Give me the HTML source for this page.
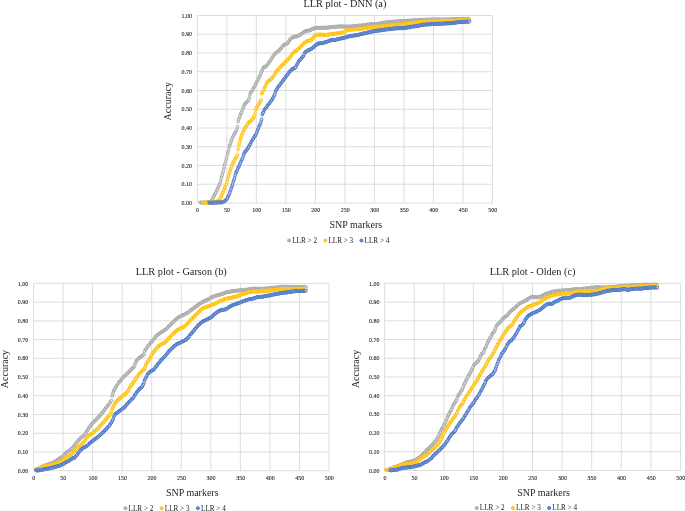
<!DOCTYPE html>
<html><head><meta charset="utf-8"><title>LLR plots</title>
<style>html,body{margin:0;padding:0;background:#fff;} body{width:685px;height:511px;overflow:hidden;font-family:"Liberation Serif", serif;} svg{display:block;will-change:transform;}</style>
</head><body>
<svg width="685" height="511" viewBox="0 0 685 511"><g stroke="#d9d9d9" stroke-width="0.9" fill="none"><line x1="197.30" y1="15.50" x2="492.50" y2="15.50"/><line x1="197.30" y1="15.50" x2="197.30" y2="203.00"/><line x1="197.30" y1="34.25" x2="492.50" y2="34.25"/><line x1="226.82" y1="15.50" x2="226.82" y2="203.00"/><line x1="197.30" y1="53.00" x2="492.50" y2="53.00"/><line x1="256.34" y1="15.50" x2="256.34" y2="203.00"/><line x1="197.30" y1="71.75" x2="492.50" y2="71.75"/><line x1="285.86" y1="15.50" x2="285.86" y2="203.00"/><line x1="197.30" y1="90.50" x2="492.50" y2="90.50"/><line x1="315.38" y1="15.50" x2="315.38" y2="203.00"/><line x1="197.30" y1="109.25" x2="492.50" y2="109.25"/><line x1="344.90" y1="15.50" x2="344.90" y2="203.00"/><line x1="197.30" y1="128.00" x2="492.50" y2="128.00"/><line x1="374.42" y1="15.50" x2="374.42" y2="203.00"/><line x1="197.30" y1="146.75" x2="492.50" y2="146.75"/><line x1="403.94" y1="15.50" x2="403.94" y2="203.00"/><line x1="197.30" y1="165.50" x2="492.50" y2="165.50"/><line x1="433.46" y1="15.50" x2="433.46" y2="203.00"/><line x1="197.30" y1="184.25" x2="492.50" y2="184.25"/><line x1="462.98" y1="15.50" x2="462.98" y2="203.00"/><line x1="197.30" y1="203.00" x2="492.50" y2="203.00"/><line x1="492.50" y1="15.50" x2="492.50" y2="203.00"/></g>
<g font-family='"Liberation Serif", serif' font-size="6" fill="#222222" stroke="#222222" stroke-width="0.1"><text x="192.10" y="205.10" text-anchor="end">0.00</text><text x="197.60" y="212.10" text-anchor="middle">0</text><text x="192.10" y="186.35" text-anchor="end">0.10</text><text x="227.12" y="212.10" text-anchor="middle">50</text><text x="192.10" y="167.60" text-anchor="end">0.20</text><text x="256.64" y="212.10" text-anchor="middle">100</text><text x="192.10" y="148.85" text-anchor="end">0.30</text><text x="286.16" y="212.10" text-anchor="middle">150</text><text x="192.10" y="130.10" text-anchor="end">0.40</text><text x="315.68" y="212.10" text-anchor="middle">200</text><text x="192.10" y="111.35" text-anchor="end">0.50</text><text x="345.20" y="212.10" text-anchor="middle">250</text><text x="192.10" y="92.60" text-anchor="end">0.60</text><text x="374.72" y="212.10" text-anchor="middle">300</text><text x="192.10" y="73.85" text-anchor="end">0.70</text><text x="404.24" y="212.10" text-anchor="middle">350</text><text x="192.10" y="55.10" text-anchor="end">0.80</text><text x="433.76" y="212.10" text-anchor="middle">400</text><text x="192.10" y="36.35" text-anchor="end">0.90</text><text x="463.28" y="212.10" text-anchor="middle">450</text><text x="192.10" y="17.60" text-anchor="end">1.00</text><text x="492.80" y="212.10" text-anchor="middle">500</text></g>
<text x="344.90" y="7.10" text-anchor="middle" font-family='"Liberation Serif", serif' font-size="10.3" fill="#262626">LLR plot - DNN (a)</text>
<text x="355.90" y="228.00" text-anchor="middle" font-family='"Liberation Serif", serif' font-size="10" fill="#262626">SNP markers</text>
<text transform="translate(171.40,101.25) rotate(-90)" text-anchor="middle" font-family='"Liberation Serif", serif' font-size="10" fill="#262626">Accuracy</text>
<circle cx="289.10" cy="240.50" r="1.55" fill="#a5a5a5" fill-opacity="0.8" stroke="#a5a5a5" stroke-width="0.9"/><text x="292.20" y="242.80" font-family='"Liberation Serif", serif' font-size="7.2" fill="#222222">LLR &gt; 2</text><circle cx="325.30" cy="240.50" r="1.55" fill="#ffc000" fill-opacity="0.8" stroke="#ffc000" stroke-width="0.9"/><text x="328.40" y="242.80" font-family='"Liberation Serif", serif' font-size="7.2" fill="#222222">LLR &gt; 3</text><circle cx="361.50" cy="240.50" r="1.55" fill="#4472c4" fill-opacity="0.8" stroke="#4472c4" stroke-width="0.9"/><text x="364.60" y="242.80" font-family='"Liberation Serif", serif' font-size="7.2" fill="#222222">LLR &gt; 4</text>
<g fill="#f0f0f0" stroke="#a5a5a5" stroke-width="0.95"><circle cx="200.30" cy="202.26" r="1.35"/><circle cx="200.89" cy="202.64" r="1.35"/><circle cx="201.48" cy="202.57" r="1.35"/><circle cx="202.07" cy="202.72" r="1.35"/><circle cx="202.66" cy="202.72" r="1.35"/><circle cx="203.25" cy="202.12" r="1.35"/><circle cx="203.84" cy="202.56" r="1.35"/><circle cx="204.43" cy="202.86" r="1.35"/><circle cx="205.02" cy="202.40" r="1.35"/><circle cx="205.61" cy="202.50" r="1.35"/><circle cx="206.20" cy="202.31" r="1.35"/><circle cx="206.79" cy="202.36" r="1.35"/><circle cx="207.38" cy="202.79" r="1.35"/><circle cx="207.98" cy="202.13" r="1.35"/><circle cx="208.57" cy="201.94" r="1.35"/><circle cx="209.16" cy="202.36" r="1.35"/><circle cx="209.75" cy="202.13" r="1.35"/><circle cx="210.34" cy="202.22" r="1.35"/><circle cx="210.93" cy="201.90" r="1.35"/><circle cx="211.52" cy="200.42" r="1.35"/><circle cx="212.11" cy="199.97" r="1.35"/><circle cx="212.70" cy="198.76" r="1.35"/><circle cx="213.29" cy="197.18" r="1.35"/><circle cx="213.88" cy="196.24" r="1.35"/><circle cx="214.47" cy="194.92" r="1.35"/><circle cx="215.06" cy="194.02" r="1.35"/><circle cx="215.65" cy="193.00" r="1.35"/><circle cx="216.24" cy="191.13" r="1.35"/><circle cx="216.83" cy="190.21" r="1.35"/><circle cx="217.42" cy="189.36" r="1.35"/><circle cx="218.01" cy="187.86" r="1.35"/><circle cx="218.60" cy="186.76" r="1.35"/><circle cx="219.19" cy="185.23" r="1.35"/><circle cx="219.78" cy="183.89" r="1.35"/><circle cx="220.37" cy="182.31" r="1.35"/><circle cx="220.96" cy="179.63" r="1.35"/><circle cx="221.55" cy="177.16" r="1.35"/><circle cx="222.14" cy="175.26" r="1.35"/><circle cx="222.74" cy="172.73" r="1.35"/><circle cx="223.33" cy="170.60" r="1.35"/><circle cx="223.92" cy="167.98" r="1.35"/><circle cx="224.51" cy="165.03" r="1.35"/><circle cx="225.10" cy="163.41" r="1.35"/><circle cx="225.69" cy="161.28" r="1.35"/><circle cx="226.28" cy="158.74" r="1.35"/><circle cx="226.87" cy="156.65" r="1.35"/><circle cx="227.46" cy="154.10" r="1.35"/><circle cx="228.05" cy="152.00" r="1.35"/><circle cx="228.64" cy="149.92" r="1.35"/><circle cx="229.23" cy="146.83" r="1.35"/><circle cx="229.82" cy="145.00" r="1.35"/><circle cx="230.41" cy="143.59" r="1.35"/><circle cx="231.00" cy="141.73" r="1.35"/><circle cx="231.59" cy="140.25" r="1.35"/><circle cx="232.18" cy="138.43" r="1.35"/><circle cx="232.77" cy="136.93" r="1.35"/><circle cx="233.36" cy="136.28" r="1.35"/><circle cx="233.95" cy="134.92" r="1.35"/><circle cx="234.54" cy="133.65" r="1.35"/><circle cx="235.13" cy="132.80" r="1.35"/><circle cx="235.72" cy="131.61" r="1.35"/><circle cx="236.31" cy="130.74" r="1.35"/><circle cx="236.90" cy="129.23" r="1.35"/><circle cx="237.50" cy="126.65" r="1.35"/><circle cx="238.09" cy="121.79" r="1.35"/><circle cx="238.68" cy="119.38" r="1.35"/><circle cx="239.27" cy="117.72" r="1.35"/><circle cx="239.86" cy="116.35" r="1.35"/><circle cx="240.45" cy="114.42" r="1.35"/><circle cx="241.04" cy="113.22" r="1.35"/><circle cx="241.63" cy="112.32" r="1.35"/><circle cx="242.22" cy="110.34" r="1.35"/><circle cx="242.81" cy="108.89" r="1.35"/><circle cx="243.40" cy="107.44" r="1.35"/><circle cx="243.99" cy="105.64" r="1.35"/><circle cx="244.58" cy="104.65" r="1.35"/><circle cx="245.17" cy="103.66" r="1.35"/><circle cx="245.76" cy="102.74" r="1.35"/><circle cx="246.35" cy="102.79" r="1.35"/><circle cx="246.94" cy="102.09" r="1.35"/><circle cx="247.53" cy="101.33" r="1.35"/><circle cx="248.12" cy="100.79" r="1.35"/><circle cx="248.71" cy="99.87" r="1.35"/><circle cx="249.30" cy="97.69" r="1.35"/><circle cx="249.89" cy="94.57" r="1.35"/><circle cx="250.48" cy="92.93" r="1.35"/><circle cx="251.07" cy="92.21" r="1.35"/><circle cx="251.66" cy="91.35" r="1.35"/><circle cx="252.26" cy="90.34" r="1.35"/><circle cx="252.85" cy="89.56" r="1.35"/><circle cx="253.44" cy="87.99" r="1.35"/><circle cx="254.03" cy="87.08" r="1.35"/><circle cx="254.62" cy="86.67" r="1.35"/><circle cx="255.21" cy="85.17" r="1.35"/><circle cx="255.80" cy="83.92" r="1.35"/><circle cx="256.39" cy="82.76" r="1.35"/><circle cx="256.98" cy="81.46" r="1.35"/><circle cx="257.57" cy="80.83" r="1.35"/><circle cx="258.16" cy="79.38" r="1.35"/><circle cx="258.75" cy="77.75" r="1.35"/><circle cx="259.34" cy="77.10" r="1.35"/><circle cx="259.93" cy="75.92" r="1.35"/><circle cx="260.52" cy="74.52" r="1.35"/><circle cx="261.11" cy="73.12" r="1.35"/><circle cx="261.70" cy="71.20" r="1.35"/><circle cx="262.29" cy="70.06" r="1.35"/><circle cx="262.88" cy="68.77" r="1.35"/><circle cx="263.47" cy="67.41" r="1.35"/><circle cx="264.06" cy="67.23" r="1.35"/><circle cx="264.65" cy="66.93" r="1.35"/><circle cx="265.24" cy="66.68" r="1.35"/><circle cx="265.83" cy="66.77" r="1.35"/><circle cx="266.42" cy="65.69" r="1.35"/><circle cx="267.02" cy="64.81" r="1.35"/><circle cx="267.61" cy="64.61" r="1.35"/><circle cx="268.20" cy="63.60" r="1.35"/><circle cx="268.79" cy="62.82" r="1.35"/><circle cx="269.38" cy="61.92" r="1.35"/><circle cx="269.97" cy="60.75" r="1.35"/><circle cx="270.56" cy="60.48" r="1.35"/><circle cx="271.15" cy="59.45" r="1.35"/><circle cx="271.74" cy="58.02" r="1.35"/><circle cx="272.33" cy="57.45" r="1.35"/><circle cx="272.92" cy="56.53" r="1.35"/><circle cx="273.51" cy="55.77" r="1.35"/><circle cx="274.10" cy="54.99" r="1.35"/><circle cx="274.69" cy="53.66" r="1.35"/><circle cx="275.28" cy="53.51" r="1.35"/><circle cx="275.87" cy="53.44" r="1.35"/><circle cx="276.46" cy="52.54" r="1.35"/><circle cx="277.05" cy="52.12" r="1.35"/><circle cx="277.64" cy="51.49" r="1.35"/><circle cx="278.23" cy="51.03" r="1.35"/><circle cx="278.82" cy="51.03" r="1.35"/><circle cx="279.41" cy="49.96" r="1.35"/><circle cx="280.00" cy="49.14" r="1.35"/><circle cx="280.59" cy="49.04" r="1.35"/><circle cx="281.18" cy="48.20" r="1.35"/><circle cx="281.78" cy="47.61" r="1.35"/><circle cx="282.37" cy="46.72" r="1.35"/><circle cx="282.96" cy="45.54" r="1.35"/><circle cx="283.55" cy="45.43" r="1.35"/><circle cx="284.14" cy="45.04" r="1.35"/><circle cx="284.73" cy="44.32" r="1.35"/><circle cx="285.32" cy="44.27" r="1.35"/><circle cx="285.91" cy="43.88" r="1.35"/><circle cx="286.50" cy="43.88" r="1.35"/><circle cx="287.09" cy="43.91" r="1.35"/><circle cx="287.68" cy="42.98" r="1.35"/><circle cx="288.27" cy="42.15" r="1.35"/><circle cx="288.86" cy="41.58" r="1.35"/><circle cx="289.45" cy="40.33" r="1.35"/><circle cx="290.04" cy="39.49" r="1.35"/><circle cx="290.63" cy="38.76" r="1.35"/><circle cx="291.22" cy="38.21" r="1.35"/><circle cx="291.81" cy="38.45" r="1.35"/><circle cx="292.40" cy="37.66" r="1.35"/><circle cx="292.99" cy="36.89" r="1.35"/><circle cx="293.58" cy="36.96" r="1.35"/><circle cx="294.17" cy="36.74" r="1.35"/><circle cx="294.76" cy="36.94" r="1.35"/><circle cx="295.35" cy="36.77" r="1.35"/><circle cx="295.94" cy="36.06" r="1.35"/><circle cx="296.54" cy="36.47" r="1.35"/><circle cx="297.13" cy="36.55" r="1.35"/><circle cx="297.72" cy="35.96" r="1.35"/><circle cx="298.31" cy="35.82" r="1.35"/><circle cx="298.90" cy="35.27" r="1.35"/><circle cx="299.49" cy="35.22" r="1.35"/><circle cx="300.08" cy="35.27" r="1.35"/><circle cx="300.67" cy="34.23" r="1.35"/><circle cx="301.26" cy="33.80" r="1.35"/><circle cx="301.85" cy="33.73" r="1.35"/><circle cx="302.44" cy="33.18" r="1.35"/><circle cx="303.03" cy="33.02" r="1.35"/><circle cx="303.62" cy="32.25" r="1.35"/><circle cx="304.21" cy="31.54" r="1.35"/><circle cx="304.80" cy="31.81" r="1.35"/><circle cx="305.39" cy="31.23" r="1.35"/><circle cx="305.98" cy="30.80" r="1.35"/><circle cx="306.57" cy="30.89" r="1.35"/><circle cx="307.16" cy="30.61" r="1.35"/><circle cx="307.75" cy="30.98" r="1.35"/><circle cx="308.34" cy="31.00" r="1.35"/><circle cx="308.93" cy="30.26" r="1.35"/><circle cx="309.52" cy="30.48" r="1.35"/><circle cx="310.11" cy="30.41" r="1.35"/><circle cx="310.70" cy="29.93" r="1.35"/><circle cx="311.30" cy="29.79" r="1.35"/><circle cx="311.89" cy="29.03" r="1.35"/><circle cx="312.48" cy="28.85" r="1.35"/><circle cx="313.07" cy="29.22" r="1.35"/><circle cx="313.66" cy="28.51" r="1.35"/><circle cx="314.25" cy="28.17" r="1.35"/><circle cx="314.84" cy="28.13" r="1.35"/><circle cx="315.43" cy="27.80" r="1.35"/><circle cx="316.02" cy="28.13" r="1.35"/><circle cx="316.61" cy="27.83" r="1.35"/><circle cx="317.20" cy="27.37" r="1.35"/><circle cx="317.79" cy="27.97" r="1.35"/><circle cx="318.38" cy="27.96" r="1.35"/><circle cx="318.97" cy="27.78" r="1.35"/><circle cx="319.56" cy="27.85" r="1.35"/><circle cx="320.15" cy="27.47" r="1.35"/><circle cx="320.74" cy="27.91" r="1.35"/><circle cx="321.33" cy="28.18" r="1.35"/><circle cx="321.92" cy="27.53" r="1.35"/><circle cx="322.51" cy="27.67" r="1.35"/><circle cx="323.10" cy="27.82" r="1.35"/><circle cx="323.69" cy="27.76" r="1.35"/><circle cx="324.28" cy="28.04" r="1.35"/><circle cx="324.87" cy="27.49" r="1.35"/><circle cx="325.46" cy="27.42" r="1.35"/><circle cx="326.06" cy="28.05" r="1.35"/><circle cx="326.65" cy="27.72" r="1.35"/><circle cx="327.24" cy="27.59" r="1.35"/><circle cx="327.83" cy="27.55" r="1.35"/><circle cx="328.42" cy="27.27" r="1.35"/><circle cx="329.01" cy="27.75" r="1.35"/><circle cx="329.60" cy="27.51" r="1.35"/><circle cx="330.19" cy="26.85" r="1.35"/><circle cx="330.78" cy="27.21" r="1.35"/><circle cx="331.37" cy="27.17" r="1.35"/><circle cx="331.96" cy="27.11" r="1.35"/><circle cx="332.55" cy="27.16" r="1.35"/><circle cx="333.14" cy="26.57" r="1.35"/><circle cx="333.73" cy="26.88" r="1.35"/><circle cx="334.32" cy="27.27" r="1.35"/><circle cx="334.91" cy="26.69" r="1.35"/><circle cx="335.50" cy="26.69" r="1.35"/><circle cx="336.09" cy="26.65" r="1.35"/><circle cx="336.68" cy="26.60" r="1.35"/><circle cx="337.27" cy="27.01" r="1.35"/><circle cx="337.86" cy="26.45" r="1.35"/><circle cx="338.45" cy="26.15" r="1.35"/><circle cx="339.04" cy="26.68" r="1.35"/><circle cx="339.63" cy="26.47" r="1.35"/><circle cx="340.22" cy="26.47" r="1.35"/><circle cx="340.82" cy="26.43" r="1.35"/><circle cx="341.41" cy="26.10" r="1.35"/><circle cx="342.00" cy="26.73" r="1.35"/><circle cx="342.59" cy="26.78" r="1.35"/><circle cx="343.18" cy="26.23" r="1.35"/><circle cx="343.77" cy="26.52" r="1.35"/><circle cx="344.36" cy="26.54" r="1.35"/><circle cx="344.95" cy="26.67" r="1.35"/><circle cx="345.54" cy="26.89" r="1.35"/><circle cx="346.13" cy="26.25" r="1.35"/><circle cx="346.72" cy="26.44" r="1.35"/><circle cx="347.31" cy="26.94" r="1.35"/><circle cx="347.90" cy="26.57" r="1.35"/><circle cx="348.49" cy="26.61" r="1.35"/><circle cx="349.08" cy="26.47" r="1.35"/><circle cx="349.67" cy="26.40" r="1.35"/><circle cx="350.26" cy="27.02" r="1.35"/><circle cx="350.85" cy="26.61" r="1.35"/><circle cx="351.44" cy="26.16" r="1.35"/><circle cx="352.03" cy="26.52" r="1.35"/><circle cx="352.62" cy="26.36" r="1.35"/><circle cx="353.21" cy="26.43" r="1.35"/><circle cx="353.80" cy="26.29" r="1.35"/><circle cx="354.39" cy="25.69" r="1.35"/><circle cx="354.98" cy="26.16" r="1.35"/><circle cx="355.58" cy="26.29" r="1.35"/><circle cx="356.17" cy="25.73" r="1.35"/><circle cx="356.76" cy="25.80" r="1.35"/><circle cx="357.35" cy="25.61" r="1.35"/><circle cx="357.94" cy="25.75" r="1.35"/><circle cx="358.53" cy="26.10" r="1.35"/><circle cx="359.12" cy="25.41" r="1.35"/><circle cx="359.71" cy="25.37" r="1.35"/><circle cx="360.30" cy="25.80" r="1.35"/><circle cx="360.89" cy="25.56" r="1.35"/><circle cx="361.48" cy="25.65" r="1.35"/><circle cx="362.07" cy="25.36" r="1.35"/><circle cx="362.66" cy="25.10" r="1.35"/><circle cx="363.25" cy="25.75" r="1.35"/><circle cx="363.84" cy="25.44" r="1.35"/><circle cx="364.43" cy="24.93" r="1.35"/><circle cx="365.02" cy="25.10" r="1.35"/><circle cx="365.61" cy="24.88" r="1.35"/><circle cx="366.20" cy="25.08" r="1.35"/><circle cx="366.79" cy="25.02" r="1.35"/><circle cx="367.38" cy="24.26" r="1.35"/><circle cx="367.97" cy="24.57" r="1.35"/><circle cx="368.56" cy="24.79" r="1.35"/><circle cx="369.15" cy="24.39" r="1.35"/><circle cx="369.74" cy="24.43" r="1.35"/><circle cx="370.34" cy="24.05" r="1.35"/><circle cx="370.93" cy="24.10" r="1.35"/><circle cx="371.52" cy="24.66" r="1.35"/><circle cx="372.11" cy="24.12" r="1.35"/><circle cx="372.70" cy="23.99" r="1.35"/><circle cx="373.29" cy="24.35" r="1.35"/><circle cx="373.88" cy="24.24" r="1.35"/><circle cx="374.47" cy="24.54" r="1.35"/><circle cx="375.06" cy="24.27" r="1.35"/><circle cx="375.65" cy="23.76" r="1.35"/><circle cx="376.24" cy="24.31" r="1.35"/><circle cx="376.83" cy="24.18" r="1.35"/><circle cx="377.42" cy="23.74" r="1.35"/><circle cx="378.01" cy="23.78" r="1.35"/><circle cx="378.60" cy="23.43" r="1.35"/><circle cx="379.19" cy="23.70" r="1.35"/><circle cx="379.78" cy="23.81" r="1.35"/><circle cx="380.37" cy="23.01" r="1.35"/><circle cx="380.96" cy="23.12" r="1.35"/><circle cx="381.55" cy="23.31" r="1.35"/><circle cx="382.14" cy="23.04" r="1.35"/><circle cx="382.73" cy="23.13" r="1.35"/><circle cx="383.32" cy="22.60" r="1.35"/><circle cx="383.91" cy="22.48" r="1.35"/><circle cx="384.50" cy="23.03" r="1.35"/><circle cx="385.10" cy="22.54" r="1.35"/><circle cx="385.69" cy="22.27" r="1.35"/><circle cx="386.28" cy="22.39" r="1.35"/><circle cx="386.87" cy="22.19" r="1.35"/><circle cx="387.46" cy="22.58" r="1.35"/><circle cx="388.05" cy="22.34" r="1.35"/><circle cx="388.64" cy="21.72" r="1.35"/><circle cx="389.23" cy="22.20" r="1.35"/><circle cx="389.82" cy="22.23" r="1.35"/><circle cx="390.41" cy="21.98" r="1.35"/><circle cx="391.00" cy="22.02" r="1.35"/><circle cx="391.59" cy="21.55" r="1.35"/><circle cx="392.18" cy="21.83" r="1.35"/><circle cx="392.77" cy="22.18" r="1.35"/><circle cx="393.36" cy="21.49" r="1.35"/><circle cx="393.95" cy="21.49" r="1.35"/><circle cx="394.54" cy="21.62" r="1.35"/><circle cx="395.13" cy="21.50" r="1.35"/><circle cx="395.72" cy="21.80" r="1.35"/><circle cx="396.31" cy="21.30" r="1.35"/><circle cx="396.90" cy="21.06" r="1.35"/><circle cx="397.49" cy="21.69" r="1.35"/><circle cx="398.08" cy="21.45" r="1.35"/><circle cx="398.67" cy="21.26" r="1.35"/><circle cx="399.26" cy="21.27" r="1.35"/><circle cx="399.86" cy="20.98" r="1.35"/><circle cx="400.45" cy="21.50" r="1.35"/><circle cx="401.04" cy="21.45" r="1.35"/><circle cx="401.63" cy="20.79" r="1.35"/><circle cx="402.22" cy="21.12" r="1.35"/><circle cx="402.81" cy="21.18" r="1.35"/><circle cx="403.40" cy="21.12" r="1.35"/><circle cx="403.99" cy="21.25" r="1.35"/><circle cx="404.58" cy="20.66" r="1.35"/><circle cx="405.17" cy="20.84" r="1.35"/><circle cx="405.76" cy="21.33" r="1.35"/><circle cx="406.35" cy="20.82" r="1.35"/><circle cx="406.94" cy="20.76" r="1.35"/><circle cx="407.53" cy="20.74" r="1.35"/><circle cx="408.12" cy="20.64" r="1.35"/><circle cx="408.71" cy="21.12" r="1.35"/><circle cx="409.30" cy="20.67" r="1.35"/><circle cx="409.89" cy="20.25" r="1.35"/><circle cx="410.48" cy="20.77" r="1.35"/><circle cx="411.07" cy="20.65" r="1.35"/><circle cx="411.66" cy="20.59" r="1.35"/><circle cx="412.25" cy="20.53" r="1.35"/><circle cx="412.84" cy="20.06" r="1.35"/><circle cx="413.43" cy="20.57" r="1.35"/><circle cx="414.02" cy="20.71" r="1.35"/><circle cx="414.62" cy="20.08" r="1.35"/><circle cx="415.21" cy="20.23" r="1.35"/><circle cx="415.80" cy="20.20" r="1.35"/><circle cx="416.39" cy="20.25" r="1.35"/><circle cx="416.98" cy="20.52" r="1.35"/><circle cx="417.57" cy="19.86" r="1.35"/><circle cx="418.16" cy="19.86" r="1.35"/><circle cx="418.75" cy="20.38" r="1.35"/><circle cx="419.34" cy="20.04" r="1.35"/><circle cx="419.93" cy="20.01" r="1.35"/><circle cx="420.52" cy="19.86" r="1.35"/><circle cx="421.11" cy="19.65" r="1.35"/><circle cx="421.70" cy="20.26" r="1.35"/><circle cx="422.29" cy="19.97" r="1.35"/><circle cx="422.88" cy="19.46" r="1.35"/><circle cx="423.47" cy="19.84" r="1.35"/><circle cx="424.06" cy="19.77" r="1.35"/><circle cx="424.65" cy="19.89" r="1.35"/><circle cx="425.24" cy="19.90" r="1.35"/><circle cx="425.83" cy="19.29" r="1.35"/><circle cx="426.42" cy="19.72" r="1.35"/><circle cx="427.01" cy="20.03" r="1.35"/><circle cx="427.60" cy="19.55" r="1.35"/><circle cx="428.19" cy="19.64" r="1.35"/><circle cx="428.78" cy="19.48" r="1.35"/><circle cx="429.38" cy="19.56" r="1.35"/><circle cx="429.97" cy="20.03" r="1.35"/><circle cx="430.56" cy="19.42" r="1.35"/><circle cx="431.15" cy="19.27" r="1.35"/><circle cx="431.74" cy="19.73" r="1.35"/><circle cx="432.33" cy="19.55" r="1.35"/><circle cx="432.92" cy="19.67" r="1.35"/><circle cx="433.51" cy="19.45" r="1.35"/><circle cx="434.10" cy="19.12" r="1.35"/><circle cx="434.69" cy="19.80" r="1.35"/><circle cx="435.28" cy="19.74" r="1.35"/><circle cx="435.87" cy="19.28" r="1.35"/><circle cx="436.46" cy="19.52" r="1.35"/><circle cx="437.05" cy="19.40" r="1.35"/><circle cx="437.64" cy="19.67" r="1.35"/><circle cx="438.23" cy="19.85" r="1.35"/><circle cx="438.82" cy="19.16" r="1.35"/><circle cx="439.41" cy="19.44" r="1.35"/><circle cx="440.00" cy="19.83" r="1.35"/><circle cx="440.59" cy="19.54" r="1.35"/><circle cx="441.18" cy="19.66" r="1.35"/><circle cx="441.77" cy="19.37" r="1.35"/><circle cx="442.36" cy="19.38" r="1.35"/><circle cx="442.95" cy="20.02" r="1.35"/><circle cx="443.54" cy="19.57" r="1.35"/><circle cx="444.14" cy="19.32" r="1.35"/><circle cx="444.73" cy="19.66" r="1.35"/><circle cx="445.32" cy="19.53" r="1.35"/><circle cx="445.91" cy="19.81" r="1.35"/><circle cx="446.50" cy="19.62" r="1.35"/><circle cx="447.09" cy="19.08" r="1.35"/><circle cx="447.68" cy="19.66" r="1.35"/><circle cx="448.27" cy="19.74" r="1.35"/><circle cx="448.86" cy="19.37" r="1.35"/><circle cx="449.45" cy="19.48" r="1.35"/><circle cx="450.04" cy="19.19" r="1.35"/><circle cx="450.63" cy="19.47" r="1.35"/><circle cx="451.22" cy="19.80" r="1.35"/><circle cx="451.81" cy="19.10" r="1.35"/><circle cx="452.40" cy="19.17" r="1.35"/><circle cx="452.99" cy="19.48" r="1.35"/><circle cx="453.58" cy="19.31" r="1.35"/><circle cx="454.17" cy="19.52" r="1.35"/><circle cx="454.76" cy="19.10" r="1.35"/><circle cx="455.35" cy="18.93" r="1.35"/><circle cx="455.94" cy="19.60" r="1.35"/><circle cx="456.53" cy="19.31" r="1.35"/><circle cx="457.12" cy="19.02" r="1.35"/><circle cx="457.71" cy="19.17" r="1.35"/><circle cx="458.30" cy="18.98" r="1.35"/><circle cx="458.90" cy="19.39" r="1.35"/><circle cx="459.49" cy="19.33" r="1.35"/><circle cx="460.08" cy="18.67" r="1.35"/><circle cx="460.67" cy="19.10" r="1.35"/><circle cx="461.26" cy="19.26" r="1.35"/><circle cx="461.85" cy="19.06" r="1.35"/><circle cx="462.44" cy="19.17" r="1.35"/><circle cx="463.03" cy="18.73" r="1.35"/><circle cx="463.62" cy="18.95" r="1.35"/><circle cx="464.21" cy="19.45" r="1.35"/><circle cx="464.80" cy="18.87" r="1.35"/><circle cx="465.39" cy="18.81" r="1.35"/><circle cx="465.98" cy="19.00" r="1.35"/><circle cx="466.57" cy="18.90" r="1.35"/><circle cx="467.16" cy="19.28" r="1.35"/><circle cx="467.75" cy="18.87" r="1.35"/><circle cx="468.34" cy="18.52" r="1.35"/><circle cx="468.93" cy="19.15" r="1.35"/></g>
<g fill="#fff4d0" stroke="#ffc000" stroke-width="0.95"><circle cx="203.20" cy="202.46" r="1.35"/><circle cx="203.79" cy="202.83" r="1.35"/><circle cx="204.38" cy="202.76" r="1.35"/><circle cx="204.97" cy="202.89" r="1.35"/><circle cx="205.56" cy="202.90" r="1.35"/><circle cx="206.15" cy="202.28" r="1.35"/><circle cx="206.74" cy="202.72" r="1.35"/><circle cx="207.33" cy="203.01" r="1.35"/><circle cx="207.92" cy="202.55" r="1.35"/><circle cx="208.51" cy="202.64" r="1.35"/><circle cx="209.10" cy="202.46" r="1.35"/><circle cx="209.69" cy="202.55" r="1.35"/><circle cx="210.28" cy="203.01" r="1.35"/><circle cx="210.88" cy="202.37" r="1.35"/><circle cx="211.47" cy="202.19" r="1.35"/><circle cx="212.06" cy="202.61" r="1.35"/><circle cx="212.65" cy="202.40" r="1.35"/><circle cx="213.24" cy="202.50" r="1.35"/><circle cx="213.83" cy="202.24" r="1.35"/><circle cx="214.42" cy="201.86" r="1.35"/><circle cx="215.01" cy="202.49" r="1.35"/><circle cx="215.60" cy="202.21" r="1.35"/><circle cx="216.19" cy="201.56" r="1.35"/><circle cx="216.78" cy="201.59" r="1.35"/><circle cx="217.37" cy="201.25" r="1.35"/><circle cx="217.96" cy="201.33" r="1.35"/><circle cx="218.55" cy="201.22" r="1.35"/><circle cx="219.14" cy="199.59" r="1.35"/><circle cx="219.73" cy="198.92" r="1.35"/><circle cx="220.32" cy="198.35" r="1.35"/><circle cx="220.91" cy="197.12" r="1.35"/><circle cx="221.50" cy="195.90" r="1.35"/><circle cx="222.09" cy="194.17" r="1.35"/><circle cx="222.68" cy="192.77" r="1.35"/><circle cx="223.27" cy="191.98" r="1.35"/><circle cx="223.86" cy="190.05" r="1.35"/><circle cx="224.45" cy="188.31" r="1.35"/><circle cx="225.04" cy="187.14" r="1.35"/><circle cx="225.64" cy="185.52" r="1.35"/><circle cx="226.23" cy="184.21" r="1.35"/><circle cx="226.82" cy="181.97" r="1.35"/><circle cx="227.41" cy="179.40" r="1.35"/><circle cx="228.00" cy="177.95" r="1.35"/><circle cx="228.59" cy="175.98" r="1.35"/><circle cx="229.18" cy="173.71" r="1.35"/><circle cx="229.77" cy="171.97" r="1.35"/><circle cx="230.36" cy="169.82" r="1.35"/><circle cx="230.95" cy="168.27" r="1.35"/><circle cx="231.54" cy="166.75" r="1.35"/><circle cx="232.13" cy="164.47" r="1.35"/><circle cx="232.72" cy="163.38" r="1.35"/><circle cx="233.31" cy="162.52" r="1.35"/><circle cx="233.90" cy="161.20" r="1.35"/><circle cx="234.49" cy="160.25" r="1.35"/><circle cx="235.08" cy="158.96" r="1.35"/><circle cx="235.67" cy="157.94" r="1.35"/><circle cx="236.26" cy="157.75" r="1.35"/><circle cx="236.85" cy="156.60" r="1.35"/><circle cx="237.44" cy="155.14" r="1.35"/><circle cx="238.03" cy="149.58" r="1.35"/><circle cx="238.62" cy="145.71" r="1.35"/><circle cx="239.21" cy="143.76" r="1.35"/><circle cx="239.80" cy="141.30" r="1.35"/><circle cx="240.40" cy="138.64" r="1.35"/><circle cx="240.99" cy="137.25" r="1.35"/><circle cx="241.58" cy="135.56" r="1.35"/><circle cx="242.17" cy="133.94" r="1.35"/><circle cx="242.76" cy="132.72" r="1.35"/><circle cx="243.35" cy="130.93" r="1.35"/><circle cx="243.94" cy="129.98" r="1.35"/><circle cx="244.53" cy="129.35" r="1.35"/><circle cx="245.12" cy="127.69" r="1.35"/><circle cx="245.71" cy="126.76" r="1.35"/><circle cx="246.30" cy="126.05" r="1.35"/><circle cx="246.89" cy="125.07" r="1.35"/><circle cx="247.48" cy="124.58" r="1.35"/><circle cx="248.07" cy="123.28" r="1.35"/><circle cx="248.66" cy="122.18" r="1.35"/><circle cx="249.25" cy="122.38" r="1.35"/><circle cx="249.84" cy="121.83" r="1.35"/><circle cx="250.43" cy="121.23" r="1.35"/><circle cx="251.02" cy="120.84" r="1.35"/><circle cx="251.61" cy="120.07" r="1.35"/><circle cx="252.20" cy="119.79" r="1.35"/><circle cx="252.79" cy="119.13" r="1.35"/><circle cx="253.38" cy="117.69" r="1.35"/><circle cx="253.97" cy="117.17" r="1.35"/><circle cx="254.56" cy="115.67" r="1.35"/><circle cx="255.16" cy="113.28" r="1.35"/><circle cx="255.75" cy="110.07" r="1.35"/><circle cx="256.34" cy="108.25" r="1.35"/><circle cx="256.93" cy="107.19" r="1.35"/><circle cx="257.52" cy="106.63" r="1.35"/><circle cx="258.11" cy="105.15" r="1.35"/><circle cx="258.70" cy="104.13" r="1.35"/><circle cx="259.29" cy="103.20" r="1.35"/><circle cx="259.88" cy="102.12" r="1.35"/><circle cx="260.47" cy="101.73" r="1.35"/><circle cx="261.06" cy="99.88" r="1.35"/><circle cx="261.65" cy="93.61" r="1.35"/><circle cx="262.24" cy="92.59" r="1.35"/><circle cx="262.83" cy="91.24" r="1.35"/><circle cx="263.42" cy="90.56" r="1.35"/><circle cx="264.01" cy="89.30" r="1.35"/><circle cx="264.60" cy="87.42" r="1.35"/><circle cx="265.19" cy="86.50" r="1.35"/><circle cx="265.78" cy="85.42" r="1.35"/><circle cx="266.37" cy="83.70" r="1.35"/><circle cx="266.96" cy="82.67" r="1.35"/><circle cx="267.55" cy="81.72" r="1.35"/><circle cx="268.14" cy="81.33" r="1.35"/><circle cx="268.73" cy="81.29" r="1.35"/><circle cx="269.32" cy="80.26" r="1.35"/><circle cx="269.92" cy="79.73" r="1.35"/><circle cx="270.51" cy="79.87" r="1.35"/><circle cx="271.10" cy="79.04" r="1.35"/><circle cx="271.69" cy="78.46" r="1.35"/><circle cx="272.28" cy="77.76" r="1.35"/><circle cx="272.87" cy="76.91" r="1.35"/><circle cx="273.46" cy="76.67" r="1.35"/><circle cx="274.05" cy="75.64" r="1.35"/><circle cx="274.64" cy="74.10" r="1.35"/><circle cx="275.23" cy="73.25" r="1.35"/><circle cx="275.82" cy="72.04" r="1.35"/><circle cx="276.41" cy="71.38" r="1.35"/><circle cx="277.00" cy="70.87" r="1.35"/><circle cx="277.59" cy="69.61" r="1.35"/><circle cx="278.18" cy="69.31" r="1.35"/><circle cx="278.77" cy="69.10" r="1.35"/><circle cx="279.36" cy="68.06" r="1.35"/><circle cx="279.95" cy="67.50" r="1.35"/><circle cx="280.54" cy="66.72" r="1.35"/><circle cx="281.13" cy="66.14" r="1.35"/><circle cx="281.72" cy="66.11" r="1.35"/><circle cx="282.31" cy="65.02" r="1.35"/><circle cx="282.90" cy="64.17" r="1.35"/><circle cx="283.49" cy="64.04" r="1.35"/><circle cx="284.08" cy="63.33" r="1.35"/><circle cx="284.68" cy="62.89" r="1.35"/><circle cx="285.27" cy="62.15" r="1.35"/><circle cx="285.86" cy="61.12" r="1.35"/><circle cx="286.45" cy="61.16" r="1.35"/><circle cx="287.04" cy="60.64" r="1.35"/><circle cx="287.63" cy="59.57" r="1.35"/><circle cx="288.22" cy="59.17" r="1.35"/><circle cx="288.81" cy="58.44" r="1.35"/><circle cx="289.40" cy="58.09" r="1.35"/><circle cx="289.99" cy="57.77" r="1.35"/><circle cx="290.58" cy="56.23" r="1.35"/><circle cx="291.17" cy="55.37" r="1.35"/><circle cx="291.76" cy="54.80" r="1.35"/><circle cx="292.35" cy="53.55" r="1.35"/><circle cx="292.94" cy="53.11" r="1.35"/><circle cx="293.53" cy="52.39" r="1.35"/><circle cx="294.12" cy="51.86" r="1.35"/><circle cx="294.71" cy="52.12" r="1.35"/><circle cx="295.30" cy="51.35" r="1.35"/><circle cx="295.89" cy="50.58" r="1.35"/><circle cx="296.48" cy="50.43" r="1.35"/><circle cx="297.07" cy="49.85" r="1.35"/><circle cx="297.66" cy="49.70" r="1.35"/><circle cx="298.25" cy="49.17" r="1.35"/><circle cx="298.84" cy="48.11" r="1.35"/><circle cx="299.44" cy="48.03" r="1.35"/><circle cx="300.03" cy="47.64" r="1.35"/><circle cx="300.62" cy="46.71" r="1.35"/><circle cx="301.21" cy="46.24" r="1.35"/><circle cx="301.80" cy="45.35" r="1.35"/><circle cx="302.39" cy="44.97" r="1.35"/><circle cx="302.98" cy="44.83" r="1.35"/><circle cx="303.57" cy="43.58" r="1.35"/><circle cx="304.16" cy="42.95" r="1.35"/><circle cx="304.75" cy="42.67" r="1.35"/><circle cx="305.34" cy="42.12" r="1.35"/><circle cx="305.93" cy="42.11" r="1.35"/><circle cx="306.52" cy="41.49" r="1.35"/><circle cx="307.11" cy="40.93" r="1.35"/><circle cx="307.70" cy="41.34" r="1.35"/><circle cx="308.29" cy="40.93" r="1.35"/><circle cx="308.88" cy="40.52" r="1.35"/><circle cx="309.47" cy="40.55" r="1.35"/><circle cx="310.06" cy="40.22" r="1.35"/><circle cx="310.65" cy="40.53" r="1.35"/><circle cx="311.24" cy="40.50" r="1.35"/><circle cx="311.83" cy="39.01" r="1.35"/><circle cx="312.42" cy="38.46" r="1.35"/><circle cx="313.01" cy="37.80" r="1.35"/><circle cx="313.60" cy="36.91" r="1.35"/><circle cx="314.20" cy="36.51" r="1.35"/><circle cx="314.79" cy="35.49" r="1.35"/><circle cx="315.38" cy="35.05" r="1.35"/><circle cx="315.97" cy="35.31" r="1.35"/><circle cx="316.56" cy="34.77" r="1.35"/><circle cx="317.15" cy="34.60" r="1.35"/><circle cx="317.74" cy="34.73" r="1.35"/><circle cx="318.33" cy="34.57" r="1.35"/><circle cx="318.92" cy="34.95" r="1.35"/><circle cx="319.51" cy="34.60" r="1.35"/><circle cx="320.10" cy="34.09" r="1.35"/><circle cx="320.69" cy="34.70" r="1.35"/><circle cx="321.28" cy="34.74" r="1.35"/><circle cx="321.87" cy="34.62" r="1.35"/><circle cx="322.46" cy="34.74" r="1.35"/><circle cx="323.05" cy="34.43" r="1.35"/><circle cx="323.64" cy="34.92" r="1.35"/><circle cx="324.23" cy="35.25" r="1.35"/><circle cx="324.82" cy="34.65" r="1.35"/><circle cx="325.41" cy="34.87" r="1.35"/><circle cx="326.00" cy="35.04" r="1.35"/><circle cx="326.59" cy="34.89" r="1.35"/><circle cx="327.18" cy="35.08" r="1.35"/><circle cx="327.77" cy="34.45" r="1.35"/><circle cx="328.36" cy="34.29" r="1.35"/><circle cx="328.96" cy="34.84" r="1.35"/><circle cx="329.55" cy="34.43" r="1.35"/><circle cx="330.14" cy="34.21" r="1.35"/><circle cx="330.73" cy="34.14" r="1.35"/><circle cx="331.32" cy="33.85" r="1.35"/><circle cx="331.91" cy="34.36" r="1.35"/><circle cx="332.50" cy="34.14" r="1.35"/><circle cx="333.09" cy="33.51" r="1.35"/><circle cx="333.68" cy="33.89" r="1.35"/><circle cx="334.27" cy="33.88" r="1.35"/><circle cx="334.86" cy="33.80" r="1.35"/><circle cx="335.45" cy="33.82" r="1.35"/><circle cx="336.04" cy="33.19" r="1.35"/><circle cx="336.63" cy="33.45" r="1.35"/><circle cx="337.22" cy="33.79" r="1.35"/><circle cx="337.81" cy="33.16" r="1.35"/><circle cx="338.40" cy="33.12" r="1.35"/><circle cx="338.99" cy="33.04" r="1.35"/><circle cx="339.58" cy="32.95" r="1.35"/><circle cx="340.17" cy="33.31" r="1.35"/><circle cx="340.76" cy="32.70" r="1.35"/><circle cx="341.35" cy="32.36" r="1.35"/><circle cx="341.94" cy="32.84" r="1.35"/><circle cx="342.53" cy="32.58" r="1.35"/><circle cx="343.12" cy="32.47" r="1.35"/><circle cx="343.72" cy="32.31" r="1.35"/><circle cx="344.31" cy="31.85" r="1.35"/><circle cx="344.90" cy="31.95" r="1.35"/><circle cx="345.49" cy="31.39" r="1.35"/><circle cx="346.08" cy="30.23" r="1.35"/><circle cx="346.67" cy="29.91" r="1.35"/><circle cx="347.26" cy="29.83" r="1.35"/><circle cx="347.85" cy="29.90" r="1.35"/><circle cx="348.44" cy="30.07" r="1.35"/><circle cx="349.03" cy="29.38" r="1.35"/><circle cx="349.62" cy="29.52" r="1.35"/><circle cx="350.21" cy="29.98" r="1.35"/><circle cx="350.80" cy="29.57" r="1.35"/><circle cx="351.39" cy="29.57" r="1.35"/><circle cx="351.98" cy="29.39" r="1.35"/><circle cx="352.57" cy="29.27" r="1.35"/><circle cx="353.16" cy="29.85" r="1.35"/><circle cx="353.75" cy="29.43" r="1.35"/><circle cx="354.34" cy="29.02" r="1.35"/><circle cx="354.93" cy="29.42" r="1.35"/><circle cx="355.52" cy="29.30" r="1.35"/><circle cx="356.11" cy="29.41" r="1.35"/><circle cx="356.70" cy="29.31" r="1.35"/><circle cx="357.29" cy="28.74" r="1.35"/><circle cx="357.88" cy="29.25" r="1.35"/><circle cx="358.48" cy="29.42" r="1.35"/><circle cx="359.07" cy="28.87" r="1.35"/><circle cx="359.66" cy="28.93" r="1.35"/><circle cx="360.25" cy="28.72" r="1.35"/><circle cx="360.84" cy="28.81" r="1.35"/><circle cx="361.43" cy="29.13" r="1.35"/><circle cx="362.02" cy="28.40" r="1.35"/><circle cx="362.61" cy="28.32" r="1.35"/><circle cx="363.20" cy="28.71" r="1.35"/><circle cx="363.79" cy="28.43" r="1.35"/><circle cx="364.38" cy="28.48" r="1.35"/><circle cx="364.97" cy="28.15" r="1.35"/><circle cx="365.56" cy="27.84" r="1.35"/><circle cx="366.15" cy="28.44" r="1.35"/><circle cx="366.74" cy="28.15" r="1.35"/><circle cx="367.33" cy="27.66" r="1.35"/><circle cx="367.92" cy="27.84" r="1.35"/><circle cx="368.51" cy="27.64" r="1.35"/><circle cx="369.10" cy="27.85" r="1.35"/><circle cx="369.69" cy="27.81" r="1.35"/><circle cx="370.28" cy="27.07" r="1.35"/><circle cx="370.87" cy="27.43" r="1.35"/><circle cx="371.46" cy="27.69" r="1.35"/><circle cx="372.05" cy="27.34" r="1.35"/><circle cx="372.64" cy="27.42" r="1.35"/><circle cx="373.24" cy="27.08" r="1.35"/><circle cx="373.83" cy="27.16" r="1.35"/><circle cx="374.42" cy="27.69" r="1.35"/><circle cx="375.01" cy="27.09" r="1.35"/><circle cx="375.60" cy="26.88" r="1.35"/><circle cx="376.19" cy="27.16" r="1.35"/><circle cx="376.78" cy="26.97" r="1.35"/><circle cx="377.37" cy="27.19" r="1.35"/><circle cx="377.96" cy="26.86" r="1.35"/><circle cx="378.55" cy="26.39" r="1.35"/><circle cx="379.14" cy="26.99" r="1.35"/><circle cx="379.73" cy="26.89" r="1.35"/><circle cx="380.32" cy="26.50" r="1.35"/><circle cx="380.91" cy="26.57" r="1.35"/><circle cx="381.50" cy="26.26" r="1.35"/><circle cx="382.09" cy="26.57" r="1.35"/><circle cx="382.68" cy="26.73" r="1.35"/><circle cx="383.27" cy="25.97" r="1.35"/><circle cx="383.86" cy="26.12" r="1.35"/><circle cx="384.45" cy="26.35" r="1.35"/><circle cx="385.04" cy="26.12" r="1.35"/><circle cx="385.63" cy="26.25" r="1.35"/><circle cx="386.22" cy="25.75" r="1.35"/><circle cx="386.81" cy="25.66" r="1.35"/><circle cx="387.40" cy="26.25" r="1.35"/><circle cx="388.00" cy="25.79" r="1.35"/><circle cx="388.59" cy="25.52" r="1.35"/><circle cx="389.18" cy="25.63" r="1.35"/><circle cx="389.77" cy="25.42" r="1.35"/><circle cx="390.36" cy="25.79" r="1.35"/><circle cx="390.95" cy="25.55" r="1.35"/><circle cx="391.54" cy="24.91" r="1.35"/><circle cx="392.13" cy="25.38" r="1.35"/><circle cx="392.72" cy="25.39" r="1.35"/><circle cx="393.31" cy="25.13" r="1.35"/><circle cx="393.90" cy="25.16" r="1.35"/><circle cx="394.49" cy="24.68" r="1.35"/><circle cx="395.08" cy="24.96" r="1.35"/><circle cx="395.67" cy="25.30" r="1.35"/><circle cx="396.26" cy="24.62" r="1.35"/><circle cx="396.85" cy="24.63" r="1.35"/><circle cx="397.44" cy="24.76" r="1.35"/><circle cx="398.03" cy="24.65" r="1.35"/><circle cx="398.62" cy="24.94" r="1.35"/><circle cx="399.21" cy="24.42" r="1.35"/><circle cx="399.80" cy="24.16" r="1.35"/><circle cx="400.39" cy="24.77" r="1.35"/><circle cx="400.98" cy="24.51" r="1.35"/><circle cx="401.57" cy="24.31" r="1.35"/><circle cx="402.16" cy="24.30" r="1.35"/><circle cx="402.76" cy="23.99" r="1.35"/><circle cx="403.35" cy="24.48" r="1.35"/><circle cx="403.94" cy="24.42" r="1.35"/><circle cx="404.53" cy="23.74" r="1.35"/><circle cx="405.12" cy="24.03" r="1.35"/><circle cx="405.71" cy="24.04" r="1.35"/><circle cx="406.30" cy="23.93" r="1.35"/><circle cx="406.89" cy="24.01" r="1.35"/><circle cx="407.48" cy="23.37" r="1.35"/><circle cx="408.07" cy="23.51" r="1.35"/><circle cx="408.66" cy="23.96" r="1.35"/><circle cx="409.25" cy="23.40" r="1.35"/><circle cx="409.84" cy="23.30" r="1.35"/><circle cx="410.43" cy="23.25" r="1.35"/><circle cx="411.02" cy="23.10" r="1.35"/><circle cx="411.61" cy="23.54" r="1.35"/><circle cx="412.20" cy="23.05" r="1.35"/><circle cx="412.79" cy="22.59" r="1.35"/><circle cx="413.38" cy="23.07" r="1.35"/><circle cx="413.97" cy="22.91" r="1.35"/><circle cx="414.56" cy="22.80" r="1.35"/><circle cx="415.15" cy="22.70" r="1.35"/><circle cx="415.74" cy="22.19" r="1.35"/><circle cx="416.33" cy="22.65" r="1.35"/><circle cx="416.92" cy="22.75" r="1.35"/><circle cx="417.52" cy="22.07" r="1.35"/><circle cx="418.11" cy="22.18" r="1.35"/><circle cx="418.70" cy="22.11" r="1.35"/><circle cx="419.29" cy="22.11" r="1.35"/><circle cx="419.88" cy="22.34" r="1.35"/><circle cx="420.47" cy="21.69" r="1.35"/><circle cx="421.06" cy="21.71" r="1.35"/><circle cx="421.65" cy="22.25" r="1.35"/><circle cx="422.24" cy="21.92" r="1.35"/><circle cx="422.83" cy="21.91" r="1.35"/><circle cx="423.42" cy="21.77" r="1.35"/><circle cx="424.01" cy="21.58" r="1.35"/><circle cx="424.60" cy="22.20" r="1.35"/><circle cx="425.19" cy="21.92" r="1.35"/><circle cx="425.78" cy="21.43" r="1.35"/><circle cx="426.37" cy="21.81" r="1.35"/><circle cx="426.96" cy="21.74" r="1.35"/><circle cx="427.55" cy="21.86" r="1.35"/><circle cx="428.14" cy="21.86" r="1.35"/><circle cx="428.73" cy="21.25" r="1.35"/><circle cx="429.32" cy="21.67" r="1.35"/><circle cx="429.91" cy="21.97" r="1.35"/><circle cx="430.50" cy="21.49" r="1.35"/><circle cx="431.09" cy="21.57" r="1.35"/><circle cx="431.68" cy="21.41" r="1.35"/><circle cx="432.28" cy="21.49" r="1.35"/><circle cx="432.87" cy="21.95" r="1.35"/><circle cx="433.46" cy="21.34" r="1.35"/><circle cx="434.05" cy="21.17" r="1.35"/><circle cx="434.64" cy="21.62" r="1.35"/><circle cx="435.23" cy="21.43" r="1.35"/><circle cx="435.82" cy="21.53" r="1.35"/><circle cx="436.41" cy="21.30" r="1.35"/><circle cx="437.00" cy="20.93" r="1.35"/><circle cx="437.59" cy="21.57" r="1.35"/><circle cx="438.18" cy="21.48" r="1.35"/><circle cx="438.77" cy="20.99" r="1.35"/><circle cx="439.36" cy="21.19" r="1.35"/><circle cx="439.95" cy="21.04" r="1.35"/><circle cx="440.54" cy="21.27" r="1.35"/><circle cx="441.13" cy="21.41" r="1.35"/><circle cx="441.72" cy="20.69" r="1.35"/><circle cx="442.31" cy="20.93" r="1.35"/><circle cx="442.90" cy="21.28" r="1.35"/><circle cx="443.49" cy="20.96" r="1.35"/><circle cx="444.08" cy="21.04" r="1.35"/><circle cx="444.67" cy="20.71" r="1.35"/><circle cx="445.26" cy="20.70" r="1.35"/><circle cx="445.85" cy="21.32" r="1.35"/><circle cx="446.44" cy="20.85" r="1.35"/><circle cx="447.04" cy="20.59" r="1.35"/><circle cx="447.63" cy="20.91" r="1.35"/><circle cx="448.22" cy="20.78" r="1.35"/><circle cx="448.81" cy="21.06" r="1.35"/><circle cx="449.40" cy="20.88" r="1.35"/><circle cx="449.99" cy="20.35" r="1.35"/><circle cx="450.58" cy="20.94" r="1.35"/><circle cx="451.17" cy="21.02" r="1.35"/><circle cx="451.76" cy="20.66" r="1.35"/><circle cx="452.35" cy="20.78" r="1.35"/><circle cx="452.94" cy="20.50" r="1.35"/><circle cx="453.53" cy="20.79" r="1.35"/><circle cx="454.12" cy="21.13" r="1.35"/><circle cx="454.71" cy="20.43" r="1.35"/><circle cx="455.30" cy="20.50" r="1.35"/><circle cx="455.89" cy="20.80" r="1.35"/><circle cx="456.48" cy="20.63" r="1.35"/><circle cx="457.07" cy="20.82" r="1.35"/><circle cx="457.66" cy="20.40" r="1.35"/><circle cx="458.25" cy="20.22" r="1.35"/><circle cx="458.84" cy="20.88" r="1.35"/><circle cx="459.43" cy="20.58" r="1.35"/><circle cx="460.02" cy="20.28" r="1.35"/><circle cx="460.61" cy="20.42" r="1.35"/><circle cx="461.20" cy="20.22" r="1.35"/><circle cx="461.80" cy="20.63" r="1.35"/><circle cx="462.39" cy="20.55" r="1.35"/><circle cx="462.98" cy="19.89" r="1.35"/><circle cx="463.57" cy="20.30" r="1.35"/><circle cx="464.16" cy="20.45" r="1.35"/><circle cx="464.75" cy="20.23" r="1.35"/><circle cx="465.34" cy="20.32" r="1.35"/><circle cx="465.93" cy="19.86" r="1.35"/><circle cx="466.52" cy="20.07" r="1.35"/><circle cx="467.11" cy="20.56" r="1.35"/><circle cx="467.70" cy="19.96" r="1.35"/><circle cx="468.29" cy="19.88" r="1.35"/><circle cx="468.88" cy="20.05" r="1.35"/><circle cx="469.47" cy="19.94" r="1.35"/></g>
<g fill="#e0e8f6" stroke="#4472c4" stroke-width="0.95"><circle cx="209.10" cy="202.46" r="1.35"/><circle cx="209.69" cy="202.83" r="1.35"/><circle cx="210.28" cy="202.75" r="1.35"/><circle cx="210.87" cy="202.89" r="1.35"/><circle cx="211.46" cy="202.89" r="1.35"/><circle cx="212.05" cy="202.27" r="1.35"/><circle cx="212.64" cy="202.70" r="1.35"/><circle cx="213.23" cy="203.00" r="1.35"/><circle cx="213.82" cy="202.53" r="1.35"/><circle cx="214.41" cy="202.61" r="1.35"/><circle cx="215.00" cy="202.43" r="1.35"/><circle cx="215.59" cy="202.52" r="1.35"/><circle cx="216.18" cy="202.98" r="1.35"/><circle cx="216.78" cy="202.36" r="1.35"/><circle cx="217.37" cy="202.21" r="1.35"/><circle cx="217.96" cy="202.65" r="1.35"/><circle cx="218.55" cy="202.46" r="1.35"/><circle cx="219.14" cy="202.58" r="1.35"/><circle cx="219.73" cy="202.35" r="1.35"/><circle cx="220.32" cy="201.98" r="1.35"/><circle cx="220.91" cy="202.64" r="1.35"/><circle cx="221.50" cy="202.54" r="1.35"/><circle cx="222.09" cy="202.03" r="1.35"/><circle cx="222.68" cy="202.00" r="1.35"/><circle cx="223.27" cy="201.61" r="1.35"/><circle cx="223.86" cy="201.64" r="1.35"/><circle cx="224.45" cy="201.54" r="1.35"/><circle cx="225.04" cy="200.57" r="1.35"/><circle cx="225.63" cy="200.14" r="1.35"/><circle cx="226.22" cy="199.80" r="1.35"/><circle cx="226.81" cy="198.80" r="1.35"/><circle cx="227.40" cy="198.22" r="1.35"/><circle cx="227.99" cy="196.68" r="1.35"/><circle cx="228.58" cy="195.37" r="1.35"/><circle cx="229.17" cy="194.67" r="1.35"/><circle cx="229.76" cy="192.70" r="1.35"/><circle cx="230.35" cy="190.73" r="1.35"/><circle cx="230.94" cy="189.32" r="1.35"/><circle cx="231.54" cy="187.46" r="1.35"/><circle cx="232.13" cy="186.04" r="1.35"/><circle cx="232.72" cy="184.05" r="1.35"/><circle cx="233.31" cy="181.42" r="1.35"/><circle cx="233.90" cy="179.90" r="1.35"/><circle cx="234.49" cy="177.87" r="1.35"/><circle cx="235.08" cy="175.42" r="1.35"/><circle cx="235.67" cy="173.65" r="1.35"/><circle cx="236.26" cy="172.03" r="1.35"/><circle cx="236.85" cy="171.02" r="1.35"/><circle cx="237.44" cy="170.03" r="1.35"/><circle cx="238.03" cy="168.02" r="1.35"/><circle cx="238.62" cy="166.78" r="1.35"/><circle cx="239.21" cy="165.77" r="1.35"/><circle cx="239.80" cy="164.28" r="1.35"/><circle cx="240.39" cy="163.17" r="1.35"/><circle cx="240.98" cy="161.41" r="1.35"/><circle cx="241.57" cy="159.91" r="1.35"/><circle cx="242.16" cy="159.25" r="1.35"/><circle cx="242.75" cy="157.63" r="1.35"/><circle cx="243.34" cy="155.64" r="1.35"/><circle cx="243.93" cy="153.95" r="1.35"/><circle cx="244.52" cy="152.18" r="1.35"/><circle cx="245.11" cy="152.02" r="1.35"/><circle cx="245.70" cy="151.34" r="1.35"/><circle cx="246.30" cy="150.09" r="1.35"/><circle cx="246.89" cy="149.75" r="1.35"/><circle cx="247.48" cy="148.95" r="1.35"/><circle cx="248.07" cy="147.82" r="1.35"/><circle cx="248.66" cy="146.99" r="1.35"/><circle cx="249.25" cy="145.51" r="1.35"/><circle cx="249.84" cy="144.62" r="1.35"/><circle cx="250.43" cy="144.00" r="1.35"/><circle cx="251.02" cy="142.29" r="1.35"/><circle cx="251.61" cy="141.16" r="1.35"/><circle cx="252.20" cy="140.39" r="1.35"/><circle cx="252.79" cy="139.37" r="1.35"/><circle cx="253.38" cy="138.83" r="1.35"/><circle cx="253.97" cy="137.48" r="1.35"/><circle cx="254.56" cy="136.17" r="1.35"/><circle cx="255.15" cy="135.84" r="1.35"/><circle cx="255.74" cy="134.75" r="1.35"/><circle cx="256.33" cy="133.58" r="1.35"/><circle cx="256.92" cy="132.06" r="1.35"/><circle cx="257.51" cy="130.17" r="1.35"/><circle cx="258.10" cy="129.12" r="1.35"/><circle cx="258.69" cy="127.72" r="1.35"/><circle cx="259.28" cy="125.80" r="1.35"/><circle cx="259.87" cy="124.78" r="1.35"/><circle cx="260.46" cy="123.64" r="1.35"/><circle cx="261.06" cy="121.57" r="1.35"/><circle cx="261.65" cy="119.42" r="1.35"/><circle cx="262.24" cy="114.72" r="1.35"/><circle cx="262.83" cy="113.13" r="1.35"/><circle cx="263.42" cy="112.05" r="1.35"/><circle cx="264.01" cy="110.42" r="1.35"/><circle cx="264.60" cy="109.23" r="1.35"/><circle cx="265.19" cy="108.72" r="1.35"/><circle cx="265.78" cy="107.92" r="1.35"/><circle cx="266.37" cy="107.65" r="1.35"/><circle cx="266.96" cy="106.53" r="1.35"/><circle cx="267.55" cy="105.23" r="1.35"/><circle cx="268.14" cy="104.92" r="1.35"/><circle cx="268.73" cy="104.11" r="1.35"/><circle cx="269.32" cy="103.31" r="1.35"/><circle cx="269.91" cy="102.55" r="1.35"/><circle cx="270.50" cy="101.27" r="1.35"/><circle cx="271.09" cy="100.94" r="1.35"/><circle cx="271.68" cy="100.37" r="1.35"/><circle cx="272.27" cy="98.92" r="1.35"/><circle cx="272.86" cy="98.17" r="1.35"/><circle cx="273.45" cy="97.16" r="1.35"/><circle cx="274.04" cy="95.75" r="1.35"/><circle cx="274.63" cy="94.68" r="1.35"/><circle cx="275.22" cy="92.62" r="1.35"/><circle cx="275.82" cy="90.75" r="1.35"/><circle cx="276.41" cy="90.10" r="1.35"/><circle cx="277.00" cy="88.90" r="1.35"/><circle cx="277.59" cy="87.93" r="1.35"/><circle cx="278.18" cy="86.91" r="1.35"/><circle cx="278.77" cy="85.88" r="1.35"/><circle cx="279.36" cy="85.76" r="1.35"/><circle cx="279.95" cy="84.87" r="1.35"/><circle cx="280.54" cy="83.58" r="1.35"/><circle cx="281.13" cy="83.14" r="1.35"/><circle cx="281.72" cy="82.34" r="1.35"/><circle cx="282.31" cy="81.70" r="1.35"/><circle cx="282.90" cy="81.05" r="1.35"/><circle cx="283.49" cy="79.64" r="1.35"/><circle cx="284.08" cy="79.18" r="1.35"/><circle cx="284.67" cy="78.78" r="1.35"/><circle cx="285.26" cy="77.54" r="1.35"/><circle cx="285.85" cy="76.79" r="1.35"/><circle cx="286.44" cy="75.82" r="1.35"/><circle cx="287.03" cy="75.03" r="1.35"/><circle cx="287.62" cy="74.80" r="1.35"/><circle cx="288.21" cy="73.50" r="1.35"/><circle cx="288.80" cy="72.45" r="1.35"/><circle cx="289.39" cy="72.12" r="1.35"/><circle cx="289.98" cy="71.20" r="1.35"/><circle cx="290.58" cy="70.75" r="1.35"/><circle cx="291.17" cy="70.12" r="1.35"/><circle cx="291.76" cy="69.19" r="1.35"/><circle cx="292.35" cy="69.33" r="1.35"/><circle cx="292.94" cy="69.05" r="1.35"/><circle cx="293.53" cy="68.29" r="1.35"/><circle cx="294.12" cy="68.18" r="1.35"/><circle cx="294.71" cy="67.75" r="1.35"/><circle cx="295.30" cy="67.68" r="1.35"/><circle cx="295.89" cy="67.37" r="1.35"/><circle cx="296.48" cy="65.47" r="1.35"/><circle cx="297.07" cy="64.39" r="1.35"/><circle cx="297.66" cy="63.63" r="1.35"/><circle cx="298.25" cy="62.20" r="1.35"/><circle cx="298.84" cy="61.18" r="1.35"/><circle cx="299.43" cy="60.30" r="1.35"/><circle cx="300.02" cy="59.61" r="1.35"/><circle cx="300.61" cy="59.70" r="1.35"/><circle cx="301.20" cy="58.73" r="1.35"/><circle cx="301.79" cy="57.64" r="1.35"/><circle cx="302.38" cy="57.18" r="1.35"/><circle cx="302.97" cy="56.29" r="1.35"/><circle cx="303.56" cy="55.79" r="1.35"/><circle cx="304.15" cy="54.46" r="1.35"/><circle cx="304.74" cy="52.60" r="1.35"/><circle cx="305.34" cy="52.30" r="1.35"/><circle cx="305.93" cy="52.03" r="1.35"/><circle cx="306.52" cy="51.23" r="1.35"/><circle cx="307.11" cy="50.88" r="1.35"/><circle cx="307.70" cy="50.23" r="1.35"/><circle cx="308.29" cy="50.23" r="1.35"/><circle cx="308.88" cy="50.47" r="1.35"/><circle cx="309.47" cy="49.61" r="1.35"/><circle cx="310.06" cy="49.35" r="1.35"/><circle cx="310.65" cy="49.42" r="1.35"/><circle cx="311.24" cy="48.89" r="1.35"/><circle cx="311.83" cy="48.76" r="1.35"/><circle cx="312.42" cy="48.02" r="1.35"/><circle cx="313.01" cy="47.30" r="1.35"/><circle cx="313.60" cy="47.41" r="1.35"/><circle cx="314.19" cy="46.66" r="1.35"/><circle cx="314.78" cy="45.77" r="1.35"/><circle cx="315.37" cy="45.38" r="1.35"/><circle cx="315.96" cy="44.78" r="1.35"/><circle cx="316.55" cy="44.80" r="1.35"/><circle cx="317.14" cy="44.49" r="1.35"/><circle cx="317.73" cy="43.46" r="1.35"/><circle cx="318.32" cy="43.60" r="1.35"/><circle cx="318.91" cy="43.64" r="1.35"/><circle cx="319.50" cy="43.27" r="1.35"/><circle cx="320.10" cy="43.27" r="1.35"/><circle cx="320.69" cy="42.82" r="1.35"/><circle cx="321.28" cy="42.93" r="1.35"/><circle cx="321.87" cy="43.53" r="1.35"/><circle cx="322.46" cy="42.90" r="1.35"/><circle cx="323.05" cy="42.63" r="1.35"/><circle cx="323.64" cy="42.66" r="1.35"/><circle cx="324.23" cy="42.39" r="1.35"/><circle cx="324.82" cy="42.67" r="1.35"/><circle cx="325.41" cy="42.22" r="1.35"/><circle cx="326.00" cy="41.61" r="1.35"/><circle cx="326.59" cy="42.06" r="1.35"/><circle cx="327.18" cy="41.81" r="1.35"/><circle cx="327.77" cy="41.39" r="1.35"/><circle cx="328.36" cy="41.22" r="1.35"/><circle cx="328.95" cy="40.61" r="1.35"/><circle cx="329.54" cy="40.81" r="1.35"/><circle cx="330.13" cy="40.85" r="1.35"/><circle cx="330.72" cy="39.95" r="1.35"/><circle cx="331.31" cy="39.88" r="1.35"/><circle cx="331.90" cy="40.03" r="1.35"/><circle cx="332.49" cy="39.97" r="1.35"/><circle cx="333.08" cy="40.25" r="1.35"/><circle cx="333.67" cy="39.70" r="1.35"/><circle cx="334.26" cy="39.63" r="1.35"/><circle cx="334.86" cy="40.26" r="1.35"/><circle cx="335.45" cy="39.88" r="1.35"/><circle cx="336.04" cy="39.60" r="1.35"/><circle cx="336.63" cy="39.47" r="1.35"/><circle cx="337.22" cy="39.12" r="1.35"/><circle cx="337.81" cy="39.52" r="1.35"/><circle cx="338.40" cy="39.21" r="1.35"/><circle cx="338.99" cy="38.48" r="1.35"/><circle cx="339.58" cy="38.79" r="1.35"/><circle cx="340.17" cy="38.71" r="1.35"/><circle cx="340.76" cy="38.56" r="1.35"/><circle cx="341.35" cy="38.52" r="1.35"/><circle cx="341.94" cy="37.86" r="1.35"/><circle cx="342.53" cy="38.08" r="1.35"/><circle cx="343.12" cy="38.38" r="1.35"/><circle cx="343.71" cy="37.72" r="1.35"/><circle cx="344.30" cy="37.64" r="1.35"/><circle cx="344.89" cy="37.48" r="1.35"/><circle cx="345.48" cy="37.30" r="1.35"/><circle cx="346.07" cy="37.58" r="1.35"/><circle cx="346.66" cy="36.89" r="1.35"/><circle cx="347.25" cy="36.46" r="1.35"/><circle cx="347.84" cy="36.86" r="1.35"/><circle cx="348.43" cy="36.54" r="1.35"/><circle cx="349.02" cy="36.43" r="1.35"/><circle cx="349.62" cy="36.25" r="1.35"/><circle cx="350.21" cy="35.80" r="1.35"/><circle cx="350.80" cy="36.30" r="1.35"/><circle cx="351.39" cy="36.22" r="1.35"/><circle cx="351.98" cy="35.55" r="1.35"/><circle cx="352.57" cy="35.72" r="1.35"/><circle cx="353.16" cy="35.63" r="1.35"/><circle cx="353.75" cy="35.66" r="1.35"/><circle cx="354.34" cy="35.78" r="1.35"/><circle cx="354.93" cy="35.05" r="1.35"/><circle cx="355.52" cy="35.15" r="1.35"/><circle cx="356.11" cy="35.57" r="1.35"/><circle cx="356.70" cy="35.12" r="1.35"/><circle cx="357.29" cy="35.07" r="1.35"/><circle cx="357.88" cy="34.82" r="1.35"/><circle cx="358.47" cy="34.60" r="1.35"/><circle cx="359.06" cy="35.07" r="1.35"/><circle cx="359.65" cy="34.53" r="1.35"/><circle cx="360.24" cy="34.00" r="1.35"/><circle cx="360.83" cy="34.29" r="1.35"/><circle cx="361.42" cy="34.06" r="1.35"/><circle cx="362.01" cy="34.05" r="1.35"/><circle cx="362.60" cy="33.85" r="1.35"/><circle cx="363.19" cy="33.19" r="1.35"/><circle cx="363.78" cy="33.61" r="1.35"/><circle cx="364.38" cy="33.69" r="1.35"/><circle cx="364.97" cy="33.08" r="1.35"/><circle cx="365.56" cy="33.10" r="1.35"/><circle cx="366.15" cy="32.83" r="1.35"/><circle cx="366.74" cy="32.87" r="1.35"/><circle cx="367.33" cy="33.13" r="1.35"/><circle cx="367.92" cy="32.35" r="1.35"/><circle cx="368.51" cy="32.20" r="1.35"/><circle cx="369.10" cy="32.51" r="1.35"/><circle cx="369.69" cy="32.15" r="1.35"/><circle cx="370.28" cy="32.13" r="1.35"/><circle cx="370.87" cy="31.73" r="1.35"/><circle cx="371.46" cy="31.35" r="1.35"/><circle cx="372.05" cy="31.92" r="1.35"/><circle cx="372.64" cy="31.62" r="1.35"/><circle cx="373.23" cy="31.12" r="1.35"/><circle cx="373.82" cy="31.30" r="1.35"/><circle cx="374.41" cy="31.08" r="1.35"/><circle cx="375.00" cy="31.29" r="1.35"/><circle cx="375.59" cy="31.25" r="1.35"/><circle cx="376.18" cy="30.50" r="1.35"/><circle cx="376.77" cy="30.81" r="1.35"/><circle cx="377.36" cy="31.03" r="1.35"/><circle cx="377.95" cy="30.62" r="1.35"/><circle cx="378.54" cy="30.65" r="1.35"/><circle cx="379.14" cy="30.26" r="1.35"/><circle cx="379.73" cy="30.29" r="1.35"/><circle cx="380.32" cy="30.77" r="1.35"/><circle cx="380.91" cy="30.12" r="1.35"/><circle cx="381.50" cy="29.89" r="1.35"/><circle cx="382.09" cy="30.15" r="1.35"/><circle cx="382.68" cy="29.94" r="1.35"/><circle cx="383.27" cy="30.13" r="1.35"/><circle cx="383.86" cy="29.78" r="1.35"/><circle cx="384.45" cy="29.28" r="1.35"/><circle cx="385.04" cy="29.86" r="1.35"/><circle cx="385.63" cy="29.75" r="1.35"/><circle cx="386.22" cy="29.35" r="1.35"/><circle cx="386.81" cy="29.42" r="1.35"/><circle cx="387.40" cy="29.10" r="1.35"/><circle cx="387.99" cy="29.41" r="1.35"/><circle cx="388.58" cy="29.56" r="1.35"/><circle cx="389.17" cy="28.79" r="1.35"/><circle cx="389.76" cy="28.94" r="1.35"/><circle cx="390.35" cy="29.16" r="1.35"/><circle cx="390.94" cy="28.93" r="1.35"/><circle cx="391.53" cy="29.05" r="1.35"/><circle cx="392.12" cy="28.55" r="1.35"/><circle cx="392.71" cy="28.46" r="1.35"/><circle cx="393.30" cy="29.06" r="1.35"/><circle cx="393.90" cy="28.60" r="1.35"/><circle cx="394.49" cy="28.32" r="1.35"/><circle cx="395.08" cy="28.44" r="1.35"/><circle cx="395.67" cy="28.24" r="1.35"/><circle cx="396.26" cy="28.66" r="1.35"/><circle cx="396.85" cy="28.46" r="1.35"/><circle cx="397.44" cy="27.87" r="1.35"/><circle cx="398.03" cy="28.38" r="1.35"/><circle cx="398.62" cy="28.44" r="1.35"/><circle cx="399.21" cy="28.22" r="1.35"/><circle cx="399.80" cy="28.30" r="1.35"/><circle cx="400.39" cy="27.86" r="1.35"/><circle cx="400.98" cy="28.18" r="1.35"/><circle cx="401.57" cy="28.56" r="1.35"/><circle cx="402.16" cy="27.90" r="1.35"/><circle cx="402.75" cy="27.93" r="1.35"/><circle cx="403.34" cy="28.09" r="1.35"/><circle cx="403.93" cy="28.01" r="1.35"/><circle cx="404.52" cy="28.33" r="1.35"/><circle cx="405.11" cy="27.77" r="1.35"/><circle cx="405.70" cy="27.46" r="1.35"/><circle cx="406.29" cy="28.02" r="1.35"/><circle cx="406.88" cy="27.70" r="1.35"/><circle cx="407.47" cy="27.44" r="1.35"/><circle cx="408.06" cy="27.38" r="1.35"/><circle cx="408.66" cy="27.02" r="1.35"/><circle cx="409.25" cy="27.46" r="1.35"/><circle cx="409.84" cy="27.34" r="1.35"/><circle cx="410.43" cy="26.61" r="1.35"/><circle cx="411.02" cy="26.86" r="1.35"/><circle cx="411.61" cy="26.85" r="1.35"/><circle cx="412.20" cy="26.72" r="1.35"/><circle cx="412.79" cy="26.79" r="1.35"/><circle cx="413.38" cy="26.14" r="1.35"/><circle cx="413.97" cy="26.27" r="1.35"/><circle cx="414.56" cy="26.71" r="1.35"/><circle cx="415.15" cy="26.14" r="1.35"/><circle cx="415.74" cy="26.03" r="1.35"/><circle cx="416.33" cy="25.97" r="1.35"/><circle cx="416.92" cy="25.81" r="1.35"/><circle cx="417.51" cy="26.24" r="1.35"/><circle cx="418.10" cy="25.74" r="1.35"/><circle cx="418.69" cy="25.28" r="1.35"/><circle cx="419.28" cy="25.75" r="1.35"/><circle cx="419.87" cy="25.57" r="1.35"/><circle cx="420.46" cy="25.43" r="1.35"/><circle cx="421.05" cy="25.29" r="1.35"/><circle cx="421.64" cy="24.74" r="1.35"/><circle cx="422.23" cy="25.16" r="1.35"/><circle cx="422.82" cy="25.22" r="1.35"/><circle cx="423.42" cy="24.51" r="1.35"/><circle cx="424.01" cy="24.62" r="1.35"/><circle cx="424.60" cy="24.59" r="1.35"/><circle cx="425.19" cy="24.63" r="1.35"/><circle cx="425.78" cy="24.89" r="1.35"/><circle cx="426.37" cy="24.23" r="1.35"/><circle cx="426.96" cy="24.22" r="1.35"/><circle cx="427.55" cy="24.74" r="1.35"/><circle cx="428.14" cy="24.39" r="1.35"/><circle cx="428.73" cy="24.36" r="1.35"/><circle cx="429.32" cy="24.20" r="1.35"/><circle cx="429.91" cy="23.99" r="1.35"/><circle cx="430.50" cy="24.59" r="1.35"/><circle cx="431.09" cy="24.29" r="1.35"/><circle cx="431.68" cy="23.78" r="1.35"/><circle cx="432.27" cy="24.14" r="1.35"/><circle cx="432.86" cy="24.05" r="1.35"/><circle cx="433.45" cy="24.14" r="1.35"/><circle cx="434.04" cy="24.14" r="1.35"/><circle cx="434.63" cy="23.53" r="1.35"/><circle cx="435.22" cy="23.94" r="1.35"/><circle cx="435.81" cy="24.24" r="1.35"/><circle cx="436.40" cy="23.76" r="1.35"/><circle cx="436.99" cy="23.83" r="1.35"/><circle cx="437.58" cy="23.67" r="1.35"/><circle cx="438.18" cy="23.74" r="1.35"/><circle cx="438.77" cy="24.20" r="1.35"/><circle cx="439.36" cy="23.59" r="1.35"/><circle cx="439.95" cy="23.42" r="1.35"/><circle cx="440.54" cy="23.88" r="1.35"/><circle cx="441.13" cy="23.69" r="1.35"/><circle cx="441.72" cy="23.79" r="1.35"/><circle cx="442.31" cy="23.57" r="1.35"/><circle cx="442.90" cy="23.21" r="1.35"/><circle cx="443.49" cy="23.85" r="1.35"/><circle cx="444.08" cy="23.76" r="1.35"/><circle cx="444.67" cy="23.28" r="1.35"/><circle cx="445.26" cy="23.48" r="1.35"/><circle cx="445.85" cy="23.33" r="1.35"/><circle cx="446.44" cy="23.56" r="1.35"/><circle cx="447.03" cy="23.70" r="1.35"/><circle cx="447.62" cy="22.98" r="1.35"/><circle cx="448.21" cy="23.22" r="1.35"/><circle cx="448.80" cy="23.57" r="1.35"/><circle cx="449.39" cy="23.24" r="1.35"/><circle cx="449.98" cy="23.33" r="1.35"/><circle cx="450.57" cy="23.00" r="1.35"/><circle cx="451.16" cy="22.98" r="1.35"/><circle cx="451.75" cy="23.58" r="1.35"/><circle cx="452.34" cy="23.06" r="1.35"/><circle cx="452.94" cy="22.72" r="1.35"/><circle cx="453.53" cy="22.97" r="1.35"/><circle cx="454.12" cy="22.76" r="1.35"/><circle cx="454.71" cy="22.97" r="1.35"/><circle cx="455.30" cy="22.72" r="1.35"/><circle cx="455.89" cy="22.11" r="1.35"/><circle cx="456.48" cy="22.62" r="1.35"/><circle cx="457.07" cy="22.63" r="1.35"/><circle cx="457.66" cy="22.19" r="1.35"/><circle cx="458.25" cy="22.24" r="1.35"/><circle cx="458.84" cy="21.88" r="1.35"/><circle cx="459.43" cy="22.10" r="1.35"/><circle cx="460.02" cy="22.40" r="1.35"/><circle cx="460.61" cy="21.69" r="1.35"/><circle cx="461.20" cy="21.76" r="1.35"/><circle cx="461.79" cy="22.06" r="1.35"/><circle cx="462.38" cy="21.89" r="1.35"/><circle cx="462.97" cy="22.09" r="1.35"/><circle cx="463.56" cy="21.67" r="1.35"/><circle cx="464.15" cy="21.49" r="1.35"/><circle cx="464.74" cy="22.16" r="1.35"/><circle cx="465.33" cy="21.86" r="1.35"/><circle cx="465.92" cy="21.57" r="1.35"/><circle cx="466.51" cy="21.72" r="1.35"/><circle cx="467.10" cy="21.52" r="1.35"/><circle cx="467.70" cy="21.93" r="1.35"/><circle cx="468.29" cy="21.86" r="1.35"/><circle cx="468.88" cy="21.20" r="1.35"/><circle cx="469.47" cy="21.62" r="1.35"/></g>
<g stroke="#d9d9d9" stroke-width="0.9" fill="none"><line x1="33.50" y1="283.40" x2="329.00" y2="283.40"/><line x1="33.50" y1="283.40" x2="33.50" y2="470.70"/><line x1="33.50" y1="302.13" x2="329.00" y2="302.13"/><line x1="63.05" y1="283.40" x2="63.05" y2="470.70"/><line x1="33.50" y1="320.86" x2="329.00" y2="320.86"/><line x1="92.60" y1="283.40" x2="92.60" y2="470.70"/><line x1="33.50" y1="339.59" x2="329.00" y2="339.59"/><line x1="122.15" y1="283.40" x2="122.15" y2="470.70"/><line x1="33.50" y1="358.32" x2="329.00" y2="358.32"/><line x1="151.70" y1="283.40" x2="151.70" y2="470.70"/><line x1="33.50" y1="377.05" x2="329.00" y2="377.05"/><line x1="181.25" y1="283.40" x2="181.25" y2="470.70"/><line x1="33.50" y1="395.78" x2="329.00" y2="395.78"/><line x1="210.80" y1="283.40" x2="210.80" y2="470.70"/><line x1="33.50" y1="414.51" x2="329.00" y2="414.51"/><line x1="240.35" y1="283.40" x2="240.35" y2="470.70"/><line x1="33.50" y1="433.24" x2="329.00" y2="433.24"/><line x1="269.90" y1="283.40" x2="269.90" y2="470.70"/><line x1="33.50" y1="451.97" x2="329.00" y2="451.97"/><line x1="299.45" y1="283.40" x2="299.45" y2="470.70"/><line x1="33.50" y1="470.70" x2="329.00" y2="470.70"/><line x1="329.00" y1="283.40" x2="329.00" y2="470.70"/></g>
<g font-family='"Liberation Serif", serif' font-size="6" fill="#222222" stroke="#222222" stroke-width="0.1"><text x="28.30" y="472.80" text-anchor="end">0.00</text><text x="33.80" y="479.80" text-anchor="middle">0</text><text x="28.30" y="454.07" text-anchor="end">0.10</text><text x="63.35" y="479.80" text-anchor="middle">50</text><text x="28.30" y="435.34" text-anchor="end">0.20</text><text x="92.90" y="479.80" text-anchor="middle">100</text><text x="28.30" y="416.61" text-anchor="end">0.30</text><text x="122.45" y="479.80" text-anchor="middle">150</text><text x="28.30" y="397.88" text-anchor="end">0.40</text><text x="152.00" y="479.80" text-anchor="middle">200</text><text x="28.30" y="379.15" text-anchor="end">0.50</text><text x="181.55" y="479.80" text-anchor="middle">250</text><text x="28.30" y="360.42" text-anchor="end">0.60</text><text x="211.10" y="479.80" text-anchor="middle">300</text><text x="28.30" y="341.69" text-anchor="end">0.70</text><text x="240.65" y="479.80" text-anchor="middle">350</text><text x="28.30" y="322.96" text-anchor="end">0.80</text><text x="270.20" y="479.80" text-anchor="middle">400</text><text x="28.30" y="304.23" text-anchor="end">0.90</text><text x="299.75" y="479.80" text-anchor="middle">450</text><text x="28.30" y="285.50" text-anchor="end">1.00</text><text x="329.30" y="479.80" text-anchor="middle">500</text></g>
<text x="181.25" y="275.00" text-anchor="middle" font-family='"Liberation Serif", serif' font-size="10.3" fill="#262626">LLR plot - Garson (b)</text>
<text x="192.25" y="495.70" text-anchor="middle" font-family='"Liberation Serif", serif' font-size="10" fill="#262626">SNP markers</text>
<text transform="translate(7.60,369.05) rotate(-90)" text-anchor="middle" font-family='"Liberation Serif", serif' font-size="10" fill="#262626">Accuracy</text>
<circle cx="125.45" cy="508.20" r="1.55" fill="#a5a5a5" fill-opacity="0.8" stroke="#a5a5a5" stroke-width="0.9"/><text x="128.55" y="510.50" font-family='"Liberation Serif", serif' font-size="7.2" fill="#222222">LLR &gt; 2</text><circle cx="161.65" cy="508.20" r="1.55" fill="#ffc000" fill-opacity="0.8" stroke="#ffc000" stroke-width="0.9"/><text x="164.75" y="510.50" font-family='"Liberation Serif", serif' font-size="7.2" fill="#222222">LLR &gt; 3</text><circle cx="197.85" cy="508.20" r="1.55" fill="#4472c4" fill-opacity="0.8" stroke="#4472c4" stroke-width="0.9"/><text x="200.95" y="510.50" font-family='"Liberation Serif", serif' font-size="7.2" fill="#222222">LLR &gt; 4</text>
<g fill="#f0f0f0" stroke="#a5a5a5" stroke-width="0.95"><circle cx="35.90" cy="469.06" r="1.35"/><circle cx="36.49" cy="469.22" r="1.35"/><circle cx="37.08" cy="468.94" r="1.35"/><circle cx="37.67" cy="468.86" r="1.35"/><circle cx="38.26" cy="468.66" r="1.35"/><circle cx="38.86" cy="467.83" r="1.35"/><circle cx="39.45" cy="468.06" r="1.35"/><circle cx="40.04" cy="468.11" r="1.35"/><circle cx="40.63" cy="467.36" r="1.35"/><circle cx="41.22" cy="467.16" r="1.35"/><circle cx="41.81" cy="466.70" r="1.35"/><circle cx="42.40" cy="466.51" r="1.35"/><circle cx="42.99" cy="466.69" r="1.35"/><circle cx="43.58" cy="465.80" r="1.35"/><circle cx="44.17" cy="465.46" r="1.35"/><circle cx="44.77" cy="465.74" r="1.35"/><circle cx="45.36" cy="465.40" r="1.35"/><circle cx="45.95" cy="465.36" r="1.35"/><circle cx="46.54" cy="464.96" r="1.35"/><circle cx="47.13" cy="464.44" r="1.35"/><circle cx="47.72" cy="464.93" r="1.35"/><circle cx="48.31" cy="464.64" r="1.35"/><circle cx="48.90" cy="463.99" r="1.35"/><circle cx="49.49" cy="464.00" r="1.35"/><circle cx="50.08" cy="463.65" r="1.35"/><circle cx="50.68" cy="463.72" r="1.35"/><circle cx="51.27" cy="463.67" r="1.35"/><circle cx="51.86" cy="462.73" r="1.35"/><circle cx="52.45" cy="462.71" r="1.35"/><circle cx="53.04" cy="462.79" r="1.35"/><circle cx="53.63" cy="462.21" r="1.35"/><circle cx="54.22" cy="462.04" r="1.35"/><circle cx="54.81" cy="461.43" r="1.35"/><circle cx="55.40" cy="461.16" r="1.35"/><circle cx="55.99" cy="461.40" r="1.35"/><circle cx="56.59" cy="460.53" r="1.35"/><circle cx="57.18" cy="459.88" r="1.35"/><circle cx="57.77" cy="459.79" r="1.35"/><circle cx="58.36" cy="459.26" r="1.35"/><circle cx="58.95" cy="459.16" r="1.35"/><circle cx="59.54" cy="458.57" r="1.35"/><circle cx="60.13" cy="457.65" r="1.35"/><circle cx="60.72" cy="457.84" r="1.35"/><circle cx="61.31" cy="457.51" r="1.35"/><circle cx="61.90" cy="456.77" r="1.35"/><circle cx="62.50" cy="456.48" r="1.35"/><circle cx="63.09" cy="455.79" r="1.35"/><circle cx="63.68" cy="455.52" r="1.35"/><circle cx="64.27" cy="455.18" r="1.35"/><circle cx="64.86" cy="453.82" r="1.35"/><circle cx="65.45" cy="453.23" r="1.35"/><circle cx="66.04" cy="452.85" r="1.35"/><circle cx="66.63" cy="452.16" r="1.35"/><circle cx="67.22" cy="452.06" r="1.35"/><circle cx="67.81" cy="451.31" r="1.35"/><circle cx="68.41" cy="450.82" r="1.35"/><circle cx="69.00" cy="451.17" r="1.35"/><circle cx="69.59" cy="450.56" r="1.35"/><circle cx="70.18" cy="449.81" r="1.35"/><circle cx="70.77" cy="449.47" r="1.35"/><circle cx="71.36" cy="448.80" r="1.35"/><circle cx="71.95" cy="448.76" r="1.35"/><circle cx="72.54" cy="448.20" r="1.35"/><circle cx="73.13" cy="446.89" r="1.35"/><circle cx="73.72" cy="446.50" r="1.35"/><circle cx="74.31" cy="445.82" r="1.35"/><circle cx="74.91" cy="444.82" r="1.35"/><circle cx="75.50" cy="444.15" r="1.35"/><circle cx="76.09" cy="442.96" r="1.35"/><circle cx="76.68" cy="442.47" r="1.35"/><circle cx="77.27" cy="442.23" r="1.35"/><circle cx="77.86" cy="440.92" r="1.35"/><circle cx="78.45" cy="440.18" r="1.35"/><circle cx="79.04" cy="439.77" r="1.35"/><circle cx="79.63" cy="439.10" r="1.35"/><circle cx="80.22" cy="438.91" r="1.35"/><circle cx="80.82" cy="437.92" r="1.35"/><circle cx="81.41" cy="436.99" r="1.35"/><circle cx="82.00" cy="437.19" r="1.35"/><circle cx="82.59" cy="436.64" r="1.35"/><circle cx="83.18" cy="436.03" r="1.35"/><circle cx="83.77" cy="435.63" r="1.35"/><circle cx="84.36" cy="434.86" r="1.35"/><circle cx="84.95" cy="434.60" r="1.35"/><circle cx="85.54" cy="433.72" r="1.35"/><circle cx="86.13" cy="432.07" r="1.35"/><circle cx="86.73" cy="431.33" r="1.35"/><circle cx="87.32" cy="430.48" r="1.35"/><circle cx="87.91" cy="429.50" r="1.35"/><circle cx="88.50" cy="428.76" r="1.35"/><circle cx="89.09" cy="427.24" r="1.35"/><circle cx="89.68" cy="426.51" r="1.35"/><circle cx="90.27" cy="426.36" r="1.35"/><circle cx="90.86" cy="425.22" r="1.35"/><circle cx="91.45" cy="424.41" r="1.35"/><circle cx="92.04" cy="423.68" r="1.35"/><circle cx="92.64" cy="422.88" r="1.35"/><circle cx="93.23" cy="422.84" r="1.35"/><circle cx="93.82" cy="421.96" r="1.35"/><circle cx="94.41" cy="420.89" r="1.35"/><circle cx="95.00" cy="420.80" r="1.35"/><circle cx="95.59" cy="420.19" r="1.35"/><circle cx="96.18" cy="419.59" r="1.35"/><circle cx="96.77" cy="419.03" r="1.35"/><circle cx="97.36" cy="417.94" r="1.35"/><circle cx="97.95" cy="417.82" r="1.35"/><circle cx="98.55" cy="417.53" r="1.35"/><circle cx="99.14" cy="416.31" r="1.35"/><circle cx="99.73" cy="415.77" r="1.35"/><circle cx="100.32" cy="415.11" r="1.35"/><circle cx="100.91" cy="414.49" r="1.35"/><circle cx="101.50" cy="414.22" r="1.35"/><circle cx="102.09" cy="412.90" r="1.35"/><circle cx="102.68" cy="412.01" r="1.35"/><circle cx="103.27" cy="411.81" r="1.35"/><circle cx="103.86" cy="410.79" r="1.35"/><circle cx="104.46" cy="410.00" r="1.35"/><circle cx="105.05" cy="409.11" r="1.35"/><circle cx="105.64" cy="408.06" r="1.35"/><circle cx="106.23" cy="407.93" r="1.35"/><circle cx="106.82" cy="407.07" r="1.35"/><circle cx="107.41" cy="405.80" r="1.35"/><circle cx="108.00" cy="405.39" r="1.35"/><circle cx="108.59" cy="404.62" r="1.35"/><circle cx="109.18" cy="403.99" r="1.35"/><circle cx="109.77" cy="403.24" r="1.35"/><circle cx="110.37" cy="401.72" r="1.35"/><circle cx="110.96" cy="401.18" r="1.35"/><circle cx="111.55" cy="400.72" r="1.35"/><circle cx="112.14" cy="396.03" r="1.35"/><circle cx="112.73" cy="393.84" r="1.35"/><circle cx="113.32" cy="391.95" r="1.35"/><circle cx="113.91" cy="390.38" r="1.35"/><circle cx="114.50" cy="389.91" r="1.35"/><circle cx="115.09" cy="388.38" r="1.35"/><circle cx="115.68" cy="387.09" r="1.35"/><circle cx="116.28" cy="386.55" r="1.35"/><circle cx="116.87" cy="385.47" r="1.35"/><circle cx="117.46" cy="384.66" r="1.35"/><circle cx="118.05" cy="383.55" r="1.35"/><circle cx="118.64" cy="382.23" r="1.35"/><circle cx="119.23" cy="382.21" r="1.35"/><circle cx="119.82" cy="381.64" r="1.35"/><circle cx="120.41" cy="380.52" r="1.35"/><circle cx="121.00" cy="380.02" r="1.35"/><circle cx="121.59" cy="379.12" r="1.35"/><circle cx="122.19" cy="378.59" r="1.35"/><circle cx="122.78" cy="378.11" r="1.35"/><circle cx="123.37" cy="376.73" r="1.35"/><circle cx="123.96" cy="376.36" r="1.35"/><circle cx="124.55" cy="376.27" r="1.35"/><circle cx="125.14" cy="375.51" r="1.35"/><circle cx="125.73" cy="375.09" r="1.35"/><circle cx="126.32" cy="374.21" r="1.35"/><circle cx="126.91" cy="373.52" r="1.35"/><circle cx="127.50" cy="373.60" r="1.35"/><circle cx="128.10" cy="372.67" r="1.35"/><circle cx="128.69" cy="371.74" r="1.35"/><circle cx="129.28" cy="371.45" r="1.35"/><circle cx="129.87" cy="370.75" r="1.35"/><circle cx="130.46" cy="370.46" r="1.35"/><circle cx="131.05" cy="369.80" r="1.35"/><circle cx="131.64" cy="368.61" r="1.35"/><circle cx="132.23" cy="368.53" r="1.35"/><circle cx="132.82" cy="368.14" r="1.35"/><circle cx="133.41" cy="367.21" r="1.35"/><circle cx="134.01" cy="366.74" r="1.35"/><circle cx="134.60" cy="365.85" r="1.35"/><circle cx="135.19" cy="363.54" r="1.35"/><circle cx="135.78" cy="362.45" r="1.35"/><circle cx="136.37" cy="360.96" r="1.35"/><circle cx="136.96" cy="360.08" r="1.35"/><circle cx="137.55" cy="359.56" r="1.35"/><circle cx="138.14" cy="358.67" r="1.35"/><circle cx="138.73" cy="358.48" r="1.35"/><circle cx="139.32" cy="357.67" r="1.35"/><circle cx="139.92" cy="356.93" r="1.35"/><circle cx="140.51" cy="357.17" r="1.35"/><circle cx="141.10" cy="356.55" r="1.35"/><circle cx="141.69" cy="355.82" r="1.35"/><circle cx="142.28" cy="355.55" r="1.35"/><circle cx="142.87" cy="354.91" r="1.35"/><circle cx="143.46" cy="354.91" r="1.35"/><circle cx="144.05" cy="354.57" r="1.35"/><circle cx="144.64" cy="351.79" r="1.35"/><circle cx="145.23" cy="349.83" r="1.35"/><circle cx="145.83" cy="349.27" r="1.35"/><circle cx="146.42" cy="348.32" r="1.35"/><circle cx="147.01" cy="347.69" r="1.35"/><circle cx="147.60" cy="346.46" r="1.35"/><circle cx="148.19" cy="345.80" r="1.35"/><circle cx="148.78" cy="345.63" r="1.35"/><circle cx="149.37" cy="344.36" r="1.35"/><circle cx="149.96" cy="343.46" r="1.35"/><circle cx="150.55" cy="342.92" r="1.35"/><circle cx="151.14" cy="342.16" r="1.35"/><circle cx="151.74" cy="341.94" r="1.35"/><circle cx="152.33" cy="340.98" r="1.35"/><circle cx="152.92" cy="339.87" r="1.35"/><circle cx="153.51" cy="339.72" r="1.35"/><circle cx="154.10" cy="338.92" r="1.35"/><circle cx="154.69" cy="337.94" r="1.35"/><circle cx="155.28" cy="337.21" r="1.35"/><circle cx="155.87" cy="336.04" r="1.35"/><circle cx="156.46" cy="335.79" r="1.35"/><circle cx="157.05" cy="335.62" r="1.35"/><circle cx="157.65" cy="334.53" r="1.35"/><circle cx="158.24" cy="334.25" r="1.35"/><circle cx="158.83" cy="333.97" r="1.35"/><circle cx="159.42" cy="333.49" r="1.35"/><circle cx="160.01" cy="333.40" r="1.35"/><circle cx="160.60" cy="332.49" r="1.35"/><circle cx="161.19" cy="332.05" r="1.35"/><circle cx="161.78" cy="332.32" r="1.35"/><circle cx="162.37" cy="331.62" r="1.35"/><circle cx="162.96" cy="331.15" r="1.35"/><circle cx="163.56" cy="330.83" r="1.35"/><circle cx="164.15" cy="330.28" r="1.35"/><circle cx="164.74" cy="330.50" r="1.35"/><circle cx="165.33" cy="329.99" r="1.35"/><circle cx="165.92" cy="328.98" r="1.35"/><circle cx="166.51" cy="328.81" r="1.35"/><circle cx="167.10" cy="328.24" r="1.35"/><circle cx="167.69" cy="327.61" r="1.35"/><circle cx="168.28" cy="327.09" r="1.35"/><circle cx="168.87" cy="325.94" r="1.35"/><circle cx="169.47" cy="325.71" r="1.35"/><circle cx="170.06" cy="325.54" r="1.35"/><circle cx="170.65" cy="324.42" r="1.35"/><circle cx="171.24" cy="323.87" r="1.35"/><circle cx="171.83" cy="323.30" r="1.35"/><circle cx="172.42" cy="322.71" r="1.35"/><circle cx="173.01" cy="322.58" r="1.35"/><circle cx="173.60" cy="321.48" r="1.35"/><circle cx="174.19" cy="320.65" r="1.35"/><circle cx="174.79" cy="320.64" r="1.35"/><circle cx="175.38" cy="319.94" r="1.35"/><circle cx="175.97" cy="319.41" r="1.35"/><circle cx="176.56" cy="318.83" r="1.35"/><circle cx="177.15" cy="317.96" r="1.35"/><circle cx="177.74" cy="318.05" r="1.35"/><circle cx="178.33" cy="317.62" r="1.35"/><circle cx="178.92" cy="316.76" r="1.35"/><circle cx="179.51" cy="316.74" r="1.35"/><circle cx="180.10" cy="316.44" r="1.35"/><circle cx="180.70" cy="316.27" r="1.35"/><circle cx="181.29" cy="316.20" r="1.35"/><circle cx="181.88" cy="315.29" r="1.35"/><circle cx="182.47" cy="315.21" r="1.35"/><circle cx="183.06" cy="315.44" r="1.35"/><circle cx="183.65" cy="314.81" r="1.35"/><circle cx="184.24" cy="314.58" r="1.35"/><circle cx="184.83" cy="314.12" r="1.35"/><circle cx="185.42" cy="313.72" r="1.35"/><circle cx="186.01" cy="314.00" r="1.35"/><circle cx="186.61" cy="313.28" r="1.35"/><circle cx="187.20" cy="312.57" r="1.35"/><circle cx="187.79" cy="312.67" r="1.35"/><circle cx="188.38" cy="312.20" r="1.35"/><circle cx="188.97" cy="311.90" r="1.35"/><circle cx="189.56" cy="311.40" r="1.35"/><circle cx="190.15" cy="310.43" r="1.35"/><circle cx="190.74" cy="310.53" r="1.35"/><circle cx="191.33" cy="310.29" r="1.35"/><circle cx="191.92" cy="309.38" r="1.35"/><circle cx="192.52" cy="309.08" r="1.35"/><circle cx="193.11" cy="308.50" r="1.35"/><circle cx="193.70" cy="308.24" r="1.35"/><circle cx="194.29" cy="308.19" r="1.35"/><circle cx="194.88" cy="307.10" r="1.35"/><circle cx="195.47" cy="306.66" r="1.35"/><circle cx="196.06" cy="306.69" r="1.35"/><circle cx="196.65" cy="306.04" r="1.35"/><circle cx="197.24" cy="305.73" r="1.35"/><circle cx="197.83" cy="305.04" r="1.35"/><circle cx="198.43" cy="304.37" r="1.35"/><circle cx="199.02" cy="304.62" r="1.35"/><circle cx="199.61" cy="303.97" r="1.35"/><circle cx="200.20" cy="303.12" r="1.35"/><circle cx="200.79" cy="302.97" r="1.35"/><circle cx="201.38" cy="302.54" r="1.35"/><circle cx="201.97" cy="302.53" r="1.35"/><circle cx="202.56" cy="302.27" r="1.35"/><circle cx="203.15" cy="301.31" r="1.35"/><circle cx="203.74" cy="301.40" r="1.35"/><circle cx="204.34" cy="301.41" r="1.35"/><circle cx="204.93" cy="300.81" r="1.35"/><circle cx="205.52" cy="300.64" r="1.35"/><circle cx="206.11" cy="300.05" r="1.35"/><circle cx="206.70" cy="299.89" r="1.35"/><circle cx="207.29" cy="300.15" r="1.35"/><circle cx="207.88" cy="299.29" r="1.35"/><circle cx="208.47" cy="298.83" r="1.35"/><circle cx="209.06" cy="298.87" r="1.35"/><circle cx="209.65" cy="298.44" r="1.35"/><circle cx="210.25" cy="298.43" r="1.35"/><circle cx="210.84" cy="297.86" r="1.35"/><circle cx="211.43" cy="297.16" r="1.35"/><circle cx="212.02" cy="297.52" r="1.35"/><circle cx="212.61" cy="297.20" r="1.35"/><circle cx="213.20" cy="296.57" r="1.35"/><circle cx="213.79" cy="296.50" r="1.35"/><circle cx="214.38" cy="296.04" r="1.35"/><circle cx="214.97" cy="296.21" r="1.35"/><circle cx="215.56" cy="296.22" r="1.35"/><circle cx="216.16" cy="295.31" r="1.35"/><circle cx="216.75" cy="295.36" r="1.35"/><circle cx="217.34" cy="295.50" r="1.35"/><circle cx="217.93" cy="295.18" r="1.35"/><circle cx="218.52" cy="295.23" r="1.35"/><circle cx="219.11" cy="294.64" r="1.35"/><circle cx="219.70" cy="294.45" r="1.35"/><circle cx="220.29" cy="294.93" r="1.35"/><circle cx="220.88" cy="294.36" r="1.35"/><circle cx="221.47" cy="293.97" r="1.35"/><circle cx="222.07" cy="293.96" r="1.35"/><circle cx="222.66" cy="293.63" r="1.35"/><circle cx="223.25" cy="293.84" r="1.35"/><circle cx="223.84" cy="293.43" r="1.35"/><circle cx="224.43" cy="292.64" r="1.35"/><circle cx="225.02" cy="292.94" r="1.35"/><circle cx="225.61" cy="292.79" r="1.35"/><circle cx="226.20" cy="292.43" r="1.35"/><circle cx="226.79" cy="292.40" r="1.35"/><circle cx="227.38" cy="291.87" r="1.35"/><circle cx="227.98" cy="292.09" r="1.35"/><circle cx="228.57" cy="292.38" r="1.35"/><circle cx="229.16" cy="291.63" r="1.35"/><circle cx="229.75" cy="291.56" r="1.35"/><circle cx="230.34" cy="291.64" r="1.35"/><circle cx="230.93" cy="291.47" r="1.35"/><circle cx="231.52" cy="291.71" r="1.35"/><circle cx="232.11" cy="291.13" r="1.35"/><circle cx="232.70" cy="290.82" r="1.35"/><circle cx="233.29" cy="291.38" r="1.35"/><circle cx="233.89" cy="291.08" r="1.35"/><circle cx="234.48" cy="290.86" r="1.35"/><circle cx="235.07" cy="290.84" r="1.35"/><circle cx="235.66" cy="290.53" r="1.35"/><circle cx="236.25" cy="291.01" r="1.35"/><circle cx="236.84" cy="290.94" r="1.35"/><circle cx="237.43" cy="290.25" r="1.35"/><circle cx="238.02" cy="290.55" r="1.35"/><circle cx="238.61" cy="290.59" r="1.35"/><circle cx="239.20" cy="290.50" r="1.35"/><circle cx="239.80" cy="290.60" r="1.35"/><circle cx="240.39" cy="289.98" r="1.35"/><circle cx="240.98" cy="290.14" r="1.35"/><circle cx="241.57" cy="290.61" r="1.35"/><circle cx="242.16" cy="290.08" r="1.35"/><circle cx="242.75" cy="290.00" r="1.35"/><circle cx="243.34" cy="289.97" r="1.35"/><circle cx="243.93" cy="289.86" r="1.35"/><circle cx="244.52" cy="290.32" r="1.35"/><circle cx="245.11" cy="289.86" r="1.35"/><circle cx="245.71" cy="289.42" r="1.35"/><circle cx="246.30" cy="289.90" r="1.35"/><circle cx="246.89" cy="289.74" r="1.35"/><circle cx="247.48" cy="289.63" r="1.35"/><circle cx="248.07" cy="289.53" r="1.35"/><circle cx="248.66" cy="289.03" r="1.35"/><circle cx="249.25" cy="289.49" r="1.35"/><circle cx="249.84" cy="289.57" r="1.35"/><circle cx="250.43" cy="288.87" r="1.35"/><circle cx="251.02" cy="288.95" r="1.35"/><circle cx="251.62" cy="288.85" r="1.35"/><circle cx="252.21" cy="288.82" r="1.35"/><circle cx="252.80" cy="289.02" r="1.35"/><circle cx="253.39" cy="288.30" r="1.35"/><circle cx="253.98" cy="288.36" r="1.35"/><circle cx="254.57" cy="288.94" r="1.35"/><circle cx="255.16" cy="288.66" r="1.35"/><circle cx="255.75" cy="288.69" r="1.35"/><circle cx="256.34" cy="288.59" r="1.35"/><circle cx="256.93" cy="288.45" r="1.35"/><circle cx="257.53" cy="289.11" r="1.35"/><circle cx="258.12" cy="288.88" r="1.35"/><circle cx="258.71" cy="288.43" r="1.35"/><circle cx="259.30" cy="288.85" r="1.35"/><circle cx="259.89" cy="288.82" r="1.35"/><circle cx="260.48" cy="288.98" r="1.35"/><circle cx="261.07" cy="289.03" r="1.35"/><circle cx="261.66" cy="288.46" r="1.35"/><circle cx="262.25" cy="288.90" r="1.35"/><circle cx="262.84" cy="289.18" r="1.35"/><circle cx="263.44" cy="288.68" r="1.35"/><circle cx="264.03" cy="288.73" r="1.35"/><circle cx="264.62" cy="288.55" r="1.35"/><circle cx="265.21" cy="288.60" r="1.35"/><circle cx="265.80" cy="289.04" r="1.35"/><circle cx="266.39" cy="288.41" r="1.35"/><circle cx="266.98" cy="288.23" r="1.35"/><circle cx="267.57" cy="288.67" r="1.35"/><circle cx="268.16" cy="288.45" r="1.35"/><circle cx="268.75" cy="288.54" r="1.35"/><circle cx="269.35" cy="288.30" r="1.35"/><circle cx="269.94" cy="287.92" r="1.35"/><circle cx="270.53" cy="288.53" r="1.35"/><circle cx="271.12" cy="288.39" r="1.35"/><circle cx="271.71" cy="287.87" r="1.35"/><circle cx="272.30" cy="288.03" r="1.35"/><circle cx="272.89" cy="287.84" r="1.35"/><circle cx="273.48" cy="288.04" r="1.35"/><circle cx="274.07" cy="288.13" r="1.35"/><circle cx="274.66" cy="287.38" r="1.35"/><circle cx="275.26" cy="287.58" r="1.35"/><circle cx="275.85" cy="287.90" r="1.35"/><circle cx="276.44" cy="287.53" r="1.35"/><circle cx="277.03" cy="287.58" r="1.35"/><circle cx="277.62" cy="287.22" r="1.35"/><circle cx="278.21" cy="287.16" r="1.35"/><circle cx="278.80" cy="287.72" r="1.35"/><circle cx="279.39" cy="287.20" r="1.35"/><circle cx="279.98" cy="286.87" r="1.35"/><circle cx="280.57" cy="287.14" r="1.35"/><circle cx="281.17" cy="286.96" r="1.35"/><circle cx="281.76" cy="287.18" r="1.35"/><circle cx="282.35" cy="286.94" r="1.35"/><circle cx="282.94" cy="286.36" r="1.35"/><circle cx="283.53" cy="286.96" r="1.35"/><circle cx="284.12" cy="287.06" r="1.35"/><circle cx="284.71" cy="286.72" r="1.35"/><circle cx="285.30" cy="286.86" r="1.35"/><circle cx="285.89" cy="286.60" r="1.35"/><circle cx="286.48" cy="286.92" r="1.35"/><circle cx="287.08" cy="287.28" r="1.35"/><circle cx="287.67" cy="286.61" r="1.35"/><circle cx="288.26" cy="286.70" r="1.35"/><circle cx="288.85" cy="287.04" r="1.35"/><circle cx="289.44" cy="286.90" r="1.35"/><circle cx="290.03" cy="287.14" r="1.35"/><circle cx="290.62" cy="286.76" r="1.35"/><circle cx="291.21" cy="286.61" r="1.35"/><circle cx="291.80" cy="287.31" r="1.35"/><circle cx="292.39" cy="287.05" r="1.35"/><circle cx="292.99" cy="286.79" r="1.35"/><circle cx="293.58" cy="286.97" r="1.35"/><circle cx="294.17" cy="286.81" r="1.35"/><circle cx="294.76" cy="287.25" r="1.35"/><circle cx="295.35" cy="287.21" r="1.35"/><circle cx="295.94" cy="286.58" r="1.35"/><circle cx="296.53" cy="287.03" r="1.35"/><circle cx="297.12" cy="287.21" r="1.35"/><circle cx="297.71" cy="287.02" r="1.35"/><circle cx="298.30" cy="287.15" r="1.35"/><circle cx="298.90" cy="286.72" r="1.35"/><circle cx="299.49" cy="286.96" r="1.35"/><circle cx="300.08" cy="287.49" r="1.35"/><circle cx="300.67" cy="286.92" r="1.35"/><circle cx="301.26" cy="286.88" r="1.35"/><circle cx="301.85" cy="287.08" r="1.35"/><circle cx="302.44" cy="287.00" r="1.35"/><circle cx="303.03" cy="287.40" r="1.35"/><circle cx="303.62" cy="287.01" r="1.35"/><circle cx="304.21" cy="286.68" r="1.35"/><circle cx="304.81" cy="287.33" r="1.35"/><circle cx="305.40" cy="287.23" r="1.35"/><circle cx="305.99" cy="287.05" r="1.35"/></g>
<g fill="#fff4d0" stroke="#ffc000" stroke-width="0.95"><circle cx="35.90" cy="469.46" r="1.35"/><circle cx="36.49" cy="469.62" r="1.35"/><circle cx="37.08" cy="469.34" r="1.35"/><circle cx="37.67" cy="469.26" r="1.35"/><circle cx="38.26" cy="469.06" r="1.35"/><circle cx="38.86" cy="468.23" r="1.35"/><circle cx="39.45" cy="468.46" r="1.35"/><circle cx="40.04" cy="468.53" r="1.35"/><circle cx="40.63" cy="467.82" r="1.35"/><circle cx="41.22" cy="467.67" r="1.35"/><circle cx="41.81" cy="467.25" r="1.35"/><circle cx="42.40" cy="467.10" r="1.35"/><circle cx="42.99" cy="467.32" r="1.35"/><circle cx="43.58" cy="466.47" r="1.35"/><circle cx="44.17" cy="466.22" r="1.35"/><circle cx="44.77" cy="466.62" r="1.35"/><circle cx="45.36" cy="466.37" r="1.35"/><circle cx="45.95" cy="466.44" r="1.35"/><circle cx="46.54" cy="466.15" r="1.35"/><circle cx="47.13" cy="465.74" r="1.35"/><circle cx="47.72" cy="466.33" r="1.35"/><circle cx="48.31" cy="466.10" r="1.35"/><circle cx="48.90" cy="465.50" r="1.35"/><circle cx="49.49" cy="465.56" r="1.35"/><circle cx="50.08" cy="465.27" r="1.35"/><circle cx="50.68" cy="465.39" r="1.35"/><circle cx="51.27" cy="465.39" r="1.35"/><circle cx="51.86" cy="464.54" r="1.35"/><circle cx="52.45" cy="464.63" r="1.35"/><circle cx="53.04" cy="464.82" r="1.35"/><circle cx="53.63" cy="464.35" r="1.35"/><circle cx="54.22" cy="464.29" r="1.35"/><circle cx="54.81" cy="463.80" r="1.35"/><circle cx="55.40" cy="463.64" r="1.35"/><circle cx="55.99" cy="464.04" r="1.35"/><circle cx="56.59" cy="463.33" r="1.35"/><circle cx="57.18" cy="462.85" r="1.35"/><circle cx="57.77" cy="462.93" r="1.35"/><circle cx="58.36" cy="462.57" r="1.35"/><circle cx="58.95" cy="462.63" r="1.35"/><circle cx="59.54" cy="462.20" r="1.35"/><circle cx="60.13" cy="461.40" r="1.35"/><circle cx="60.72" cy="461.71" r="1.35"/><circle cx="61.31" cy="461.50" r="1.35"/><circle cx="61.90" cy="460.88" r="1.35"/><circle cx="62.50" cy="460.72" r="1.35"/><circle cx="63.09" cy="460.15" r="1.35"/><circle cx="63.68" cy="459.97" r="1.35"/><circle cx="64.27" cy="459.71" r="1.35"/><circle cx="64.86" cy="458.42" r="1.35"/><circle cx="65.45" cy="457.90" r="1.35"/><circle cx="66.04" cy="457.61" r="1.35"/><circle cx="66.63" cy="457.00" r="1.35"/><circle cx="67.22" cy="456.98" r="1.35"/><circle cx="67.81" cy="456.32" r="1.35"/><circle cx="68.41" cy="455.92" r="1.35"/><circle cx="69.00" cy="456.36" r="1.35"/><circle cx="69.59" cy="455.82" r="1.35"/><circle cx="70.18" cy="455.18" r="1.35"/><circle cx="70.77" cy="454.94" r="1.35"/><circle cx="71.36" cy="454.37" r="1.35"/><circle cx="71.95" cy="454.43" r="1.35"/><circle cx="72.54" cy="453.64" r="1.35"/><circle cx="73.13" cy="452.24" r="1.35"/><circle cx="73.72" cy="451.92" r="1.35"/><circle cx="74.31" cy="451.32" r="1.35"/><circle cx="74.91" cy="450.38" r="1.35"/><circle cx="75.50" cy="449.82" r="1.35"/><circle cx="76.09" cy="448.76" r="1.35"/><circle cx="76.68" cy="448.40" r="1.35"/><circle cx="77.27" cy="448.30" r="1.35"/><circle cx="77.86" cy="447.12" r="1.35"/><circle cx="78.45" cy="446.52" r="1.35"/><circle cx="79.04" cy="446.24" r="1.35"/><circle cx="79.63" cy="445.70" r="1.35"/><circle cx="80.22" cy="445.64" r="1.35"/><circle cx="80.82" cy="444.78" r="1.35"/><circle cx="81.41" cy="443.99" r="1.35"/><circle cx="82.00" cy="444.06" r="1.35"/><circle cx="82.59" cy="443.38" r="1.35"/><circle cx="83.18" cy="442.64" r="1.35"/><circle cx="83.77" cy="442.11" r="1.35"/><circle cx="84.36" cy="441.22" r="1.35"/><circle cx="84.95" cy="440.90" r="1.35"/><circle cx="85.54" cy="440.02" r="1.35"/><circle cx="86.13" cy="438.37" r="1.35"/><circle cx="86.73" cy="437.63" r="1.35"/><circle cx="87.32" cy="437.05" r="1.35"/><circle cx="87.91" cy="436.43" r="1.35"/><circle cx="88.50" cy="436.06" r="1.35"/><circle cx="89.09" cy="434.91" r="1.35"/><circle cx="89.68" cy="434.60" r="1.35"/><circle cx="90.27" cy="434.92" r="1.35"/><circle cx="90.86" cy="434.23" r="1.35"/><circle cx="91.45" cy="433.88" r="1.35"/><circle cx="92.04" cy="433.61" r="1.35"/><circle cx="92.64" cy="433.07" r="1.35"/><circle cx="93.23" cy="433.01" r="1.35"/><circle cx="93.82" cy="432.09" r="1.35"/><circle cx="94.41" cy="431.00" r="1.35"/><circle cx="95.00" cy="430.99" r="1.35"/><circle cx="95.59" cy="430.54" r="1.35"/><circle cx="96.18" cy="430.11" r="1.35"/><circle cx="96.77" cy="429.71" r="1.35"/><circle cx="97.36" cy="428.79" r="1.35"/><circle cx="97.95" cy="428.80" r="1.35"/><circle cx="98.55" cy="428.31" r="1.35"/><circle cx="99.14" cy="426.94" r="1.35"/><circle cx="99.73" cy="426.26" r="1.35"/><circle cx="100.32" cy="425.52" r="1.35"/><circle cx="100.91" cy="424.98" r="1.35"/><circle cx="101.50" cy="424.78" r="1.35"/><circle cx="102.09" cy="423.60" r="1.35"/><circle cx="102.68" cy="422.91" r="1.35"/><circle cx="103.27" cy="422.90" r="1.35"/><circle cx="103.86" cy="421.87" r="1.35"/><circle cx="104.46" cy="421.03" r="1.35"/><circle cx="105.05" cy="420.09" r="1.35"/><circle cx="105.64" cy="419.20" r="1.35"/><circle cx="106.23" cy="419.21" r="1.35"/><circle cx="106.82" cy="418.46" r="1.35"/><circle cx="107.41" cy="417.30" r="1.35"/><circle cx="108.00" cy="417.01" r="1.35"/><circle cx="108.59" cy="416.34" r="1.35"/><circle cx="109.18" cy="415.85" r="1.35"/><circle cx="109.77" cy="415.33" r="1.35"/><circle cx="110.37" cy="414.06" r="1.35"/><circle cx="110.96" cy="413.10" r="1.35"/><circle cx="111.55" cy="411.39" r="1.35"/><circle cx="112.14" cy="408.85" r="1.35"/><circle cx="112.73" cy="407.66" r="1.35"/><circle cx="113.32" cy="406.35" r="1.35"/><circle cx="113.91" cy="405.22" r="1.35"/><circle cx="114.50" cy="404.62" r="1.35"/><circle cx="115.09" cy="403.29" r="1.35"/><circle cx="115.68" cy="402.27" r="1.35"/><circle cx="116.28" cy="401.97" r="1.35"/><circle cx="116.87" cy="401.09" r="1.35"/><circle cx="117.46" cy="400.47" r="1.35"/><circle cx="118.05" cy="399.76" r="1.35"/><circle cx="118.64" cy="398.88" r="1.35"/><circle cx="119.23" cy="399.07" r="1.35"/><circle cx="119.82" cy="398.70" r="1.35"/><circle cx="120.41" cy="397.79" r="1.35"/><circle cx="121.00" cy="397.49" r="1.35"/><circle cx="121.59" cy="396.79" r="1.35"/><circle cx="122.19" cy="396.46" r="1.35"/><circle cx="122.78" cy="396.17" r="1.35"/><circle cx="123.37" cy="394.95" r="1.35"/><circle cx="123.96" cy="394.63" r="1.35"/><circle cx="124.55" cy="394.60" r="1.35"/><circle cx="125.14" cy="393.89" r="1.35"/><circle cx="125.73" cy="393.56" r="1.35"/><circle cx="126.32" cy="392.80" r="1.35"/><circle cx="126.91" cy="391.94" r="1.35"/><circle cx="127.50" cy="391.85" r="1.35"/><circle cx="128.10" cy="390.75" r="1.35"/><circle cx="128.69" cy="389.65" r="1.35"/><circle cx="129.28" cy="388.70" r="1.35"/><circle cx="129.87" cy="387.32" r="1.35"/><circle cx="130.46" cy="386.59" r="1.35"/><circle cx="131.05" cy="385.75" r="1.35"/><circle cx="131.64" cy="384.39" r="1.35"/><circle cx="132.23" cy="384.14" r="1.35"/><circle cx="132.82" cy="383.53" r="1.35"/><circle cx="133.41" cy="382.31" r="1.35"/><circle cx="134.01" cy="381.54" r="1.35"/><circle cx="134.60" cy="380.35" r="1.35"/><circle cx="135.19" cy="379.70" r="1.35"/><circle cx="135.78" cy="379.29" r="1.35"/><circle cx="136.37" cy="377.79" r="1.35"/><circle cx="136.96" cy="376.89" r="1.35"/><circle cx="137.55" cy="376.35" r="1.35"/><circle cx="138.14" cy="375.35" r="1.35"/><circle cx="138.73" cy="374.74" r="1.35"/><circle cx="139.32" cy="373.77" r="1.35"/><circle cx="139.92" cy="372.90" r="1.35"/><circle cx="140.51" cy="373.00" r="1.35"/><circle cx="141.10" cy="372.25" r="1.35"/><circle cx="141.69" cy="371.36" r="1.35"/><circle cx="142.28" cy="370.92" r="1.35"/><circle cx="142.87" cy="370.11" r="1.35"/><circle cx="143.46" cy="369.94" r="1.35"/><circle cx="144.05" cy="369.44" r="1.35"/><circle cx="144.64" cy="368.16" r="1.35"/><circle cx="145.23" cy="367.00" r="1.35"/><circle cx="145.83" cy="364.44" r="1.35"/><circle cx="146.42" cy="363.48" r="1.35"/><circle cx="147.01" cy="362.86" r="1.35"/><circle cx="147.60" cy="361.62" r="1.35"/><circle cx="148.19" cy="360.95" r="1.35"/><circle cx="148.78" cy="360.55" r="1.35"/><circle cx="149.37" cy="359.06" r="1.35"/><circle cx="149.96" cy="357.93" r="1.35"/><circle cx="150.55" cy="357.10" r="1.35"/><circle cx="151.14" cy="355.84" r="1.35"/><circle cx="151.74" cy="355.13" r="1.35"/><circle cx="152.33" cy="353.82" r="1.35"/><circle cx="152.92" cy="352.56" r="1.35"/><circle cx="153.51" cy="352.37" r="1.35"/><circle cx="154.10" cy="351.56" r="1.35"/><circle cx="154.69" cy="350.58" r="1.35"/><circle cx="155.28" cy="349.84" r="1.35"/><circle cx="155.87" cy="348.75" r="1.35"/><circle cx="156.46" cy="348.52" r="1.35"/><circle cx="157.05" cy="348.13" r="1.35"/><circle cx="157.65" cy="346.80" r="1.35"/><circle cx="158.24" cy="346.30" r="1.35"/><circle cx="158.83" cy="345.91" r="1.35"/><circle cx="159.42" cy="345.50" r="1.35"/><circle cx="160.01" cy="345.43" r="1.35"/><circle cx="160.60" cy="344.54" r="1.35"/><circle cx="161.19" cy="344.12" r="1.35"/><circle cx="161.78" cy="344.41" r="1.35"/><circle cx="162.37" cy="343.81" r="1.35"/><circle cx="162.96" cy="343.39" r="1.35"/><circle cx="163.56" cy="343.13" r="1.35"/><circle cx="164.15" cy="342.64" r="1.35"/><circle cx="164.74" cy="342.91" r="1.35"/><circle cx="165.33" cy="342.45" r="1.35"/><circle cx="165.92" cy="341.43" r="1.35"/><circle cx="166.51" cy="341.12" r="1.35"/><circle cx="167.10" cy="340.42" r="1.35"/><circle cx="167.69" cy="339.66" r="1.35"/><circle cx="168.28" cy="339.01" r="1.35"/><circle cx="168.87" cy="337.74" r="1.35"/><circle cx="169.47" cy="337.49" r="1.35"/><circle cx="170.06" cy="337.30" r="1.35"/><circle cx="170.65" cy="336.16" r="1.35"/><circle cx="171.24" cy="335.60" r="1.35"/><circle cx="171.83" cy="335.00" r="1.35"/><circle cx="172.42" cy="334.41" r="1.35"/><circle cx="173.01" cy="334.28" r="1.35"/><circle cx="173.60" cy="333.18" r="1.35"/><circle cx="174.19" cy="332.35" r="1.35"/><circle cx="174.79" cy="332.34" r="1.35"/><circle cx="175.38" cy="331.70" r="1.35"/><circle cx="175.97" cy="331.26" r="1.35"/><circle cx="176.56" cy="330.77" r="1.35"/><circle cx="177.15" cy="329.99" r="1.35"/><circle cx="177.74" cy="330.18" r="1.35"/><circle cx="178.33" cy="329.81" r="1.35"/><circle cx="178.92" cy="328.93" r="1.35"/><circle cx="179.51" cy="328.90" r="1.35"/><circle cx="180.10" cy="328.58" r="1.35"/><circle cx="180.70" cy="328.39" r="1.35"/><circle cx="181.29" cy="328.30" r="1.35"/><circle cx="181.88" cy="327.35" r="1.35"/><circle cx="182.47" cy="327.23" r="1.35"/><circle cx="183.06" cy="327.43" r="1.35"/><circle cx="183.65" cy="326.76" r="1.35"/><circle cx="184.24" cy="326.49" r="1.35"/><circle cx="184.83" cy="325.88" r="1.35"/><circle cx="185.42" cy="325.27" r="1.35"/><circle cx="186.01" cy="325.35" r="1.35"/><circle cx="186.61" cy="324.43" r="1.35"/><circle cx="187.20" cy="323.52" r="1.35"/><circle cx="187.79" cy="323.37" r="1.35"/><circle cx="188.38" cy="322.58" r="1.35"/><circle cx="188.97" cy="322.03" r="1.35"/><circle cx="189.56" cy="321.26" r="1.35"/><circle cx="190.15" cy="320.12" r="1.35"/><circle cx="190.74" cy="320.07" r="1.35"/><circle cx="191.33" cy="319.68" r="1.35"/><circle cx="191.92" cy="318.62" r="1.35"/><circle cx="192.52" cy="318.17" r="1.35"/><circle cx="193.11" cy="317.44" r="1.35"/><circle cx="193.70" cy="317.02" r="1.35"/><circle cx="194.29" cy="316.82" r="1.35"/><circle cx="194.88" cy="315.57" r="1.35"/><circle cx="195.47" cy="314.98" r="1.35"/><circle cx="196.06" cy="314.86" r="1.35"/><circle cx="196.65" cy="314.06" r="1.35"/><circle cx="197.24" cy="313.60" r="1.35"/><circle cx="197.83" cy="312.75" r="1.35"/><circle cx="198.43" cy="311.94" r="1.35"/><circle cx="199.02" cy="312.04" r="1.35"/><circle cx="199.61" cy="311.24" r="1.35"/><circle cx="200.20" cy="310.24" r="1.35"/><circle cx="200.79" cy="309.92" r="1.35"/><circle cx="201.38" cy="309.21" r="1.35"/><circle cx="201.97" cy="308.92" r="1.35"/><circle cx="202.56" cy="308.60" r="1.35"/><circle cx="203.15" cy="307.72" r="1.35"/><circle cx="203.74" cy="307.90" r="1.35"/><circle cx="204.34" cy="307.97" r="1.35"/><circle cx="204.93" cy="307.43" r="1.35"/><circle cx="205.52" cy="307.32" r="1.35"/><circle cx="206.11" cy="306.79" r="1.35"/><circle cx="206.70" cy="306.69" r="1.35"/><circle cx="207.29" cy="307.02" r="1.35"/><circle cx="207.88" cy="306.23" r="1.35"/><circle cx="208.47" cy="305.86" r="1.35"/><circle cx="209.06" cy="305.99" r="1.35"/><circle cx="209.65" cy="305.66" r="1.35"/><circle cx="210.25" cy="305.73" r="1.35"/><circle cx="210.84" cy="305.25" r="1.35"/><circle cx="211.43" cy="304.64" r="1.35"/><circle cx="212.02" cy="305.07" r="1.35"/><circle cx="212.61" cy="304.81" r="1.35"/><circle cx="213.20" cy="304.25" r="1.35"/><circle cx="213.79" cy="304.16" r="1.35"/><circle cx="214.38" cy="303.69" r="1.35"/><circle cx="214.97" cy="303.80" r="1.35"/><circle cx="215.56" cy="303.73" r="1.35"/><circle cx="216.16" cy="302.73" r="1.35"/><circle cx="216.75" cy="302.65" r="1.35"/><circle cx="217.34" cy="302.65" r="1.35"/><circle cx="217.93" cy="302.19" r="1.35"/><circle cx="218.52" cy="302.10" r="1.35"/><circle cx="219.11" cy="301.38" r="1.35"/><circle cx="219.70" cy="301.08" r="1.35"/><circle cx="220.29" cy="301.45" r="1.35"/><circle cx="220.88" cy="300.78" r="1.35"/><circle cx="221.47" cy="300.33" r="1.35"/><circle cx="222.07" cy="300.28" r="1.35"/><circle cx="222.66" cy="299.91" r="1.35"/><circle cx="223.25" cy="300.13" r="1.35"/><circle cx="223.84" cy="299.72" r="1.35"/><circle cx="224.43" cy="298.93" r="1.35"/><circle cx="225.02" cy="299.23" r="1.35"/><circle cx="225.61" cy="299.09" r="1.35"/><circle cx="226.20" cy="298.73" r="1.35"/><circle cx="226.79" cy="298.70" r="1.35"/><circle cx="227.38" cy="298.17" r="1.35"/><circle cx="227.98" cy="298.39" r="1.35"/><circle cx="228.57" cy="298.68" r="1.35"/><circle cx="229.16" cy="297.93" r="1.35"/><circle cx="229.75" cy="297.86" r="1.35"/><circle cx="230.34" cy="297.93" r="1.35"/><circle cx="230.93" cy="297.74" r="1.35"/><circle cx="231.52" cy="297.97" r="1.35"/><circle cx="232.11" cy="297.37" r="1.35"/><circle cx="232.70" cy="297.05" r="1.35"/><circle cx="233.29" cy="297.59" r="1.35"/><circle cx="233.89" cy="297.24" r="1.35"/><circle cx="234.48" cy="296.91" r="1.35"/><circle cx="235.07" cy="296.77" r="1.35"/><circle cx="235.66" cy="296.33" r="1.35"/><circle cx="236.25" cy="296.70" r="1.35"/><circle cx="236.84" cy="296.51" r="1.35"/><circle cx="237.43" cy="295.71" r="1.35"/><circle cx="238.02" cy="295.86" r="1.35"/><circle cx="238.61" cy="295.73" r="1.35"/><circle cx="239.20" cy="295.47" r="1.35"/><circle cx="239.80" cy="295.41" r="1.35"/><circle cx="240.39" cy="294.62" r="1.35"/><circle cx="240.98" cy="294.61" r="1.35"/><circle cx="241.57" cy="294.92" r="1.35"/><circle cx="242.16" cy="294.26" r="1.35"/><circle cx="242.75" cy="294.07" r="1.35"/><circle cx="243.34" cy="293.92" r="1.35"/><circle cx="243.93" cy="293.68" r="1.35"/><circle cx="244.52" cy="294.02" r="1.35"/><circle cx="245.11" cy="293.44" r="1.35"/><circle cx="245.71" cy="292.88" r="1.35"/><circle cx="246.30" cy="293.23" r="1.35"/><circle cx="246.89" cy="292.95" r="1.35"/><circle cx="247.48" cy="292.73" r="1.35"/><circle cx="248.07" cy="292.51" r="1.35"/><circle cx="248.66" cy="291.88" r="1.35"/><circle cx="249.25" cy="292.22" r="1.35"/><circle cx="249.84" cy="292.30" r="1.35"/><circle cx="250.43" cy="291.65" r="1.35"/><circle cx="251.02" cy="291.77" r="1.35"/><circle cx="251.62" cy="291.72" r="1.35"/><circle cx="252.21" cy="291.74" r="1.35"/><circle cx="252.80" cy="291.98" r="1.35"/><circle cx="253.39" cy="291.29" r="1.35"/><circle cx="253.98" cy="291.32" r="1.35"/><circle cx="254.57" cy="291.86" r="1.35"/><circle cx="255.16" cy="291.54" r="1.35"/><circle cx="255.75" cy="291.54" r="1.35"/><circle cx="256.34" cy="291.40" r="1.35"/><circle cx="256.93" cy="291.22" r="1.35"/><circle cx="257.53" cy="291.84" r="1.35"/><circle cx="258.12" cy="291.57" r="1.35"/><circle cx="258.71" cy="291.09" r="1.35"/><circle cx="259.30" cy="291.47" r="1.35"/><circle cx="259.89" cy="291.40" r="1.35"/><circle cx="260.48" cy="291.49" r="1.35"/><circle cx="261.07" cy="291.46" r="1.35"/><circle cx="261.66" cy="290.82" r="1.35"/><circle cx="262.25" cy="291.20" r="1.35"/><circle cx="262.84" cy="291.47" r="1.35"/><circle cx="263.44" cy="290.95" r="1.35"/><circle cx="264.03" cy="291.00" r="1.35"/><circle cx="264.62" cy="290.80" r="1.35"/><circle cx="265.21" cy="290.84" r="1.35"/><circle cx="265.80" cy="291.27" r="1.35"/><circle cx="266.39" cy="290.63" r="1.35"/><circle cx="266.98" cy="290.43" r="1.35"/><circle cx="267.57" cy="290.85" r="1.35"/><circle cx="268.16" cy="290.62" r="1.35"/><circle cx="268.75" cy="290.69" r="1.35"/><circle cx="269.35" cy="290.43" r="1.35"/><circle cx="269.94" cy="290.02" r="1.35"/><circle cx="270.53" cy="290.63" r="1.35"/><circle cx="271.12" cy="290.50" r="1.35"/><circle cx="271.71" cy="289.98" r="1.35"/><circle cx="272.30" cy="290.15" r="1.35"/><circle cx="272.89" cy="289.96" r="1.35"/><circle cx="273.48" cy="290.16" r="1.35"/><circle cx="274.07" cy="290.26" r="1.35"/><circle cx="274.66" cy="289.51" r="1.35"/><circle cx="275.26" cy="289.69" r="1.35"/><circle cx="275.85" cy="289.98" r="1.35"/><circle cx="276.44" cy="289.60" r="1.35"/><circle cx="277.03" cy="289.63" r="1.35"/><circle cx="277.62" cy="289.24" r="1.35"/><circle cx="278.21" cy="289.16" r="1.35"/><circle cx="278.80" cy="289.71" r="1.35"/><circle cx="279.39" cy="289.16" r="1.35"/><circle cx="279.98" cy="288.82" r="1.35"/><circle cx="280.57" cy="289.06" r="1.35"/><circle cx="281.17" cy="288.85" r="1.35"/><circle cx="281.76" cy="289.06" r="1.35"/><circle cx="282.35" cy="288.89" r="1.35"/><circle cx="282.94" cy="288.41" r="1.35"/><circle cx="283.53" cy="289.04" r="1.35"/><circle cx="284.12" cy="289.17" r="1.35"/><circle cx="284.71" cy="288.85" r="1.35"/><circle cx="285.30" cy="289.01" r="1.35"/><circle cx="285.89" cy="288.77" r="1.35"/><circle cx="286.48" cy="289.11" r="1.35"/><circle cx="287.08" cy="289.49" r="1.35"/><circle cx="287.67" cy="288.85" r="1.35"/><circle cx="288.26" cy="288.96" r="1.35"/><circle cx="288.85" cy="289.33" r="1.35"/><circle cx="289.44" cy="289.18" r="1.35"/><circle cx="290.03" cy="289.38" r="1.35"/><circle cx="290.62" cy="288.95" r="1.35"/><circle cx="291.21" cy="288.76" r="1.35"/><circle cx="291.80" cy="289.42" r="1.35"/><circle cx="292.39" cy="289.12" r="1.35"/><circle cx="292.99" cy="288.82" r="1.35"/><circle cx="293.58" cy="288.96" r="1.35"/><circle cx="294.17" cy="288.75" r="1.35"/><circle cx="294.76" cy="289.15" r="1.35"/><circle cx="295.35" cy="289.07" r="1.35"/><circle cx="295.94" cy="288.40" r="1.35"/><circle cx="296.53" cy="288.81" r="1.35"/><circle cx="297.12" cy="288.98" r="1.35"/><circle cx="297.71" cy="288.78" r="1.35"/><circle cx="298.30" cy="288.91" r="1.35"/><circle cx="298.90" cy="288.47" r="1.35"/><circle cx="299.49" cy="288.69" r="1.35"/><circle cx="300.08" cy="289.20" r="1.35"/><circle cx="300.67" cy="288.63" r="1.35"/><circle cx="301.26" cy="288.58" r="1.35"/><circle cx="301.85" cy="288.77" r="1.35"/><circle cx="302.44" cy="288.68" r="1.35"/><circle cx="303.03" cy="289.06" r="1.35"/><circle cx="303.62" cy="288.67" r="1.35"/><circle cx="304.21" cy="288.32" r="1.35"/><circle cx="304.81" cy="288.96" r="1.35"/><circle cx="305.40" cy="288.85" r="1.35"/><circle cx="305.99" cy="288.66" r="1.35"/></g>
<g fill="#e0e8f6" stroke="#4472c4" stroke-width="0.95"><circle cx="35.90" cy="470.26" r="1.35"/><circle cx="36.49" cy="470.59" r="1.35"/><circle cx="37.08" cy="470.47" r="1.35"/><circle cx="37.67" cy="470.57" r="1.35"/><circle cx="38.26" cy="470.52" r="1.35"/><circle cx="38.86" cy="469.87" r="1.35"/><circle cx="39.45" cy="470.26" r="1.35"/><circle cx="40.04" cy="470.49" r="1.35"/><circle cx="40.63" cy="469.92" r="1.35"/><circle cx="41.22" cy="469.90" r="1.35"/><circle cx="41.81" cy="469.62" r="1.35"/><circle cx="42.40" cy="469.61" r="1.35"/><circle cx="42.99" cy="469.98" r="1.35"/><circle cx="43.58" cy="469.26" r="1.35"/><circle cx="44.17" cy="469.02" r="1.35"/><circle cx="44.77" cy="469.39" r="1.35"/><circle cx="45.36" cy="469.12" r="1.35"/><circle cx="45.95" cy="469.17" r="1.35"/><circle cx="46.54" cy="468.85" r="1.35"/><circle cx="47.13" cy="468.41" r="1.35"/><circle cx="47.72" cy="468.98" r="1.35"/><circle cx="48.31" cy="468.79" r="1.35"/><circle cx="48.90" cy="468.22" r="1.35"/><circle cx="49.49" cy="468.33" r="1.35"/><circle cx="50.08" cy="468.07" r="1.35"/><circle cx="50.68" cy="468.23" r="1.35"/><circle cx="51.27" cy="468.27" r="1.35"/><circle cx="51.86" cy="467.44" r="1.35"/><circle cx="52.45" cy="467.53" r="1.35"/><circle cx="53.04" cy="467.72" r="1.35"/><circle cx="53.63" cy="467.25" r="1.35"/><circle cx="54.22" cy="467.19" r="1.35"/><circle cx="54.81" cy="466.70" r="1.35"/><circle cx="55.40" cy="466.54" r="1.35"/><circle cx="55.99" cy="467.04" r="1.35"/><circle cx="56.59" cy="466.46" r="1.35"/><circle cx="57.18" cy="466.09" r="1.35"/><circle cx="57.77" cy="466.29" r="1.35"/><circle cx="58.36" cy="466.05" r="1.35"/><circle cx="58.95" cy="466.24" r="1.35"/><circle cx="59.54" cy="465.90" r="1.35"/><circle cx="60.13" cy="465.10" r="1.35"/><circle cx="60.72" cy="465.41" r="1.35"/><circle cx="61.31" cy="465.20" r="1.35"/><circle cx="61.90" cy="464.58" r="1.35"/><circle cx="62.50" cy="464.42" r="1.35"/><circle cx="63.09" cy="463.85" r="1.35"/><circle cx="63.68" cy="463.82" r="1.35"/><circle cx="64.27" cy="463.78" r="1.35"/><circle cx="64.86" cy="462.72" r="1.35"/><circle cx="65.45" cy="462.44" r="1.35"/><circle cx="66.04" cy="462.37" r="1.35"/><circle cx="66.63" cy="461.88" r="1.35"/><circle cx="67.22" cy="461.82" r="1.35"/><circle cx="67.81" cy="461.12" r="1.35"/><circle cx="68.41" cy="460.67" r="1.35"/><circle cx="69.00" cy="461.07" r="1.35"/><circle cx="69.59" cy="460.50" r="1.35"/><circle cx="70.18" cy="459.78" r="1.35"/><circle cx="70.77" cy="459.47" r="1.35"/><circle cx="71.36" cy="458.82" r="1.35"/><circle cx="71.95" cy="458.80" r="1.35"/><circle cx="72.54" cy="458.58" r="1.35"/><circle cx="73.13" cy="457.81" r="1.35"/><circle cx="73.72" cy="458.12" r="1.35"/><circle cx="74.31" cy="458.14" r="1.35"/><circle cx="74.91" cy="457.52" r="1.35"/><circle cx="75.50" cy="456.91" r="1.35"/><circle cx="76.09" cy="455.72" r="1.35"/><circle cx="76.68" cy="455.23" r="1.35"/><circle cx="77.27" cy="454.97" r="1.35"/><circle cx="77.86" cy="453.58" r="1.35"/><circle cx="78.45" cy="452.73" r="1.35"/><circle cx="79.04" cy="452.10" r="1.35"/><circle cx="79.63" cy="451.20" r="1.35"/><circle cx="80.22" cy="450.79" r="1.35"/><circle cx="80.82" cy="449.65" r="1.35"/><circle cx="81.41" cy="448.89" r="1.35"/><circle cx="82.00" cy="449.12" r="1.35"/><circle cx="82.59" cy="448.59" r="1.35"/><circle cx="83.18" cy="448.00" r="1.35"/><circle cx="83.77" cy="447.63" r="1.35"/><circle cx="84.36" cy="447.00" r="1.35"/><circle cx="84.95" cy="447.20" r="1.35"/><circle cx="85.54" cy="447.03" r="1.35"/><circle cx="86.13" cy="446.07" r="1.35"/><circle cx="86.73" cy="446.02" r="1.35"/><circle cx="87.32" cy="445.65" r="1.35"/><circle cx="87.91" cy="445.03" r="1.35"/><circle cx="88.50" cy="444.66" r="1.35"/><circle cx="89.09" cy="443.51" r="1.35"/><circle cx="89.68" cy="443.01" r="1.35"/><circle cx="90.27" cy="443.08" r="1.35"/><circle cx="90.86" cy="442.24" r="1.35"/><circle cx="91.45" cy="441.73" r="1.35"/><circle cx="92.04" cy="441.30" r="1.35"/><circle cx="92.64" cy="440.74" r="1.35"/><circle cx="93.23" cy="440.85" r="1.35"/><circle cx="93.82" cy="440.12" r="1.35"/><circle cx="94.41" cy="439.20" r="1.35"/><circle cx="95.00" cy="439.27" r="1.35"/><circle cx="95.59" cy="438.81" r="1.35"/><circle cx="96.18" cy="438.36" r="1.35"/><circle cx="96.77" cy="437.93" r="1.35"/><circle cx="97.36" cy="436.98" r="1.35"/><circle cx="97.95" cy="436.99" r="1.35"/><circle cx="98.55" cy="436.84" r="1.35"/><circle cx="99.14" cy="435.81" r="1.35"/><circle cx="99.73" cy="435.41" r="1.35"/><circle cx="100.32" cy="434.85" r="1.35"/><circle cx="100.91" cy="434.32" r="1.35"/><circle cx="101.50" cy="434.14" r="1.35"/><circle cx="102.09" cy="432.98" r="1.35"/><circle cx="102.68" cy="432.31" r="1.35"/><circle cx="103.27" cy="432.33" r="1.35"/><circle cx="103.86" cy="431.53" r="1.35"/><circle cx="104.46" cy="430.97" r="1.35"/><circle cx="105.05" cy="430.29" r="1.35"/><circle cx="105.64" cy="429.37" r="1.35"/><circle cx="106.23" cy="429.36" r="1.35"/><circle cx="106.82" cy="428.59" r="1.35"/><circle cx="107.41" cy="427.41" r="1.35"/><circle cx="108.00" cy="427.09" r="1.35"/><circle cx="108.59" cy="426.40" r="1.35"/><circle cx="109.18" cy="425.89" r="1.35"/><circle cx="109.77" cy="425.31" r="1.35"/><circle cx="110.37" cy="423.68" r="1.35"/><circle cx="110.96" cy="423.01" r="1.35"/><circle cx="111.55" cy="422.43" r="1.35"/><circle cx="112.14" cy="421.02" r="1.35"/><circle cx="112.73" cy="420.09" r="1.35"/><circle cx="113.32" cy="418.73" r="1.35"/><circle cx="113.91" cy="416.73" r="1.35"/><circle cx="114.50" cy="415.27" r="1.35"/><circle cx="115.09" cy="414.09" r="1.35"/><circle cx="115.68" cy="413.42" r="1.35"/><circle cx="116.28" cy="413.48" r="1.35"/><circle cx="116.87" cy="412.94" r="1.35"/><circle cx="117.46" cy="412.68" r="1.35"/><circle cx="118.05" cy="412.13" r="1.35"/><circle cx="118.64" cy="411.27" r="1.35"/><circle cx="119.23" cy="411.44" r="1.35"/><circle cx="119.82" cy="411.05" r="1.35"/><circle cx="120.41" cy="410.12" r="1.35"/><circle cx="121.00" cy="409.85" r="1.35"/><circle cx="121.59" cy="409.25" r="1.35"/><circle cx="122.19" cy="409.05" r="1.35"/><circle cx="122.78" cy="408.89" r="1.35"/><circle cx="123.37" cy="407.76" r="1.35"/><circle cx="123.96" cy="407.47" r="1.35"/><circle cx="124.55" cy="407.46" r="1.35"/><circle cx="125.14" cy="406.56" r="1.35"/><circle cx="125.73" cy="405.96" r="1.35"/><circle cx="126.32" cy="404.95" r="1.35"/><circle cx="126.91" cy="404.13" r="1.35"/><circle cx="127.50" cy="404.09" r="1.35"/><circle cx="128.10" cy="403.06" r="1.35"/><circle cx="128.69" cy="402.12" r="1.35"/><circle cx="129.28" cy="401.81" r="1.35"/><circle cx="129.87" cy="401.08" r="1.35"/><circle cx="130.46" cy="400.78" r="1.35"/><circle cx="131.05" cy="400.10" r="1.35"/><circle cx="131.64" cy="398.94" r="1.35"/><circle cx="132.23" cy="398.88" r="1.35"/><circle cx="132.82" cy="398.51" r="1.35"/><circle cx="133.41" cy="397.60" r="1.35"/><circle cx="134.01" cy="396.57" r="1.35"/><circle cx="134.60" cy="395.13" r="1.35"/><circle cx="135.19" cy="394.33" r="1.35"/><circle cx="135.78" cy="394.03" r="1.35"/><circle cx="136.37" cy="392.63" r="1.35"/><circle cx="136.96" cy="391.83" r="1.35"/><circle cx="137.55" cy="391.40" r="1.35"/><circle cx="138.14" cy="390.50" r="1.35"/><circle cx="138.73" cy="389.99" r="1.35"/><circle cx="139.32" cy="389.02" r="1.35"/><circle cx="139.92" cy="388.23" r="1.35"/><circle cx="140.51" cy="388.42" r="1.35"/><circle cx="141.10" cy="387.75" r="1.35"/><circle cx="141.69" cy="386.94" r="1.35"/><circle cx="142.28" cy="386.59" r="1.35"/><circle cx="142.87" cy="385.16" r="1.35"/><circle cx="143.46" cy="383.95" r="1.35"/><circle cx="144.05" cy="382.40" r="1.35"/><circle cx="144.64" cy="380.09" r="1.35"/><circle cx="145.23" cy="378.94" r="1.35"/><circle cx="145.83" cy="377.92" r="1.35"/><circle cx="146.42" cy="376.50" r="1.35"/><circle cx="147.01" cy="375.40" r="1.35"/><circle cx="147.60" cy="373.92" r="1.35"/><circle cx="148.19" cy="373.44" r="1.35"/><circle cx="148.78" cy="373.45" r="1.35"/><circle cx="149.37" cy="372.37" r="1.35"/><circle cx="149.96" cy="371.66" r="1.35"/><circle cx="150.55" cy="371.28" r="1.35"/><circle cx="151.14" cy="370.87" r="1.35"/><circle cx="151.74" cy="371.01" r="1.35"/><circle cx="152.33" cy="370.41" r="1.35"/><circle cx="152.92" cy="369.66" r="1.35"/><circle cx="153.51" cy="369.96" r="1.35"/><circle cx="154.10" cy="369.32" r="1.35"/><circle cx="154.69" cy="368.34" r="1.35"/><circle cx="155.28" cy="367.61" r="1.35"/><circle cx="155.87" cy="366.44" r="1.35"/><circle cx="156.46" cy="366.11" r="1.35"/><circle cx="157.05" cy="365.62" r="1.35"/><circle cx="157.65" cy="364.20" r="1.35"/><circle cx="158.24" cy="363.60" r="1.35"/><circle cx="158.83" cy="363.00" r="1.35"/><circle cx="159.42" cy="362.20" r="1.35"/><circle cx="160.01" cy="361.73" r="1.35"/><circle cx="160.60" cy="360.46" r="1.35"/><circle cx="161.19" cy="359.82" r="1.35"/><circle cx="161.78" cy="359.87" r="1.35"/><circle cx="162.37" cy="358.97" r="1.35"/><circle cx="162.96" cy="358.26" r="1.35"/><circle cx="163.56" cy="357.70" r="1.35"/><circle cx="164.15" cy="356.92" r="1.35"/><circle cx="164.74" cy="356.89" r="1.35"/><circle cx="165.33" cy="356.10" r="1.35"/><circle cx="165.92" cy="354.74" r="1.35"/><circle cx="166.51" cy="354.38" r="1.35"/><circle cx="167.10" cy="353.63" r="1.35"/><circle cx="167.69" cy="352.82" r="1.35"/><circle cx="168.28" cy="352.12" r="1.35"/><circle cx="168.87" cy="350.87" r="1.35"/><circle cx="169.47" cy="350.74" r="1.35"/><circle cx="170.06" cy="350.68" r="1.35"/><circle cx="170.65" cy="349.61" r="1.35"/><circle cx="171.24" cy="349.05" r="1.35"/><circle cx="171.83" cy="348.46" r="1.35"/><circle cx="172.42" cy="347.84" r="1.35"/><circle cx="173.01" cy="347.70" r="1.35"/><circle cx="173.60" cy="346.59" r="1.35"/><circle cx="174.19" cy="345.83" r="1.35"/><circle cx="174.79" cy="345.90" r="1.35"/><circle cx="175.38" cy="345.23" r="1.35"/><circle cx="175.97" cy="344.71" r="1.35"/><circle cx="176.56" cy="344.13" r="1.35"/><circle cx="177.15" cy="343.53" r="1.35"/><circle cx="177.74" cy="343.91" r="1.35"/><circle cx="178.33" cy="343.71" r="1.35"/><circle cx="178.92" cy="342.91" r="1.35"/><circle cx="179.51" cy="342.95" r="1.35"/><circle cx="180.10" cy="342.66" r="1.35"/><circle cx="180.70" cy="342.48" r="1.35"/><circle cx="181.29" cy="342.40" r="1.35"/><circle cx="181.88" cy="341.46" r="1.35"/><circle cx="182.47" cy="341.35" r="1.35"/><circle cx="183.06" cy="341.56" r="1.35"/><circle cx="183.65" cy="340.88" r="1.35"/><circle cx="184.24" cy="340.62" r="1.35"/><circle cx="184.83" cy="340.17" r="1.35"/><circle cx="185.42" cy="339.80" r="1.35"/><circle cx="186.01" cy="340.10" r="1.35"/><circle cx="186.61" cy="339.15" r="1.35"/><circle cx="187.20" cy="338.21" r="1.35"/><circle cx="187.79" cy="338.08" r="1.35"/><circle cx="188.38" cy="337.43" r="1.35"/><circle cx="188.97" cy="336.70" r="1.35"/><circle cx="189.56" cy="335.75" r="1.35"/><circle cx="190.15" cy="334.40" r="1.35"/><circle cx="190.74" cy="334.30" r="1.35"/><circle cx="191.33" cy="333.85" r="1.35"/><circle cx="191.92" cy="332.72" r="1.35"/><circle cx="192.52" cy="332.15" r="1.35"/><circle cx="193.11" cy="331.28" r="1.35"/><circle cx="193.70" cy="330.72" r="1.35"/><circle cx="194.29" cy="330.38" r="1.35"/><circle cx="194.88" cy="329.00" r="1.35"/><circle cx="195.47" cy="328.27" r="1.35"/><circle cx="196.06" cy="328.01" r="1.35"/><circle cx="196.65" cy="327.07" r="1.35"/><circle cx="197.24" cy="326.57" r="1.35"/><circle cx="197.83" cy="325.71" r="1.35"/><circle cx="198.43" cy="324.87" r="1.35"/><circle cx="199.02" cy="324.94" r="1.35"/><circle cx="199.61" cy="324.21" r="1.35"/><circle cx="200.20" cy="323.28" r="1.35"/><circle cx="200.79" cy="323.04" r="1.35"/><circle cx="201.38" cy="322.41" r="1.35"/><circle cx="201.97" cy="322.19" r="1.35"/><circle cx="202.56" cy="321.85" r="1.35"/><circle cx="203.15" cy="320.90" r="1.35"/><circle cx="203.74" cy="321.00" r="1.35"/><circle cx="204.34" cy="321.01" r="1.35"/><circle cx="204.93" cy="320.39" r="1.35"/><circle cx="205.52" cy="320.21" r="1.35"/><circle cx="206.11" cy="319.62" r="1.35"/><circle cx="206.70" cy="319.46" r="1.35"/><circle cx="207.29" cy="319.74" r="1.35"/><circle cx="207.88" cy="318.89" r="1.35"/><circle cx="208.47" cy="318.46" r="1.35"/><circle cx="209.06" cy="318.50" r="1.35"/><circle cx="209.65" cy="318.07" r="1.35"/><circle cx="210.25" cy="318.05" r="1.35"/><circle cx="210.84" cy="317.48" r="1.35"/><circle cx="211.43" cy="316.76" r="1.35"/><circle cx="212.02" cy="316.92" r="1.35"/><circle cx="212.61" cy="316.30" r="1.35"/><circle cx="213.20" cy="315.37" r="1.35"/><circle cx="213.79" cy="314.92" r="1.35"/><circle cx="214.38" cy="314.08" r="1.35"/><circle cx="214.97" cy="313.93" r="1.35"/><circle cx="215.56" cy="313.71" r="1.35"/><circle cx="216.16" cy="312.57" r="1.35"/><circle cx="216.75" cy="312.34" r="1.35"/><circle cx="217.34" cy="312.19" r="1.35"/><circle cx="217.93" cy="311.59" r="1.35"/><circle cx="218.52" cy="311.48" r="1.35"/><circle cx="219.11" cy="310.74" r="1.35"/><circle cx="219.70" cy="310.42" r="1.35"/><circle cx="220.29" cy="310.78" r="1.35"/><circle cx="220.88" cy="310.08" r="1.35"/><circle cx="221.47" cy="309.76" r="1.35"/><circle cx="222.07" cy="309.87" r="1.35"/><circle cx="222.66" cy="309.65" r="1.35"/><circle cx="223.25" cy="310.02" r="1.35"/><circle cx="223.84" cy="309.77" r="1.35"/><circle cx="224.43" cy="309.14" r="1.35"/><circle cx="225.02" cy="309.60" r="1.35"/><circle cx="225.61" cy="309.61" r="1.35"/><circle cx="226.20" cy="309.17" r="1.35"/><circle cx="226.79" cy="308.84" r="1.35"/><circle cx="227.38" cy="308.01" r="1.35"/><circle cx="227.98" cy="307.93" r="1.35"/><circle cx="228.57" cy="307.91" r="1.35"/><circle cx="229.16" cy="306.86" r="1.35"/><circle cx="229.75" cy="306.49" r="1.35"/><circle cx="230.34" cy="306.37" r="1.35"/><circle cx="230.93" cy="306.02" r="1.35"/><circle cx="231.52" cy="306.08" r="1.35"/><circle cx="232.11" cy="305.32" r="1.35"/><circle cx="232.70" cy="304.83" r="1.35"/><circle cx="233.29" cy="305.20" r="1.35"/><circle cx="233.89" cy="304.74" r="1.35"/><circle cx="234.48" cy="304.41" r="1.35"/><circle cx="235.07" cy="304.27" r="1.35"/><circle cx="235.66" cy="303.83" r="1.35"/><circle cx="236.25" cy="304.20" r="1.35"/><circle cx="236.84" cy="304.01" r="1.35"/><circle cx="237.43" cy="303.21" r="1.35"/><circle cx="238.02" cy="303.35" r="1.35"/><circle cx="238.61" cy="303.21" r="1.35"/><circle cx="239.20" cy="302.93" r="1.35"/><circle cx="239.80" cy="302.85" r="1.35"/><circle cx="240.39" cy="302.05" r="1.35"/><circle cx="240.98" cy="302.03" r="1.35"/><circle cx="241.57" cy="302.32" r="1.35"/><circle cx="242.16" cy="301.62" r="1.35"/><circle cx="242.75" cy="301.38" r="1.35"/><circle cx="243.34" cy="301.18" r="1.35"/><circle cx="243.93" cy="300.90" r="1.35"/><circle cx="244.52" cy="301.19" r="1.35"/><circle cx="245.11" cy="300.57" r="1.35"/><circle cx="245.71" cy="299.98" r="1.35"/><circle cx="246.30" cy="300.33" r="1.35"/><circle cx="246.89" cy="300.05" r="1.35"/><circle cx="247.48" cy="299.83" r="1.35"/><circle cx="248.07" cy="299.61" r="1.35"/><circle cx="248.66" cy="298.98" r="1.35"/><circle cx="249.25" cy="299.32" r="1.35"/><circle cx="249.84" cy="299.39" r="1.35"/><circle cx="250.43" cy="298.72" r="1.35"/><circle cx="251.02" cy="298.83" r="1.35"/><circle cx="251.62" cy="298.76" r="1.35"/><circle cx="252.21" cy="298.76" r="1.35"/><circle cx="252.80" cy="298.99" r="1.35"/><circle cx="253.39" cy="298.26" r="1.35"/><circle cx="253.98" cy="298.08" r="1.35"/><circle cx="254.57" cy="298.41" r="1.35"/><circle cx="255.16" cy="297.88" r="1.35"/><circle cx="255.75" cy="297.67" r="1.35"/><circle cx="256.34" cy="297.33" r="1.35"/><circle cx="256.93" cy="296.94" r="1.35"/><circle cx="257.53" cy="297.48" r="1.35"/><circle cx="258.12" cy="297.22" r="1.35"/><circle cx="258.71" cy="296.75" r="1.35"/><circle cx="259.30" cy="297.15" r="1.35"/><circle cx="259.89" cy="297.10" r="1.35"/><circle cx="260.48" cy="297.15" r="1.35"/><circle cx="261.07" cy="297.08" r="1.35"/><circle cx="261.66" cy="296.38" r="1.35"/><circle cx="262.25" cy="296.72" r="1.35"/><circle cx="262.84" cy="296.94" r="1.35"/><circle cx="263.44" cy="296.37" r="1.35"/><circle cx="264.03" cy="296.37" r="1.35"/><circle cx="264.62" cy="296.12" r="1.35"/><circle cx="265.21" cy="296.11" r="1.35"/><circle cx="265.80" cy="296.50" r="1.35"/><circle cx="266.39" cy="295.80" r="1.35"/><circle cx="266.98" cy="295.56" r="1.35"/><circle cx="267.57" cy="295.93" r="1.35"/><circle cx="268.16" cy="295.64" r="1.35"/><circle cx="268.75" cy="295.65" r="1.35"/><circle cx="269.35" cy="295.33" r="1.35"/><circle cx="269.94" cy="294.87" r="1.35"/><circle cx="270.53" cy="295.42" r="1.35"/><circle cx="271.12" cy="295.24" r="1.35"/><circle cx="271.71" cy="294.66" r="1.35"/><circle cx="272.30" cy="294.77" r="1.35"/><circle cx="272.89" cy="294.52" r="1.35"/><circle cx="273.48" cy="294.67" r="1.35"/><circle cx="274.07" cy="294.71" r="1.35"/><circle cx="274.66" cy="293.91" r="1.35"/><circle cx="275.26" cy="294.06" r="1.35"/><circle cx="275.85" cy="294.33" r="1.35"/><circle cx="276.44" cy="293.92" r="1.35"/><circle cx="277.03" cy="293.93" r="1.35"/><circle cx="277.62" cy="293.52" r="1.35"/><circle cx="278.21" cy="293.41" r="1.35"/><circle cx="278.80" cy="293.93" r="1.35"/><circle cx="279.39" cy="293.36" r="1.35"/><circle cx="279.98" cy="292.99" r="1.35"/><circle cx="280.57" cy="293.22" r="1.35"/><circle cx="281.17" cy="292.99" r="1.35"/><circle cx="281.76" cy="293.17" r="1.35"/><circle cx="282.35" cy="292.92" r="1.35"/><circle cx="282.94" cy="292.34" r="1.35"/><circle cx="283.53" cy="292.87" r="1.35"/><circle cx="284.12" cy="292.90" r="1.35"/><circle cx="284.71" cy="292.49" r="1.35"/><circle cx="285.30" cy="292.55" r="1.35"/><circle cx="285.89" cy="292.22" r="1.35"/><circle cx="286.48" cy="292.45" r="1.35"/><circle cx="287.08" cy="292.74" r="1.35"/><circle cx="287.67" cy="292.00" r="1.35"/><circle cx="288.26" cy="292.02" r="1.35"/><circle cx="288.85" cy="292.29" r="1.35"/><circle cx="289.44" cy="292.06" r="1.35"/><circle cx="290.03" cy="292.20" r="1.35"/><circle cx="290.62" cy="291.72" r="1.35"/><circle cx="291.21" cy="291.47" r="1.35"/><circle cx="291.80" cy="292.07" r="1.35"/><circle cx="292.39" cy="291.71" r="1.35"/><circle cx="292.99" cy="291.35" r="1.35"/><circle cx="293.58" cy="291.44" r="1.35"/><circle cx="294.17" cy="291.17" r="1.35"/><circle cx="294.76" cy="291.52" r="1.35"/><circle cx="295.35" cy="291.38" r="1.35"/><circle cx="295.94" cy="290.66" r="1.35"/><circle cx="296.53" cy="291.01" r="1.35"/><circle cx="297.12" cy="291.17" r="1.35"/><circle cx="297.71" cy="290.96" r="1.35"/><circle cx="298.30" cy="291.07" r="1.35"/><circle cx="298.90" cy="290.61" r="1.35"/><circle cx="299.49" cy="290.83" r="1.35"/><circle cx="300.08" cy="291.33" r="1.35"/><circle cx="300.67" cy="290.74" r="1.35"/><circle cx="301.26" cy="290.68" r="1.35"/><circle cx="301.85" cy="290.85" r="1.35"/><circle cx="302.44" cy="290.75" r="1.35"/><circle cx="303.03" cy="291.12" r="1.35"/><circle cx="303.62" cy="290.71" r="1.35"/><circle cx="304.21" cy="290.35" r="1.35"/><circle cx="304.81" cy="290.98" r="1.35"/><circle cx="305.40" cy="290.85" r="1.35"/><circle cx="305.99" cy="290.65" r="1.35"/></g>
<g stroke="#d9d9d9" stroke-width="0.9" fill="none"><line x1="384.70" y1="283.40" x2="680.40" y2="283.40"/><line x1="384.70" y1="283.40" x2="384.70" y2="470.50"/><line x1="384.70" y1="302.11" x2="680.40" y2="302.11"/><line x1="414.27" y1="283.40" x2="414.27" y2="470.50"/><line x1="384.70" y1="320.82" x2="680.40" y2="320.82"/><line x1="443.84" y1="283.40" x2="443.84" y2="470.50"/><line x1="384.70" y1="339.53" x2="680.40" y2="339.53"/><line x1="473.41" y1="283.40" x2="473.41" y2="470.50"/><line x1="384.70" y1="358.24" x2="680.40" y2="358.24"/><line x1="502.98" y1="283.40" x2="502.98" y2="470.50"/><line x1="384.70" y1="376.95" x2="680.40" y2="376.95"/><line x1="532.55" y1="283.40" x2="532.55" y2="470.50"/><line x1="384.70" y1="395.66" x2="680.40" y2="395.66"/><line x1="562.12" y1="283.40" x2="562.12" y2="470.50"/><line x1="384.70" y1="414.37" x2="680.40" y2="414.37"/><line x1="591.69" y1="283.40" x2="591.69" y2="470.50"/><line x1="384.70" y1="433.08" x2="680.40" y2="433.08"/><line x1="621.26" y1="283.40" x2="621.26" y2="470.50"/><line x1="384.70" y1="451.79" x2="680.40" y2="451.79"/><line x1="650.83" y1="283.40" x2="650.83" y2="470.50"/><line x1="384.70" y1="470.50" x2="680.40" y2="470.50"/><line x1="680.40" y1="283.40" x2="680.40" y2="470.50"/></g>
<g font-family='"Liberation Serif", serif' font-size="6" fill="#222222" stroke="#222222" stroke-width="0.1"><text x="379.50" y="472.60" text-anchor="end">0.00</text><text x="385.00" y="479.60" text-anchor="middle">0</text><text x="379.50" y="453.89" text-anchor="end">0.10</text><text x="414.57" y="479.60" text-anchor="middle">50</text><text x="379.50" y="435.18" text-anchor="end">0.20</text><text x="444.14" y="479.60" text-anchor="middle">100</text><text x="379.50" y="416.47" text-anchor="end">0.30</text><text x="473.71" y="479.60" text-anchor="middle">150</text><text x="379.50" y="397.76" text-anchor="end">0.40</text><text x="503.28" y="479.60" text-anchor="middle">200</text><text x="379.50" y="379.05" text-anchor="end">0.50</text><text x="532.85" y="479.60" text-anchor="middle">250</text><text x="379.50" y="360.34" text-anchor="end">0.60</text><text x="562.42" y="479.60" text-anchor="middle">300</text><text x="379.50" y="341.63" text-anchor="end">0.70</text><text x="591.99" y="479.60" text-anchor="middle">350</text><text x="379.50" y="322.92" text-anchor="end">0.80</text><text x="621.56" y="479.60" text-anchor="middle">400</text><text x="379.50" y="304.21" text-anchor="end">0.90</text><text x="651.13" y="479.60" text-anchor="middle">450</text><text x="379.50" y="285.50" text-anchor="end">1.00</text><text x="680.70" y="479.60" text-anchor="middle">500</text></g>
<text x="532.55" y="275.00" text-anchor="middle" font-family='"Liberation Serif", serif' font-size="10.3" fill="#262626">LLR plot - Olden (c)</text>
<text x="543.55" y="495.50" text-anchor="middle" font-family='"Liberation Serif", serif' font-size="10" fill="#262626">SNP markers</text>
<text transform="translate(358.80,368.95) rotate(-90)" text-anchor="middle" font-family='"Liberation Serif", serif' font-size="10" fill="#262626">Accuracy</text>
<circle cx="476.75" cy="508.00" r="1.55" fill="#a5a5a5" fill-opacity="0.8" stroke="#a5a5a5" stroke-width="0.9"/><text x="479.85" y="510.30" font-family='"Liberation Serif", serif' font-size="7.2" fill="#222222">LLR &gt; 2</text><circle cx="512.95" cy="508.00" r="1.55" fill="#ffc000" fill-opacity="0.8" stroke="#ffc000" stroke-width="0.9"/><text x="516.05" y="510.30" font-family='"Liberation Serif", serif' font-size="7.2" fill="#222222">LLR &gt; 3</text><circle cx="549.15" cy="508.00" r="1.55" fill="#4472c4" fill-opacity="0.8" stroke="#4472c4" stroke-width="0.9"/><text x="552.25" y="510.30" font-family='"Liberation Serif", serif' font-size="7.2" fill="#222222">LLR &gt; 4</text>
<g fill="#f0f0f0" stroke="#a5a5a5" stroke-width="0.95"><circle cx="386.10" cy="469.86" r="1.35"/><circle cx="386.69" cy="470.02" r="1.35"/><circle cx="387.28" cy="469.74" r="1.35"/><circle cx="387.87" cy="469.67" r="1.35"/><circle cx="388.47" cy="469.46" r="1.35"/><circle cx="389.06" cy="468.64" r="1.35"/><circle cx="389.65" cy="468.86" r="1.35"/><circle cx="390.24" cy="468.95" r="1.35"/><circle cx="390.83" cy="468.28" r="1.35"/><circle cx="391.42" cy="468.18" r="1.35"/><circle cx="392.01" cy="467.82" r="1.35"/><circle cx="392.61" cy="467.73" r="1.35"/><circle cx="393.20" cy="468.02" r="1.35"/><circle cx="393.79" cy="467.22" r="1.35"/><circle cx="394.38" cy="466.89" r="1.35"/><circle cx="394.97" cy="467.16" r="1.35"/><circle cx="395.56" cy="466.79" r="1.35"/><circle cx="396.15" cy="466.76" r="1.35"/><circle cx="396.75" cy="466.36" r="1.35"/><circle cx="397.34" cy="465.84" r="1.35"/><circle cx="397.93" cy="466.33" r="1.35"/><circle cx="398.52" cy="466.07" r="1.35"/><circle cx="399.11" cy="465.38" r="1.35"/><circle cx="399.70" cy="465.33" r="1.35"/><circle cx="400.29" cy="464.93" r="1.35"/><circle cx="400.89" cy="464.94" r="1.35"/><circle cx="401.48" cy="464.82" r="1.35"/><circle cx="402.07" cy="463.86" r="1.35"/><circle cx="402.66" cy="463.87" r="1.35"/><circle cx="403.25" cy="463.99" r="1.35"/><circle cx="403.84" cy="463.47" r="1.35"/><circle cx="404.43" cy="463.35" r="1.35"/><circle cx="405.02" cy="462.79" r="1.35"/><circle cx="405.62" cy="462.57" r="1.35"/><circle cx="406.21" cy="462.96" r="1.35"/><circle cx="406.80" cy="462.32" r="1.35"/><circle cx="407.39" cy="461.95" r="1.35"/><circle cx="407.98" cy="462.15" r="1.35"/><circle cx="408.57" cy="461.91" r="1.35"/><circle cx="409.16" cy="462.10" r="1.35"/><circle cx="409.76" cy="461.80" r="1.35"/><circle cx="410.35" cy="461.16" r="1.35"/><circle cx="410.94" cy="461.61" r="1.35"/><circle cx="411.53" cy="461.55" r="1.35"/><circle cx="412.12" cy="461.06" r="1.35"/><circle cx="412.71" cy="461.03" r="1.35"/><circle cx="413.30" cy="460.60" r="1.35"/><circle cx="413.90" cy="460.77" r="1.35"/><circle cx="414.49" cy="460.91" r="1.35"/><circle cx="415.08" cy="459.91" r="1.35"/><circle cx="415.67" cy="459.69" r="1.35"/><circle cx="416.26" cy="459.68" r="1.35"/><circle cx="416.85" cy="459.22" r="1.35"/><circle cx="417.44" cy="459.14" r="1.35"/><circle cx="418.04" cy="458.41" r="1.35"/><circle cx="418.63" cy="457.79" r="1.35"/><circle cx="419.22" cy="457.95" r="1.35"/><circle cx="419.81" cy="457.14" r="1.35"/><circle cx="420.40" cy="456.36" r="1.35"/><circle cx="420.99" cy="455.99" r="1.35"/><circle cx="421.58" cy="455.28" r="1.35"/><circle cx="422.18" cy="455.21" r="1.35"/><circle cx="422.77" cy="454.73" r="1.35"/><circle cx="423.36" cy="453.46" r="1.35"/><circle cx="423.95" cy="453.25" r="1.35"/><circle cx="424.54" cy="452.76" r="1.35"/><circle cx="425.13" cy="451.93" r="1.35"/><circle cx="425.72" cy="451.40" r="1.35"/><circle cx="426.32" cy="450.31" r="1.35"/><circle cx="426.91" cy="449.93" r="1.35"/><circle cx="427.50" cy="449.86" r="1.35"/><circle cx="428.09" cy="448.71" r="1.35"/><circle cx="428.68" cy="448.10" r="1.35"/><circle cx="429.27" cy="447.71" r="1.35"/><circle cx="429.86" cy="447.05" r="1.35"/><circle cx="430.46" cy="446.87" r="1.35"/><circle cx="431.05" cy="445.88" r="1.35"/><circle cx="431.64" cy="444.96" r="1.35"/><circle cx="432.23" cy="445.01" r="1.35"/><circle cx="432.82" cy="444.31" r="1.35"/><circle cx="433.41" cy="443.55" r="1.35"/><circle cx="434.00" cy="442.95" r="1.35"/><circle cx="434.59" cy="441.89" r="1.35"/><circle cx="435.19" cy="441.65" r="1.35"/><circle cx="435.78" cy="441.04" r="1.35"/><circle cx="436.37" cy="439.64" r="1.35"/><circle cx="436.96" cy="439.12" r="1.35"/><circle cx="437.55" cy="438.09" r="1.35"/><circle cx="438.14" cy="436.90" r="1.35"/><circle cx="438.73" cy="435.97" r="1.35"/><circle cx="439.33" cy="434.23" r="1.35"/><circle cx="439.92" cy="432.78" r="1.35"/><circle cx="440.51" cy="431.84" r="1.35"/><circle cx="441.10" cy="430.19" r="1.35"/><circle cx="441.69" cy="429.13" r="1.35"/><circle cx="442.28" cy="428.17" r="1.35"/><circle cx="442.87" cy="427.06" r="1.35"/><circle cx="443.47" cy="426.53" r="1.35"/><circle cx="444.06" cy="425.02" r="1.35"/><circle cx="444.65" cy="423.34" r="1.35"/><circle cx="445.24" cy="422.64" r="1.35"/><circle cx="445.83" cy="421.26" r="1.35"/><circle cx="446.42" cy="419.76" r="1.35"/><circle cx="447.01" cy="418.35" r="1.35"/><circle cx="447.61" cy="416.42" r="1.35"/><circle cx="448.20" cy="415.45" r="1.35"/><circle cx="448.79" cy="414.47" r="1.35"/><circle cx="449.38" cy="412.94" r="1.35"/><circle cx="449.97" cy="412.10" r="1.35"/><circle cx="450.56" cy="411.15" r="1.35"/><circle cx="451.15" cy="410.12" r="1.35"/><circle cx="451.75" cy="409.10" r="1.35"/><circle cx="452.34" cy="407.09" r="1.35"/><circle cx="452.93" cy="405.58" r="1.35"/><circle cx="453.52" cy="404.95" r="1.35"/><circle cx="454.11" cy="403.84" r="1.35"/><circle cx="454.70" cy="402.96" r="1.35"/><circle cx="455.29" cy="401.98" r="1.35"/><circle cx="455.89" cy="400.84" r="1.35"/><circle cx="456.48" cy="400.50" r="1.35"/><circle cx="457.07" cy="398.64" r="1.35"/><circle cx="457.66" cy="396.38" r="1.35"/><circle cx="458.25" cy="395.37" r="1.35"/><circle cx="458.84" cy="394.56" r="1.35"/><circle cx="459.43" cy="393.91" r="1.35"/><circle cx="460.03" cy="393.24" r="1.35"/><circle cx="460.62" cy="391.73" r="1.35"/><circle cx="461.21" cy="391.06" r="1.35"/><circle cx="461.80" cy="390.47" r="1.35"/><circle cx="462.39" cy="389.05" r="1.35"/><circle cx="462.98" cy="387.71" r="1.35"/><circle cx="463.57" cy="385.69" r="1.35"/><circle cx="464.16" cy="384.06" r="1.35"/><circle cx="464.76" cy="383.52" r="1.35"/><circle cx="465.35" cy="381.91" r="1.35"/><circle cx="465.94" cy="380.55" r="1.35"/><circle cx="466.53" cy="379.87" r="1.35"/><circle cx="467.12" cy="378.53" r="1.35"/><circle cx="467.71" cy="377.47" r="1.35"/><circle cx="468.30" cy="376.12" r="1.35"/><circle cx="468.90" cy="374.60" r="1.35"/><circle cx="469.49" cy="374.26" r="1.35"/><circle cx="470.08" cy="373.37" r="1.35"/><circle cx="470.67" cy="371.94" r="1.35"/><circle cx="471.26" cy="370.96" r="1.35"/><circle cx="471.85" cy="369.41" r="1.35"/><circle cx="472.44" cy="368.23" r="1.35"/><circle cx="473.04" cy="367.10" r="1.35"/><circle cx="473.63" cy="365.31" r="1.35"/><circle cx="474.22" cy="364.60" r="1.35"/><circle cx="474.81" cy="364.17" r="1.35"/><circle cx="475.40" cy="363.41" r="1.35"/><circle cx="475.99" cy="363.08" r="1.35"/><circle cx="476.58" cy="362.33" r="1.35"/><circle cx="477.18" cy="361.77" r="1.35"/><circle cx="477.77" cy="361.99" r="1.35"/><circle cx="478.36" cy="360.77" r="1.35"/><circle cx="478.95" cy="359.29" r="1.35"/><circle cx="479.54" cy="358.45" r="1.35"/><circle cx="480.13" cy="356.83" r="1.35"/><circle cx="480.72" cy="355.60" r="1.35"/><circle cx="481.32" cy="354.41" r="1.35"/><circle cx="481.91" cy="353.42" r="1.35"/><circle cx="482.50" cy="353.53" r="1.35"/><circle cx="483.09" cy="353.34" r="1.35"/><circle cx="483.68" cy="352.03" r="1.35"/><circle cx="484.27" cy="349.85" r="1.35"/><circle cx="484.86" cy="348.37" r="1.35"/><circle cx="485.46" cy="347.47" r="1.35"/><circle cx="486.05" cy="346.80" r="1.35"/><circle cx="486.64" cy="344.98" r="1.35"/><circle cx="487.23" cy="343.54" r="1.35"/><circle cx="487.82" cy="342.47" r="1.35"/><circle cx="488.41" cy="340.93" r="1.35"/><circle cx="489.00" cy="340.09" r="1.35"/><circle cx="489.60" cy="338.78" r="1.35"/><circle cx="490.19" cy="337.54" r="1.35"/><circle cx="490.78" cy="337.27" r="1.35"/><circle cx="491.37" cy="335.99" r="1.35"/><circle cx="491.96" cy="334.46" r="1.35"/><circle cx="492.55" cy="333.43" r="1.35"/><circle cx="493.14" cy="332.45" r="1.35"/><circle cx="493.73" cy="332.11" r="1.35"/><circle cx="494.33" cy="331.43" r="1.35"/><circle cx="494.92" cy="329.95" r="1.35"/><circle cx="495.51" cy="328.44" r="1.35"/><circle cx="496.10" cy="326.81" r="1.35"/><circle cx="496.69" cy="325.41" r="1.35"/><circle cx="497.28" cy="324.98" r="1.35"/><circle cx="497.87" cy="323.94" r="1.35"/><circle cx="498.47" cy="323.47" r="1.35"/><circle cx="499.06" cy="323.48" r="1.35"/><circle cx="499.65" cy="322.40" r="1.35"/><circle cx="500.24" cy="321.68" r="1.35"/><circle cx="500.83" cy="321.27" r="1.35"/><circle cx="501.42" cy="320.46" r="1.35"/><circle cx="502.01" cy="320.11" r="1.35"/><circle cx="502.61" cy="319.02" r="1.35"/><circle cx="503.20" cy="317.77" r="1.35"/><circle cx="503.79" cy="317.82" r="1.35"/><circle cx="504.38" cy="317.52" r="1.35"/><circle cx="504.97" cy="317.04" r="1.35"/><circle cx="505.56" cy="316.79" r="1.35"/><circle cx="506.15" cy="315.94" r="1.35"/><circle cx="506.75" cy="315.91" r="1.35"/><circle cx="507.34" cy="315.70" r="1.35"/><circle cx="507.93" cy="314.57" r="1.35"/><circle cx="508.52" cy="313.88" r="1.35"/><circle cx="509.11" cy="313.04" r="1.35"/><circle cx="509.70" cy="312.00" r="1.35"/><circle cx="510.29" cy="311.82" r="1.35"/><circle cx="510.89" cy="310.81" r="1.35"/><circle cx="511.48" cy="310.27" r="1.35"/><circle cx="512.07" cy="310.44" r="1.35"/><circle cx="512.66" cy="309.66" r="1.35"/><circle cx="513.25" cy="309.06" r="1.35"/><circle cx="513.84" cy="308.61" r="1.35"/><circle cx="514.43" cy="307.94" r="1.35"/><circle cx="515.03" cy="308.02" r="1.35"/><circle cx="515.62" cy="307.38" r="1.35"/><circle cx="516.21" cy="306.29" r="1.35"/><circle cx="516.80" cy="306.14" r="1.35"/><circle cx="517.39" cy="305.60" r="1.35"/><circle cx="517.98" cy="304.98" r="1.35"/><circle cx="518.57" cy="304.48" r="1.35"/><circle cx="519.17" cy="303.39" r="1.35"/><circle cx="519.76" cy="303.43" r="1.35"/><circle cx="520.35" cy="303.56" r="1.35"/><circle cx="520.94" cy="302.72" r="1.35"/><circle cx="521.53" cy="302.46" r="1.35"/><circle cx="522.12" cy="302.17" r="1.35"/><circle cx="522.71" cy="301.89" r="1.35"/><circle cx="523.30" cy="302.07" r="1.35"/><circle cx="523.90" cy="301.29" r="1.35"/><circle cx="524.49" cy="300.77" r="1.35"/><circle cx="525.08" cy="301.07" r="1.35"/><circle cx="525.67" cy="300.59" r="1.35"/><circle cx="526.26" cy="300.20" r="1.35"/><circle cx="526.85" cy="299.75" r="1.35"/><circle cx="527.44" cy="299.02" r="1.35"/><circle cx="528.04" cy="299.25" r="1.35"/><circle cx="528.63" cy="298.90" r="1.35"/><circle cx="529.22" cy="297.97" r="1.35"/><circle cx="529.81" cy="297.88" r="1.35"/><circle cx="530.40" cy="297.52" r="1.35"/><circle cx="530.99" cy="297.28" r="1.35"/><circle cx="531.58" cy="297.13" r="1.35"/><circle cx="532.18" cy="296.52" r="1.35"/><circle cx="532.77" cy="296.76" r="1.35"/><circle cx="533.36" cy="297.31" r="1.35"/><circle cx="533.95" cy="296.99" r="1.35"/><circle cx="534.54" cy="297.07" r="1.35"/><circle cx="535.13" cy="296.98" r="1.35"/><circle cx="535.72" cy="296.95" r="1.35"/><circle cx="536.32" cy="297.62" r="1.35"/><circle cx="536.91" cy="297.24" r="1.35"/><circle cx="537.50" cy="296.87" r="1.35"/><circle cx="538.09" cy="297.32" r="1.35"/><circle cx="538.68" cy="297.25" r="1.35"/><circle cx="539.27" cy="297.40" r="1.35"/><circle cx="539.86" cy="297.12" r="1.35"/><circle cx="540.46" cy="296.31" r="1.35"/><circle cx="541.05" cy="296.57" r="1.35"/><circle cx="541.64" cy="296.49" r="1.35"/><circle cx="542.23" cy="295.73" r="1.35"/><circle cx="542.82" cy="295.55" r="1.35"/><circle cx="543.41" cy="295.02" r="1.35"/><circle cx="544.00" cy="294.81" r="1.35"/><circle cx="544.60" cy="294.82" r="1.35"/><circle cx="545.19" cy="293.84" r="1.35"/><circle cx="545.78" cy="293.65" r="1.35"/><circle cx="546.37" cy="293.93" r="1.35"/><circle cx="546.96" cy="293.53" r="1.35"/><circle cx="547.55" cy="293.47" r="1.35"/><circle cx="548.14" cy="293.03" r="1.35"/><circle cx="548.74" cy="292.62" r="1.35"/><circle cx="549.33" cy="293.12" r="1.35"/><circle cx="549.92" cy="292.72" r="1.35"/><circle cx="550.51" cy="292.12" r="1.35"/><circle cx="551.10" cy="292.20" r="1.35"/><circle cx="551.69" cy="291.90" r="1.35"/><circle cx="552.28" cy="292.07" r="1.35"/><circle cx="552.87" cy="291.99" r="1.35"/><circle cx="553.47" cy="291.22" r="1.35"/><circle cx="554.06" cy="291.50" r="1.35"/><circle cx="554.65" cy="291.67" r="1.35"/><circle cx="555.24" cy="291.23" r="1.35"/><circle cx="555.83" cy="291.23" r="1.35"/><circle cx="556.42" cy="290.81" r="1.35"/><circle cx="557.01" cy="290.81" r="1.35"/><circle cx="557.61" cy="291.25" r="1.35"/><circle cx="558.20" cy="290.66" r="1.35"/><circle cx="558.79" cy="290.48" r="1.35"/><circle cx="559.38" cy="290.80" r="1.35"/><circle cx="559.97" cy="290.64" r="1.35"/><circle cx="560.56" cy="290.90" r="1.35"/><circle cx="561.15" cy="290.60" r="1.35"/><circle cx="561.75" cy="290.16" r="1.35"/><circle cx="562.34" cy="290.79" r="1.35"/><circle cx="562.93" cy="290.73" r="1.35"/><circle cx="563.52" cy="290.37" r="1.35"/><circle cx="564.11" cy="290.47" r="1.35"/><circle cx="564.70" cy="290.19" r="1.35"/><circle cx="565.29" cy="290.53" r="1.35"/><circle cx="565.89" cy="290.72" r="1.35"/><circle cx="566.48" cy="289.98" r="1.35"/><circle cx="567.07" cy="290.16" r="1.35"/><circle cx="567.66" cy="290.42" r="1.35"/><circle cx="568.25" cy="290.22" r="1.35"/><circle cx="568.84" cy="290.38" r="1.35"/><circle cx="569.43" cy="289.91" r="1.35"/><circle cx="570.03" cy="289.78" r="1.35"/><circle cx="570.62" cy="290.34" r="1.35"/><circle cx="571.21" cy="289.84" r="1.35"/><circle cx="571.80" cy="289.53" r="1.35"/><circle cx="572.39" cy="289.61" r="1.35"/><circle cx="572.98" cy="289.36" r="1.35"/><circle cx="573.57" cy="289.69" r="1.35"/><circle cx="574.17" cy="289.41" r="1.35"/><circle cx="574.76" cy="288.74" r="1.35"/><circle cx="575.35" cy="289.19" r="1.35"/><circle cx="575.94" cy="289.28" r="1.35"/><circle cx="576.53" cy="289.09" r="1.35"/><circle cx="577.12" cy="289.18" r="1.35"/><circle cx="577.71" cy="288.77" r="1.35"/><circle cx="578.31" cy="289.12" r="1.35"/><circle cx="578.90" cy="289.52" r="1.35"/><circle cx="579.49" cy="288.89" r="1.35"/><circle cx="580.08" cy="288.94" r="1.35"/><circle cx="580.67" cy="289.07" r="1.35"/><circle cx="581.26" cy="288.95" r="1.35"/><circle cx="581.85" cy="289.23" r="1.35"/><circle cx="582.44" cy="288.70" r="1.35"/><circle cx="583.04" cy="288.44" r="1.35"/><circle cx="583.63" cy="289.04" r="1.35"/><circle cx="584.22" cy="288.77" r="1.35"/><circle cx="584.81" cy="288.56" r="1.35"/><circle cx="585.40" cy="288.54" r="1.35"/><circle cx="585.99" cy="288.22" r="1.35"/><circle cx="586.58" cy="288.71" r="1.35"/><circle cx="587.18" cy="288.64" r="1.35"/><circle cx="587.77" cy="287.95" r="1.35"/><circle cx="588.36" cy="288.25" r="1.35"/><circle cx="588.95" cy="288.29" r="1.35"/><circle cx="589.54" cy="288.20" r="1.35"/><circle cx="590.13" cy="288.29" r="1.35"/><circle cx="590.72" cy="287.66" r="1.35"/><circle cx="591.32" cy="287.80" r="1.35"/><circle cx="591.91" cy="288.25" r="1.35"/><circle cx="592.50" cy="287.69" r="1.35"/><circle cx="593.09" cy="287.60" r="1.35"/><circle cx="593.68" cy="287.54" r="1.35"/><circle cx="594.27" cy="287.40" r="1.35"/><circle cx="594.86" cy="287.84" r="1.35"/><circle cx="595.46" cy="287.35" r="1.35"/><circle cx="596.05" cy="286.91" r="1.35"/><circle cx="596.64" cy="287.48" r="1.35"/><circle cx="597.23" cy="287.42" r="1.35"/><circle cx="597.82" cy="287.41" r="1.35"/><circle cx="598.41" cy="287.41" r="1.35"/><circle cx="599.00" cy="287.00" r="1.35"/><circle cx="599.60" cy="287.56" r="1.35"/><circle cx="600.19" cy="287.76" r="1.35"/><circle cx="600.78" cy="287.18" r="1.35"/><circle cx="601.37" cy="287.39" r="1.35"/><circle cx="601.96" cy="287.42" r="1.35"/><circle cx="602.55" cy="287.52" r="1.35"/><circle cx="603.14" cy="287.84" r="1.35"/><circle cx="603.74" cy="287.23" r="1.35"/><circle cx="604.33" cy="287.29" r="1.35"/><circle cx="604.92" cy="287.86" r="1.35"/><circle cx="605.51" cy="287.52" r="1.35"/><circle cx="606.10" cy="287.48" r="1.35"/><circle cx="606.69" cy="287.32" r="1.35"/><circle cx="607.28" cy="287.10" r="1.35"/><circle cx="607.88" cy="287.69" r="1.35"/><circle cx="608.47" cy="287.39" r="1.35"/><circle cx="609.06" cy="286.87" r="1.35"/><circle cx="609.65" cy="287.22" r="1.35"/><circle cx="610.24" cy="287.13" r="1.35"/><circle cx="610.83" cy="287.22" r="1.35"/><circle cx="611.42" cy="287.20" r="1.35"/><circle cx="612.01" cy="286.56" r="1.35"/><circle cx="612.61" cy="286.95" r="1.35"/><circle cx="613.20" cy="287.23" r="1.35"/><circle cx="613.79" cy="286.72" r="1.35"/><circle cx="614.38" cy="286.78" r="1.35"/><circle cx="614.97" cy="286.59" r="1.35"/><circle cx="615.56" cy="286.64" r="1.35"/><circle cx="616.15" cy="287.08" r="1.35"/><circle cx="616.75" cy="286.44" r="1.35"/><circle cx="617.34" cy="286.25" r="1.35"/><circle cx="617.93" cy="286.69" r="1.35"/><circle cx="618.52" cy="286.47" r="1.35"/><circle cx="619.11" cy="286.56" r="1.35"/><circle cx="619.70" cy="286.31" r="1.35"/><circle cx="620.29" cy="285.92" r="1.35"/><circle cx="620.89" cy="286.55" r="1.35"/><circle cx="621.48" cy="286.43" r="1.35"/><circle cx="622.07" cy="285.92" r="1.35"/><circle cx="622.66" cy="286.11" r="1.35"/><circle cx="623.25" cy="285.94" r="1.35"/><circle cx="623.84" cy="286.15" r="1.35"/><circle cx="624.43" cy="286.27" r="1.35"/><circle cx="625.03" cy="285.53" r="1.35"/><circle cx="625.62" cy="285.75" r="1.35"/><circle cx="626.21" cy="286.09" r="1.35"/><circle cx="626.80" cy="285.74" r="1.35"/><circle cx="627.39" cy="285.81" r="1.35"/><circle cx="627.98" cy="285.46" r="1.35"/><circle cx="628.57" cy="285.42" r="1.35"/><circle cx="629.17" cy="286.01" r="1.35"/><circle cx="629.76" cy="285.50" r="1.35"/><circle cx="630.35" cy="285.21" r="1.35"/><circle cx="630.94" cy="285.52" r="1.35"/><circle cx="631.53" cy="285.37" r="1.35"/><circle cx="632.12" cy="285.64" r="1.35"/><circle cx="632.71" cy="285.44" r="1.35"/><circle cx="633.31" cy="284.90" r="1.35"/><circle cx="633.90" cy="285.47" r="1.35"/><circle cx="634.49" cy="285.54" r="1.35"/><circle cx="635.08" cy="285.16" r="1.35"/><circle cx="635.67" cy="285.26" r="1.35"/><circle cx="636.26" cy="284.96" r="1.35"/><circle cx="636.85" cy="285.24" r="1.35"/><circle cx="637.45" cy="285.56" r="1.35"/><circle cx="638.04" cy="284.85" r="1.35"/><circle cx="638.63" cy="284.91" r="1.35"/><circle cx="639.22" cy="285.22" r="1.35"/><circle cx="639.81" cy="285.04" r="1.35"/><circle cx="640.40" cy="285.24" r="1.35"/><circle cx="640.99" cy="284.82" r="1.35"/><circle cx="641.58" cy="284.63" r="1.35"/><circle cx="642.18" cy="285.30" r="1.35"/><circle cx="642.77" cy="285.00" r="1.35"/><circle cx="643.36" cy="284.70" r="1.35"/><circle cx="643.95" cy="284.84" r="1.35"/><circle cx="644.54" cy="284.64" r="1.35"/><circle cx="645.13" cy="285.05" r="1.35"/><circle cx="645.72" cy="285.00" r="1.35"/><circle cx="646.32" cy="284.35" r="1.35"/><circle cx="646.91" cy="284.78" r="1.35"/><circle cx="647.50" cy="284.95" r="1.35"/><circle cx="648.09" cy="284.75" r="1.35"/><circle cx="648.68" cy="284.86" r="1.35"/><circle cx="649.27" cy="284.42" r="1.35"/><circle cx="649.86" cy="284.65" r="1.35"/><circle cx="650.46" cy="285.15" r="1.35"/><circle cx="651.05" cy="284.57" r="1.35"/><circle cx="651.64" cy="284.52" r="1.35"/><circle cx="652.23" cy="284.71" r="1.35"/><circle cx="652.82" cy="284.61" r="1.35"/><circle cx="653.41" cy="284.99" r="1.35"/><circle cx="654.00" cy="284.59" r="1.35"/><circle cx="654.60" cy="284.24" r="1.35"/><circle cx="655.19" cy="284.88" r="1.35"/><circle cx="655.78" cy="284.76" r="1.35"/><circle cx="656.37" cy="284.57" r="1.35"/><circle cx="656.96" cy="284.62" r="1.35"/></g>
<g fill="#fff4d0" stroke="#ffc000" stroke-width="0.95"><circle cx="386.10" cy="470.26" r="1.35"/><circle cx="386.69" cy="470.41" r="1.35"/><circle cx="387.28" cy="470.11" r="1.35"/><circle cx="387.87" cy="470.03" r="1.35"/><circle cx="388.47" cy="469.81" r="1.35"/><circle cx="389.06" cy="468.98" r="1.35"/><circle cx="389.65" cy="469.19" r="1.35"/><circle cx="390.24" cy="469.26" r="1.35"/><circle cx="390.83" cy="468.58" r="1.35"/><circle cx="391.42" cy="468.48" r="1.35"/><circle cx="392.01" cy="468.12" r="1.35"/><circle cx="392.61" cy="468.03" r="1.35"/><circle cx="393.20" cy="468.32" r="1.35"/><circle cx="393.79" cy="467.52" r="1.35"/><circle cx="394.38" cy="467.19" r="1.35"/><circle cx="394.97" cy="467.46" r="1.35"/><circle cx="395.56" cy="467.10" r="1.35"/><circle cx="396.15" cy="467.09" r="1.35"/><circle cx="396.75" cy="466.73" r="1.35"/><circle cx="397.34" cy="466.24" r="1.35"/><circle cx="397.93" cy="466.77" r="1.35"/><circle cx="398.52" cy="466.54" r="1.35"/><circle cx="399.11" cy="465.95" r="1.35"/><circle cx="399.70" cy="466.02" r="1.35"/><circle cx="400.29" cy="465.72" r="1.35"/><circle cx="400.89" cy="465.70" r="1.35"/><circle cx="401.48" cy="465.57" r="1.35"/><circle cx="402.07" cy="464.58" r="1.35"/><circle cx="402.66" cy="464.58" r="1.35"/><circle cx="403.25" cy="464.84" r="1.35"/><circle cx="403.84" cy="464.46" r="1.35"/><circle cx="404.43" cy="464.47" r="1.35"/><circle cx="405.02" cy="464.05" r="1.35"/><circle cx="405.62" cy="463.97" r="1.35"/><circle cx="406.21" cy="464.49" r="1.35"/><circle cx="406.80" cy="463.95" r="1.35"/><circle cx="407.39" cy="463.64" r="1.35"/><circle cx="407.98" cy="463.90" r="1.35"/><circle cx="408.57" cy="463.73" r="1.35"/><circle cx="409.16" cy="463.98" r="1.35"/><circle cx="409.76" cy="463.73" r="1.35"/><circle cx="410.35" cy="463.16" r="1.35"/><circle cx="410.94" cy="463.64" r="1.35"/><circle cx="411.53" cy="463.60" r="1.35"/><circle cx="412.12" cy="463.15" r="1.35"/><circle cx="412.71" cy="463.15" r="1.35"/><circle cx="413.30" cy="462.75" r="1.35"/><circle cx="413.90" cy="462.95" r="1.35"/><circle cx="414.49" cy="463.13" r="1.35"/><circle cx="415.08" cy="462.23" r="1.35"/><circle cx="415.67" cy="462.09" r="1.35"/><circle cx="416.26" cy="462.18" r="1.35"/><circle cx="416.85" cy="461.81" r="1.35"/><circle cx="417.44" cy="461.79" r="1.35"/><circle cx="418.04" cy="460.81" r="1.35"/><circle cx="418.63" cy="460.10" r="1.35"/><circle cx="419.22" cy="460.22" r="1.35"/><circle cx="419.81" cy="459.38" r="1.35"/><circle cx="420.40" cy="458.68" r="1.35"/><circle cx="420.99" cy="458.40" r="1.35"/><circle cx="421.58" cy="457.78" r="1.35"/><circle cx="422.18" cy="457.78" r="1.35"/><circle cx="422.77" cy="457.28" r="1.35"/><circle cx="423.36" cy="456.28" r="1.35"/><circle cx="423.95" cy="456.41" r="1.35"/><circle cx="424.54" cy="456.26" r="1.35"/><circle cx="425.13" cy="455.77" r="1.35"/><circle cx="425.72" cy="455.58" r="1.35"/><circle cx="426.32" cy="454.81" r="1.35"/><circle cx="426.91" cy="454.74" r="1.35"/><circle cx="427.50" cy="454.94" r="1.35"/><circle cx="428.09" cy="453.72" r="1.35"/><circle cx="428.68" cy="453.04" r="1.35"/><circle cx="429.27" cy="452.58" r="1.35"/><circle cx="429.86" cy="451.85" r="1.35"/><circle cx="430.46" cy="451.60" r="1.35"/><circle cx="431.05" cy="450.66" r="1.35"/><circle cx="431.64" cy="449.85" r="1.35"/><circle cx="432.23" cy="450.02" r="1.35"/><circle cx="432.82" cy="449.44" r="1.35"/><circle cx="433.41" cy="448.81" r="1.35"/><circle cx="434.00" cy="448.38" r="1.35"/><circle cx="434.59" cy="447.59" r="1.35"/><circle cx="435.19" cy="447.51" r="1.35"/><circle cx="435.78" cy="447.05" r="1.35"/><circle cx="436.37" cy="445.80" r="1.35"/><circle cx="436.96" cy="445.47" r="1.35"/><circle cx="437.55" cy="445.01" r="1.35"/><circle cx="438.14" cy="444.39" r="1.35"/><circle cx="438.73" cy="443.85" r="1.35"/><circle cx="439.33" cy="442.26" r="1.35"/><circle cx="439.92" cy="441.32" r="1.35"/><circle cx="440.51" cy="440.89" r="1.35"/><circle cx="441.10" cy="439.25" r="1.35"/><circle cx="441.69" cy="437.75" r="1.35"/><circle cx="442.28" cy="436.32" r="1.35"/><circle cx="442.87" cy="434.94" r="1.35"/><circle cx="443.47" cy="434.29" r="1.35"/><circle cx="444.06" cy="432.79" r="1.35"/><circle cx="444.65" cy="431.10" r="1.35"/><circle cx="445.24" cy="430.63" r="1.35"/><circle cx="445.83" cy="429.65" r="1.35"/><circle cx="446.42" cy="428.67" r="1.35"/><circle cx="447.01" cy="427.74" r="1.35"/><circle cx="447.61" cy="426.25" r="1.35"/><circle cx="448.20" cy="425.71" r="1.35"/><circle cx="448.79" cy="425.01" r="1.35"/><circle cx="449.38" cy="423.44" r="1.35"/><circle cx="449.97" cy="422.79" r="1.35"/><circle cx="450.56" cy="422.03" r="1.35"/><circle cx="451.15" cy="421.32" r="1.35"/><circle cx="451.75" cy="420.95" r="1.35"/><circle cx="452.34" cy="419.52" r="1.35"/><circle cx="452.93" cy="418.62" r="1.35"/><circle cx="453.52" cy="418.40" r="1.35"/><circle cx="454.11" cy="417.38" r="1.35"/><circle cx="454.70" cy="416.59" r="1.35"/><circle cx="455.29" cy="415.68" r="1.35"/><circle cx="455.89" cy="414.50" r="1.35"/><circle cx="456.48" cy="413.94" r="1.35"/><circle cx="457.07" cy="412.61" r="1.35"/><circle cx="457.66" cy="410.87" r="1.35"/><circle cx="458.25" cy="409.90" r="1.35"/><circle cx="458.84" cy="408.43" r="1.35"/><circle cx="459.43" cy="407.12" r="1.35"/><circle cx="460.03" cy="406.41" r="1.35"/><circle cx="460.62" cy="405.18" r="1.35"/><circle cx="461.21" cy="404.92" r="1.35"/><circle cx="461.80" cy="404.75" r="1.35"/><circle cx="462.39" cy="403.74" r="1.35"/><circle cx="462.98" cy="402.81" r="1.35"/><circle cx="463.57" cy="401.22" r="1.35"/><circle cx="464.16" cy="399.80" r="1.35"/><circle cx="464.76" cy="399.26" r="1.35"/><circle cx="465.35" cy="397.75" r="1.35"/><circle cx="465.94" cy="396.49" r="1.35"/><circle cx="466.53" cy="395.95" r="1.35"/><circle cx="467.12" cy="395.02" r="1.35"/><circle cx="467.71" cy="394.38" r="1.35"/><circle cx="468.30" cy="393.45" r="1.35"/><circle cx="468.90" cy="392.22" r="1.35"/><circle cx="469.49" cy="391.88" r="1.35"/><circle cx="470.08" cy="390.94" r="1.35"/><circle cx="470.67" cy="389.47" r="1.35"/><circle cx="471.26" cy="388.65" r="1.35"/><circle cx="471.85" cy="387.71" r="1.35"/><circle cx="472.44" cy="387.16" r="1.35"/><circle cx="473.04" cy="386.65" r="1.35"/><circle cx="473.63" cy="385.17" r="1.35"/><circle cx="474.22" cy="384.53" r="1.35"/><circle cx="474.81" cy="383.99" r="1.35"/><circle cx="475.40" cy="382.75" r="1.35"/><circle cx="475.99" cy="381.88" r="1.35"/><circle cx="476.58" cy="380.60" r="1.35"/><circle cx="477.18" cy="379.51" r="1.35"/><circle cx="477.77" cy="379.16" r="1.35"/><circle cx="478.36" cy="377.77" r="1.35"/><circle cx="478.95" cy="376.38" r="1.35"/><circle cx="479.54" cy="375.64" r="1.35"/><circle cx="480.13" cy="374.51" r="1.35"/><circle cx="480.72" cy="373.82" r="1.35"/><circle cx="481.32" cy="372.74" r="1.35"/><circle cx="481.91" cy="371.14" r="1.35"/><circle cx="482.50" cy="370.69" r="1.35"/><circle cx="483.09" cy="369.93" r="1.35"/><circle cx="483.68" cy="368.63" r="1.35"/><circle cx="484.27" cy="367.79" r="1.35"/><circle cx="484.86" cy="366.49" r="1.35"/><circle cx="485.46" cy="365.72" r="1.35"/><circle cx="486.05" cy="365.18" r="1.35"/><circle cx="486.64" cy="363.51" r="1.35"/><circle cx="487.23" cy="362.04" r="1.35"/><circle cx="487.82" cy="360.94" r="1.35"/><circle cx="488.41" cy="359.66" r="1.35"/><circle cx="489.00" cy="359.32" r="1.35"/><circle cx="489.60" cy="358.36" r="1.35"/><circle cx="490.19" cy="357.46" r="1.35"/><circle cx="490.78" cy="357.55" r="1.35"/><circle cx="491.37" cy="356.72" r="1.35"/><circle cx="491.96" cy="355.27" r="1.35"/><circle cx="492.55" cy="354.27" r="1.35"/><circle cx="493.14" cy="352.97" r="1.35"/><circle cx="493.73" cy="352.38" r="1.35"/><circle cx="494.33" cy="351.44" r="1.35"/><circle cx="494.92" cy="349.75" r="1.35"/><circle cx="495.51" cy="348.88" r="1.35"/><circle cx="496.10" cy="347.88" r="1.35"/><circle cx="496.69" cy="346.48" r="1.35"/><circle cx="497.28" cy="345.41" r="1.35"/><circle cx="497.87" cy="343.89" r="1.35"/><circle cx="498.47" cy="342.97" r="1.35"/><circle cx="499.06" cy="342.53" r="1.35"/><circle cx="499.65" cy="341.02" r="1.35"/><circle cx="500.24" cy="339.87" r="1.35"/><circle cx="500.83" cy="339.03" r="1.35"/><circle cx="501.42" cy="337.90" r="1.35"/><circle cx="502.01" cy="337.31" r="1.35"/><circle cx="502.61" cy="335.99" r="1.35"/><circle cx="503.20" cy="334.70" r="1.35"/><circle cx="503.79" cy="334.50" r="1.35"/><circle cx="504.38" cy="333.69" r="1.35"/><circle cx="504.97" cy="332.71" r="1.35"/><circle cx="505.56" cy="331.83" r="1.35"/><circle cx="506.15" cy="330.50" r="1.35"/><circle cx="506.75" cy="329.98" r="1.35"/><circle cx="507.34" cy="329.29" r="1.35"/><circle cx="507.93" cy="327.98" r="1.35"/><circle cx="508.52" cy="327.52" r="1.35"/><circle cx="509.11" cy="327.06" r="1.35"/><circle cx="509.70" cy="326.41" r="1.35"/><circle cx="510.29" cy="326.41" r="1.35"/><circle cx="510.89" cy="325.60" r="1.35"/><circle cx="511.48" cy="325.26" r="1.35"/><circle cx="512.07" cy="325.53" r="1.35"/><circle cx="512.66" cy="324.16" r="1.35"/><circle cx="513.25" cy="322.99" r="1.35"/><circle cx="513.84" cy="321.95" r="1.35"/><circle cx="514.43" cy="320.71" r="1.35"/><circle cx="515.03" cy="320.38" r="1.35"/><circle cx="515.62" cy="319.32" r="1.35"/><circle cx="516.21" cy="317.85" r="1.35"/><circle cx="516.80" cy="317.40" r="1.35"/><circle cx="517.39" cy="316.58" r="1.35"/><circle cx="517.98" cy="315.70" r="1.35"/><circle cx="518.57" cy="314.93" r="1.35"/><circle cx="519.17" cy="313.55" r="1.35"/><circle cx="519.76" cy="313.29" r="1.35"/><circle cx="520.35" cy="313.10" r="1.35"/><circle cx="520.94" cy="311.95" r="1.35"/><circle cx="521.53" cy="311.42" r="1.35"/><circle cx="522.12" cy="311.01" r="1.35"/><circle cx="522.71" cy="310.58" r="1.35"/><circle cx="523.30" cy="310.62" r="1.35"/><circle cx="523.90" cy="309.69" r="1.35"/><circle cx="524.49" cy="309.02" r="1.35"/><circle cx="525.08" cy="309.15" r="1.35"/><circle cx="525.67" cy="308.54" r="1.35"/><circle cx="526.26" cy="308.07" r="1.35"/><circle cx="526.85" cy="307.54" r="1.35"/><circle cx="527.44" cy="306.74" r="1.35"/><circle cx="528.04" cy="307.02" r="1.35"/><circle cx="528.63" cy="306.84" r="1.35"/><circle cx="529.22" cy="306.05" r="1.35"/><circle cx="529.81" cy="306.10" r="1.35"/><circle cx="530.40" cy="305.87" r="1.35"/><circle cx="530.99" cy="305.77" r="1.35"/><circle cx="531.58" cy="305.75" r="1.35"/><circle cx="532.18" cy="304.88" r="1.35"/><circle cx="532.77" cy="304.83" r="1.35"/><circle cx="533.36" cy="305.11" r="1.35"/><circle cx="533.95" cy="304.51" r="1.35"/><circle cx="534.54" cy="304.29" r="1.35"/><circle cx="535.13" cy="303.90" r="1.35"/><circle cx="535.72" cy="303.57" r="1.35"/><circle cx="536.32" cy="303.93" r="1.35"/><circle cx="536.91" cy="303.28" r="1.35"/><circle cx="537.50" cy="302.67" r="1.35"/><circle cx="538.09" cy="302.89" r="1.35"/><circle cx="538.68" cy="302.58" r="1.35"/><circle cx="539.27" cy="302.51" r="1.35"/><circle cx="539.86" cy="302.22" r="1.35"/><circle cx="540.46" cy="301.39" r="1.35"/><circle cx="541.05" cy="301.52" r="1.35"/><circle cx="541.64" cy="301.30" r="1.35"/><circle cx="542.23" cy="300.40" r="1.35"/><circle cx="542.82" cy="300.13" r="1.35"/><circle cx="543.41" cy="299.58" r="1.35"/><circle cx="544.00" cy="299.34" r="1.35"/><circle cx="544.60" cy="299.32" r="1.35"/><circle cx="545.19" cy="298.25" r="1.35"/><circle cx="545.78" cy="297.84" r="1.35"/><circle cx="546.37" cy="298.02" r="1.35"/><circle cx="546.96" cy="297.55" r="1.35"/><circle cx="547.55" cy="297.43" r="1.35"/><circle cx="548.14" cy="296.92" r="1.35"/><circle cx="548.74" cy="296.44" r="1.35"/><circle cx="549.33" cy="296.88" r="1.35"/><circle cx="549.92" cy="296.42" r="1.35"/><circle cx="550.51" cy="295.75" r="1.35"/><circle cx="551.10" cy="295.77" r="1.35"/><circle cx="551.69" cy="295.40" r="1.35"/><circle cx="552.28" cy="295.57" r="1.35"/><circle cx="552.87" cy="295.49" r="1.35"/><circle cx="553.47" cy="294.72" r="1.35"/><circle cx="554.06" cy="295.00" r="1.35"/><circle cx="554.65" cy="295.17" r="1.35"/><circle cx="555.24" cy="294.73" r="1.35"/><circle cx="555.83" cy="294.73" r="1.35"/><circle cx="556.42" cy="294.31" r="1.35"/><circle cx="557.01" cy="294.31" r="1.35"/><circle cx="557.61" cy="294.75" r="1.35"/><circle cx="558.20" cy="294.10" r="1.35"/><circle cx="558.79" cy="293.86" r="1.35"/><circle cx="559.38" cy="294.12" r="1.35"/><circle cx="559.97" cy="293.90" r="1.35"/><circle cx="560.56" cy="294.10" r="1.35"/><circle cx="561.15" cy="293.74" r="1.35"/><circle cx="561.75" cy="293.24" r="1.35"/><circle cx="562.34" cy="293.81" r="1.35"/><circle cx="562.93" cy="293.69" r="1.35"/><circle cx="563.52" cy="293.27" r="1.35"/><circle cx="564.11" cy="293.40" r="1.35"/><circle cx="564.70" cy="293.14" r="1.35"/><circle cx="565.29" cy="293.50" r="1.35"/><circle cx="565.89" cy="293.71" r="1.35"/><circle cx="566.48" cy="293.01" r="1.35"/><circle cx="567.07" cy="293.21" r="1.35"/><circle cx="567.66" cy="293.49" r="1.35"/><circle cx="568.25" cy="293.32" r="1.35"/><circle cx="568.84" cy="293.50" r="1.35"/><circle cx="569.43" cy="293.05" r="1.35"/><circle cx="570.03" cy="292.98" r="1.35"/><circle cx="570.62" cy="293.59" r="1.35"/><circle cx="571.21" cy="293.15" r="1.35"/><circle cx="571.80" cy="292.89" r="1.35"/><circle cx="572.39" cy="293.01" r="1.35"/><circle cx="572.98" cy="292.78" r="1.35"/><circle cx="573.57" cy="292.90" r="1.35"/><circle cx="574.17" cy="292.39" r="1.35"/><circle cx="574.76" cy="291.50" r="1.35"/><circle cx="575.35" cy="291.78" r="1.35"/><circle cx="575.94" cy="291.83" r="1.35"/><circle cx="576.53" cy="291.60" r="1.35"/><circle cx="577.12" cy="291.65" r="1.35"/><circle cx="577.71" cy="291.20" r="1.35"/><circle cx="578.31" cy="291.50" r="1.35"/><circle cx="578.90" cy="291.87" r="1.35"/><circle cx="579.49" cy="291.20" r="1.35"/><circle cx="580.08" cy="291.21" r="1.35"/><circle cx="580.67" cy="291.36" r="1.35"/><circle cx="581.26" cy="291.26" r="1.35"/><circle cx="581.85" cy="291.56" r="1.35"/><circle cx="582.44" cy="291.05" r="1.35"/><circle cx="583.04" cy="290.80" r="1.35"/><circle cx="583.63" cy="291.42" r="1.35"/><circle cx="584.22" cy="291.21" r="1.35"/><circle cx="584.81" cy="291.09" r="1.35"/><circle cx="585.40" cy="291.16" r="1.35"/><circle cx="585.99" cy="290.93" r="1.35"/><circle cx="586.58" cy="291.51" r="1.35"/><circle cx="587.18" cy="291.53" r="1.35"/><circle cx="587.77" cy="290.93" r="1.35"/><circle cx="588.36" cy="291.31" r="1.35"/><circle cx="588.95" cy="291.44" r="1.35"/><circle cx="589.54" cy="291.44" r="1.35"/><circle cx="590.13" cy="291.57" r="1.35"/><circle cx="590.72" cy="290.97" r="1.35"/><circle cx="591.32" cy="291.14" r="1.35"/><circle cx="591.91" cy="291.62" r="1.35"/><circle cx="592.50" cy="291.09" r="1.35"/><circle cx="593.09" cy="291.02" r="1.35"/><circle cx="593.68" cy="291.00" r="1.35"/><circle cx="594.27" cy="290.88" r="1.35"/><circle cx="594.86" cy="291.35" r="1.35"/><circle cx="595.46" cy="290.89" r="1.35"/><circle cx="596.05" cy="290.44" r="1.35"/><circle cx="596.64" cy="290.91" r="1.35"/><circle cx="597.23" cy="290.74" r="1.35"/><circle cx="597.82" cy="290.62" r="1.35"/><circle cx="598.41" cy="290.51" r="1.35"/><circle cx="599.00" cy="290.00" r="1.35"/><circle cx="599.60" cy="290.45" r="1.35"/><circle cx="600.19" cy="290.54" r="1.35"/><circle cx="600.78" cy="289.86" r="1.35"/><circle cx="601.37" cy="289.96" r="1.35"/><circle cx="601.96" cy="289.75" r="1.35"/><circle cx="602.55" cy="289.57" r="1.35"/><circle cx="603.14" cy="289.62" r="1.35"/><circle cx="603.74" cy="288.73" r="1.35"/><circle cx="604.33" cy="288.51" r="1.35"/><circle cx="604.92" cy="288.81" r="1.35"/><circle cx="605.51" cy="288.25" r="1.35"/><circle cx="606.10" cy="288.00" r="1.35"/><circle cx="606.69" cy="287.87" r="1.35"/><circle cx="607.28" cy="287.74" r="1.35"/><circle cx="607.88" cy="288.42" r="1.35"/><circle cx="608.47" cy="288.20" r="1.35"/><circle cx="609.06" cy="287.77" r="1.35"/><circle cx="609.65" cy="288.21" r="1.35"/><circle cx="610.24" cy="288.20" r="1.35"/><circle cx="610.83" cy="288.38" r="1.35"/><circle cx="611.42" cy="288.45" r="1.35"/><circle cx="612.01" cy="287.90" r="1.35"/><circle cx="612.61" cy="288.38" r="1.35"/><circle cx="613.20" cy="288.74" r="1.35"/><circle cx="613.79" cy="288.21" r="1.35"/><circle cx="614.38" cy="288.24" r="1.35"/><circle cx="614.97" cy="288.02" r="1.35"/><circle cx="615.56" cy="288.05" r="1.35"/><circle cx="616.15" cy="288.46" r="1.35"/><circle cx="616.75" cy="287.80" r="1.35"/><circle cx="617.34" cy="287.58" r="1.35"/><circle cx="617.93" cy="287.99" r="1.35"/><circle cx="618.52" cy="287.75" r="1.35"/><circle cx="619.11" cy="287.80" r="1.35"/><circle cx="619.70" cy="287.52" r="1.35"/><circle cx="620.29" cy="287.10" r="1.35"/><circle cx="620.89" cy="287.69" r="1.35"/><circle cx="621.48" cy="287.55" r="1.35"/><circle cx="622.07" cy="287.01" r="1.35"/><circle cx="622.66" cy="287.16" r="1.35"/><circle cx="623.25" cy="286.96" r="1.35"/><circle cx="623.84" cy="287.14" r="1.35"/><circle cx="624.43" cy="287.23" r="1.35"/><circle cx="625.03" cy="286.54" r="1.35"/><circle cx="625.62" cy="286.85" r="1.35"/><circle cx="626.21" cy="287.27" r="1.35"/><circle cx="626.80" cy="287.01" r="1.35"/><circle cx="627.39" cy="287.16" r="1.35"/><circle cx="627.98" cy="286.90" r="1.35"/><circle cx="628.57" cy="286.95" r="1.35"/><circle cx="629.17" cy="287.62" r="1.35"/><circle cx="629.76" cy="287.20" r="1.35"/><circle cx="630.35" cy="286.98" r="1.35"/><circle cx="630.94" cy="287.35" r="1.35"/><circle cx="631.53" cy="287.18" r="1.35"/><circle cx="632.12" cy="287.38" r="1.35"/><circle cx="632.71" cy="287.12" r="1.35"/><circle cx="633.31" cy="286.52" r="1.35"/><circle cx="633.90" cy="287.03" r="1.35"/><circle cx="634.49" cy="287.03" r="1.35"/><circle cx="635.08" cy="286.59" r="1.35"/><circle cx="635.67" cy="286.63" r="1.35"/><circle cx="636.26" cy="286.27" r="1.35"/><circle cx="636.85" cy="286.49" r="1.35"/><circle cx="637.45" cy="286.75" r="1.35"/><circle cx="638.04" cy="286.03" r="1.35"/><circle cx="638.63" cy="286.12" r="1.35"/><circle cx="639.22" cy="286.45" r="1.35"/><circle cx="639.81" cy="286.30" r="1.35"/><circle cx="640.40" cy="286.52" r="1.35"/><circle cx="640.99" cy="286.13" r="1.35"/><circle cx="641.58" cy="285.97" r="1.35"/><circle cx="642.18" cy="286.67" r="1.35"/><circle cx="642.77" cy="286.39" r="1.35"/><circle cx="643.36" cy="286.12" r="1.35"/><circle cx="643.95" cy="286.30" r="1.35"/><circle cx="644.54" cy="286.09" r="1.35"/><circle cx="645.13" cy="286.47" r="1.35"/><circle cx="645.72" cy="286.36" r="1.35"/><circle cx="646.32" cy="285.66" r="1.35"/><circle cx="646.91" cy="286.04" r="1.35"/><circle cx="647.50" cy="286.15" r="1.35"/><circle cx="648.09" cy="285.90" r="1.35"/><circle cx="648.68" cy="285.96" r="1.35"/><circle cx="649.27" cy="285.46" r="1.35"/><circle cx="649.86" cy="285.63" r="1.35"/><circle cx="650.46" cy="286.09" r="1.35"/><circle cx="651.05" cy="285.47" r="1.35"/><circle cx="651.64" cy="285.43" r="1.35"/><circle cx="652.23" cy="285.62" r="1.35"/><circle cx="652.82" cy="285.54" r="1.35"/><circle cx="653.41" cy="285.93" r="1.35"/><circle cx="654.00" cy="285.54" r="1.35"/><circle cx="654.60" cy="285.19" r="1.35"/><circle cx="655.19" cy="285.84" r="1.35"/><circle cx="655.78" cy="285.74" r="1.35"/><circle cx="656.37" cy="285.55" r="1.35"/><circle cx="656.96" cy="285.61" r="1.35"/></g>
<g fill="#e0e8f6" stroke="#4472c4" stroke-width="0.95"><circle cx="390.00" cy="470.26" r="1.35"/><circle cx="390.59" cy="470.55" r="1.35"/><circle cx="391.18" cy="470.39" r="1.35"/><circle cx="391.77" cy="470.44" r="1.35"/><circle cx="392.37" cy="470.36" r="1.35"/><circle cx="392.96" cy="469.67" r="1.35"/><circle cx="393.55" cy="470.02" r="1.35"/><circle cx="394.14" cy="470.23" r="1.35"/><circle cx="394.73" cy="469.68" r="1.35"/><circle cx="395.32" cy="469.73" r="1.35"/><circle cx="395.91" cy="469.51" r="1.35"/><circle cx="396.51" cy="469.56" r="1.35"/><circle cx="397.10" cy="469.99" r="1.35"/><circle cx="397.69" cy="469.34" r="1.35"/><circle cx="398.28" cy="469.15" r="1.35"/><circle cx="398.87" cy="469.49" r="1.35"/><circle cx="399.46" cy="469.04" r="1.35"/><circle cx="400.05" cy="468.90" r="1.35"/><circle cx="400.65" cy="468.41" r="1.35"/><circle cx="401.24" cy="467.79" r="1.35"/><circle cx="401.83" cy="468.19" r="1.35"/><circle cx="402.42" cy="468.06" r="1.35"/><circle cx="403.01" cy="467.57" r="1.35"/><circle cx="403.60" cy="467.74" r="1.35"/><circle cx="404.19" cy="467.56" r="1.35"/><circle cx="404.79" cy="467.79" r="1.35"/><circle cx="405.38" cy="467.90" r="1.35"/><circle cx="405.97" cy="467.16" r="1.35"/><circle cx="406.56" cy="467.39" r="1.35"/><circle cx="407.15" cy="467.69" r="1.35"/><circle cx="407.74" cy="467.35" r="1.35"/><circle cx="408.33" cy="467.41" r="1.35"/><circle cx="408.92" cy="467.04" r="1.35"/><circle cx="409.52" cy="467.00" r="1.35"/><circle cx="410.11" cy="467.57" r="1.35"/><circle cx="410.70" cy="467.02" r="1.35"/><circle cx="411.29" cy="466.65" r="1.35"/><circle cx="411.88" cy="466.85" r="1.35"/><circle cx="412.47" cy="466.61" r="1.35"/><circle cx="413.06" cy="466.80" r="1.35"/><circle cx="413.66" cy="466.50" r="1.35"/><circle cx="414.25" cy="465.86" r="1.35"/><circle cx="414.84" cy="466.34" r="1.35"/><circle cx="415.43" cy="466.30" r="1.35"/><circle cx="416.02" cy="465.85" r="1.35"/><circle cx="416.61" cy="465.85" r="1.35"/><circle cx="417.20" cy="465.45" r="1.35"/><circle cx="417.80" cy="465.65" r="1.35"/><circle cx="418.39" cy="465.84" r="1.35"/><circle cx="418.98" cy="464.96" r="1.35"/><circle cx="419.57" cy="464.85" r="1.35"/><circle cx="420.16" cy="464.96" r="1.35"/><circle cx="420.75" cy="464.62" r="1.35"/><circle cx="421.34" cy="464.65" r="1.35"/><circle cx="421.94" cy="463.82" r="1.35"/><circle cx="422.53" cy="463.23" r="1.35"/><circle cx="423.12" cy="463.52" r="1.35"/><circle cx="423.71" cy="462.99" r="1.35"/><circle cx="424.30" cy="462.48" r="1.35"/><circle cx="424.89" cy="462.39" r="1.35"/><circle cx="425.48" cy="461.96" r="1.35"/><circle cx="426.08" cy="462.16" r="1.35"/><circle cx="426.67" cy="461.85" r="1.35"/><circle cx="427.26" cy="460.88" r="1.35"/><circle cx="427.85" cy="460.88" r="1.35"/><circle cx="428.44" cy="460.60" r="1.35"/><circle cx="429.03" cy="459.98" r="1.35"/><circle cx="429.62" cy="459.66" r="1.35"/><circle cx="430.22" cy="458.77" r="1.35"/><circle cx="430.81" cy="458.57" r="1.35"/><circle cx="431.40" cy="458.50" r="1.35"/><circle cx="431.99" cy="457.27" r="1.35"/><circle cx="432.58" cy="456.58" r="1.35"/><circle cx="433.17" cy="456.10" r="1.35"/><circle cx="433.76" cy="455.36" r="1.35"/><circle cx="434.36" cy="455.11" r="1.35"/><circle cx="434.95" cy="454.12" r="1.35"/><circle cx="435.54" cy="453.25" r="1.35"/><circle cx="436.13" cy="453.37" r="1.35"/><circle cx="436.72" cy="452.73" r="1.35"/><circle cx="437.31" cy="452.03" r="1.35"/><circle cx="437.90" cy="451.54" r="1.35"/><circle cx="438.49" cy="450.69" r="1.35"/><circle cx="439.09" cy="450.61" r="1.35"/><circle cx="439.68" cy="450.15" r="1.35"/><circle cx="440.27" cy="448.90" r="1.35"/><circle cx="440.86" cy="448.57" r="1.35"/><circle cx="441.45" cy="448.11" r="1.35"/><circle cx="442.04" cy="447.48" r="1.35"/><circle cx="442.63" cy="447.09" r="1.35"/><circle cx="443.23" cy="445.92" r="1.35"/><circle cx="443.82" cy="445.40" r="1.35"/><circle cx="444.41" cy="445.39" r="1.35"/><circle cx="445.00" cy="444.25" r="1.35"/><circle cx="445.59" cy="443.31" r="1.35"/><circle cx="446.18" cy="442.46" r="1.35"/><circle cx="446.77" cy="441.47" r="1.35"/><circle cx="447.37" cy="441.15" r="1.35"/><circle cx="447.96" cy="439.98" r="1.35"/><circle cx="448.55" cy="438.50" r="1.35"/><circle cx="449.14" cy="438.00" r="1.35"/><circle cx="449.73" cy="436.98" r="1.35"/><circle cx="450.32" cy="436.01" r="1.35"/><circle cx="450.91" cy="435.28" r="1.35"/><circle cx="451.51" cy="434.02" r="1.35"/><circle cx="452.10" cy="433.72" r="1.35"/><circle cx="452.69" cy="433.32" r="1.35"/><circle cx="453.28" cy="432.35" r="1.35"/><circle cx="453.87" cy="432.08" r="1.35"/><circle cx="454.46" cy="431.69" r="1.35"/><circle cx="455.05" cy="431.24" r="1.35"/><circle cx="455.65" cy="430.08" r="1.35"/><circle cx="456.24" cy="428.08" r="1.35"/><circle cx="456.83" cy="427.08" r="1.35"/><circle cx="457.42" cy="426.76" r="1.35"/><circle cx="458.01" cy="425.62" r="1.35"/><circle cx="458.60" cy="424.72" r="1.35"/><circle cx="459.19" cy="423.71" r="1.35"/><circle cx="459.79" cy="422.58" r="1.35"/><circle cx="460.38" cy="422.53" r="1.35"/><circle cx="460.97" cy="421.72" r="1.35"/><circle cx="461.56" cy="420.51" r="1.35"/><circle cx="462.15" cy="420.15" r="1.35"/><circle cx="462.74" cy="419.41" r="1.35"/><circle cx="463.33" cy="418.58" r="1.35"/><circle cx="463.93" cy="417.72" r="1.35"/><circle cx="464.52" cy="416.11" r="1.35"/><circle cx="465.11" cy="415.47" r="1.35"/><circle cx="465.70" cy="414.91" r="1.35"/><circle cx="466.29" cy="413.53" r="1.35"/><circle cx="466.88" cy="412.64" r="1.35"/><circle cx="467.47" cy="411.53" r="1.35"/><circle cx="468.06" cy="410.59" r="1.35"/><circle cx="468.66" cy="410.16" r="1.35"/><circle cx="469.25" cy="408.65" r="1.35"/><circle cx="469.84" cy="407.39" r="1.35"/><circle cx="470.43" cy="406.85" r="1.35"/><circle cx="471.02" cy="405.98" r="1.35"/><circle cx="471.61" cy="405.41" r="1.35"/><circle cx="472.20" cy="404.54" r="1.35"/><circle cx="472.80" cy="403.38" r="1.35"/><circle cx="473.39" cy="403.29" r="1.35"/><circle cx="473.98" cy="402.50" r="1.35"/><circle cx="474.57" cy="401.03" r="1.35"/><circle cx="475.16" cy="400.21" r="1.35"/><circle cx="475.75" cy="399.07" r="1.35"/><circle cx="476.34" cy="398.44" r="1.35"/><circle cx="476.94" cy="397.95" r="1.35"/><circle cx="477.53" cy="396.50" r="1.35"/><circle cx="478.12" cy="395.88" r="1.35"/><circle cx="478.71" cy="395.33" r="1.35"/><circle cx="479.30" cy="393.89" r="1.35"/><circle cx="479.89" cy="392.84" r="1.35"/><circle cx="480.48" cy="391.49" r="1.35"/><circle cx="481.08" cy="390.35" r="1.35"/><circle cx="481.67" cy="389.99" r="1.35"/><circle cx="482.26" cy="388.56" r="1.35"/><circle cx="482.85" cy="387.07" r="1.35"/><circle cx="483.44" cy="386.21" r="1.35"/><circle cx="484.03" cy="384.94" r="1.35"/><circle cx="484.62" cy="384.01" r="1.35"/><circle cx="485.22" cy="382.62" r="1.35"/><circle cx="485.81" cy="380.71" r="1.35"/><circle cx="486.40" cy="379.91" r="1.35"/><circle cx="486.99" cy="379.27" r="1.35"/><circle cx="487.58" cy="378.35" r="1.35"/><circle cx="488.17" cy="377.88" r="1.35"/><circle cx="488.76" cy="376.99" r="1.35"/><circle cx="489.36" cy="376.62" r="1.35"/><circle cx="489.95" cy="376.56" r="1.35"/><circle cx="490.54" cy="375.50" r="1.35"/><circle cx="491.13" cy="375.05" r="1.35"/><circle cx="491.72" cy="374.96" r="1.35"/><circle cx="492.31" cy="374.41" r="1.35"/><circle cx="492.90" cy="374.24" r="1.35"/><circle cx="493.50" cy="372.86" r="1.35"/><circle cx="494.09" cy="371.55" r="1.35"/><circle cx="494.68" cy="371.22" r="1.35"/><circle cx="495.27" cy="369.95" r="1.35"/><circle cx="495.86" cy="367.95" r="1.35"/><circle cx="496.45" cy="366.40" r="1.35"/><circle cx="497.04" cy="364.47" r="1.35"/><circle cx="497.63" cy="363.15" r="1.35"/><circle cx="498.23" cy="361.50" r="1.35"/><circle cx="498.82" cy="359.47" r="1.35"/><circle cx="499.41" cy="358.63" r="1.35"/><circle cx="500.00" cy="357.67" r="1.35"/><circle cx="500.59" cy="356.32" r="1.35"/><circle cx="501.18" cy="355.30" r="1.35"/><circle cx="501.77" cy="353.67" r="1.35"/><circle cx="502.37" cy="352.85" r="1.35"/><circle cx="502.96" cy="352.66" r="1.35"/><circle cx="503.55" cy="351.38" r="1.35"/><circle cx="504.14" cy="350.47" r="1.35"/><circle cx="504.73" cy="349.86" r="1.35"/><circle cx="505.32" cy="348.71" r="1.35"/><circle cx="505.91" cy="347.88" r="1.35"/><circle cx="506.51" cy="346.33" r="1.35"/><circle cx="507.10" cy="344.61" r="1.35"/><circle cx="507.69" cy="344.15" r="1.35"/><circle cx="508.28" cy="343.29" r="1.35"/><circle cx="508.87" cy="342.26" r="1.35"/><circle cx="509.46" cy="341.79" r="1.35"/><circle cx="510.05" cy="340.95" r="1.35"/><circle cx="510.65" cy="340.94" r="1.35"/><circle cx="511.24" cy="340.75" r="1.35"/><circle cx="511.83" cy="339.64" r="1.35"/><circle cx="512.42" cy="339.16" r="1.35"/><circle cx="513.01" cy="338.52" r="1.35"/><circle cx="513.60" cy="337.68" r="1.35"/><circle cx="514.19" cy="337.18" r="1.35"/><circle cx="514.79" cy="335.74" r="1.35"/><circle cx="515.38" cy="334.72" r="1.35"/><circle cx="515.97" cy="334.40" r="1.35"/><circle cx="516.56" cy="333.13" r="1.35"/><circle cx="517.15" cy="331.91" r="1.35"/><circle cx="517.74" cy="330.73" r="1.35"/><circle cx="518.33" cy="329.33" r="1.35"/><circle cx="518.93" cy="328.68" r="1.35"/><circle cx="519.52" cy="327.43" r="1.35"/><circle cx="520.11" cy="325.93" r="1.35"/><circle cx="520.70" cy="326.00" r="1.35"/><circle cx="521.29" cy="325.67" r="1.35"/><circle cx="521.88" cy="325.27" r="1.35"/><circle cx="522.47" cy="324.99" r="1.35"/><circle cx="523.07" cy="323.98" r="1.35"/><circle cx="523.66" cy="323.08" r="1.35"/><circle cx="524.25" cy="322.25" r="1.35"/><circle cx="524.84" cy="320.46" r="1.35"/><circle cx="525.43" cy="319.27" r="1.35"/><circle cx="526.02" cy="318.49" r="1.35"/><circle cx="526.61" cy="317.69" r="1.35"/><circle cx="527.20" cy="317.36" r="1.35"/><circle cx="527.80" cy="316.11" r="1.35"/><circle cx="528.39" cy="315.44" r="1.35"/><circle cx="528.98" cy="315.60" r="1.35"/><circle cx="529.57" cy="315.01" r="1.35"/><circle cx="530.16" cy="314.58" r="1.35"/><circle cx="530.75" cy="314.08" r="1.35"/><circle cx="531.34" cy="313.47" r="1.35"/><circle cx="531.94" cy="313.83" r="1.35"/><circle cx="532.53" cy="313.62" r="1.35"/><circle cx="533.12" cy="312.80" r="1.35"/><circle cx="533.71" cy="312.81" r="1.35"/><circle cx="534.30" cy="312.55" r="1.35"/><circle cx="534.89" cy="312.41" r="1.35"/><circle cx="535.48" cy="312.37" r="1.35"/><circle cx="536.08" cy="311.46" r="1.35"/><circle cx="536.67" cy="311.39" r="1.35"/><circle cx="537.26" cy="311.62" r="1.35"/><circle cx="537.85" cy="310.91" r="1.35"/><circle cx="538.44" cy="310.61" r="1.35"/><circle cx="539.03" cy="310.14" r="1.35"/><circle cx="539.62" cy="309.73" r="1.35"/><circle cx="540.22" cy="310.00" r="1.35"/><circle cx="540.81" cy="309.15" r="1.35"/><circle cx="541.40" cy="308.30" r="1.35"/><circle cx="541.99" cy="308.28" r="1.35"/><circle cx="542.58" cy="307.72" r="1.35"/><circle cx="543.17" cy="307.37" r="1.35"/><circle cx="543.76" cy="306.81" r="1.35"/><circle cx="544.36" cy="305.78" r="1.35"/><circle cx="544.95" cy="305.82" r="1.35"/><circle cx="545.54" cy="305.52" r="1.35"/><circle cx="546.13" cy="304.64" r="1.35"/><circle cx="546.72" cy="304.54" r="1.35"/><circle cx="547.31" cy="304.16" r="1.35"/><circle cx="547.90" cy="304.09" r="1.35"/><circle cx="548.50" cy="304.23" r="1.35"/><circle cx="549.09" cy="303.49" r="1.35"/><circle cx="549.68" cy="303.57" r="1.35"/><circle cx="550.27" cy="304.12" r="1.35"/><circle cx="550.86" cy="303.99" r="1.35"/><circle cx="551.45" cy="304.20" r="1.35"/><circle cx="552.04" cy="303.74" r="1.35"/><circle cx="552.64" cy="303.08" r="1.35"/><circle cx="553.23" cy="303.34" r="1.35"/><circle cx="553.82" cy="302.70" r="1.35"/><circle cx="554.41" cy="301.85" r="1.35"/><circle cx="555.00" cy="301.80" r="1.35"/><circle cx="555.59" cy="301.45" r="1.35"/><circle cx="556.18" cy="301.52" r="1.35"/><circle cx="556.77" cy="301.35" r="1.35"/><circle cx="557.37" cy="300.46" r="1.35"/><circle cx="557.96" cy="300.56" r="1.35"/><circle cx="558.55" cy="300.50" r="1.35"/><circle cx="559.14" cy="299.83" r="1.35"/><circle cx="559.73" cy="299.59" r="1.35"/><circle cx="560.32" cy="298.93" r="1.35"/><circle cx="560.91" cy="298.79" r="1.35"/><circle cx="561.51" cy="299.17" r="1.35"/><circle cx="562.10" cy="298.43" r="1.35"/><circle cx="562.69" cy="298.10" r="1.35"/><circle cx="563.28" cy="298.26" r="1.35"/><circle cx="563.87" cy="298.01" r="1.35"/><circle cx="564.46" cy="298.21" r="1.35"/><circle cx="565.05" cy="297.86" r="1.35"/><circle cx="565.65" cy="297.37" r="1.35"/><circle cx="566.24" cy="297.95" r="1.35"/><circle cx="566.83" cy="297.95" r="1.35"/><circle cx="567.42" cy="297.68" r="1.35"/><circle cx="568.01" cy="297.89" r="1.35"/><circle cx="568.60" cy="297.72" r="1.35"/><circle cx="569.19" cy="298.16" r="1.35"/><circle cx="569.79" cy="298.22" r="1.35"/><circle cx="570.38" cy="297.23" r="1.35"/><circle cx="570.97" cy="297.15" r="1.35"/><circle cx="571.56" cy="297.15" r="1.35"/><circle cx="572.15" cy="296.70" r="1.35"/><circle cx="572.74" cy="296.62" r="1.35"/><circle cx="573.33" cy="295.92" r="1.35"/><circle cx="573.93" cy="295.63" r="1.35"/><circle cx="574.52" cy="296.02" r="1.35"/><circle cx="575.11" cy="295.36" r="1.35"/><circle cx="575.70" cy="294.99" r="1.35"/><circle cx="576.29" cy="295.02" r="1.35"/><circle cx="576.88" cy="294.73" r="1.35"/><circle cx="577.47" cy="295.03" r="1.35"/><circle cx="578.07" cy="294.73" r="1.35"/><circle cx="578.66" cy="294.20" r="1.35"/><circle cx="579.25" cy="294.78" r="1.35"/><circle cx="579.84" cy="294.90" r="1.35"/><circle cx="580.43" cy="294.75" r="1.35"/><circle cx="581.02" cy="294.89" r="1.35"/><circle cx="581.61" cy="294.52" r="1.35"/><circle cx="582.21" cy="294.90" r="1.35"/><circle cx="582.80" cy="295.35" r="1.35"/><circle cx="583.39" cy="294.76" r="1.35"/><circle cx="583.98" cy="294.85" r="1.35"/><circle cx="584.57" cy="295.04" r="1.35"/><circle cx="585.16" cy="294.97" r="1.35"/><circle cx="585.75" cy="295.32" r="1.35"/><circle cx="586.34" cy="294.85" r="1.35"/><circle cx="586.94" cy="294.64" r="1.35"/><circle cx="587.53" cy="295.30" r="1.35"/><circle cx="588.12" cy="295.09" r="1.35"/><circle cx="588.71" cy="294.94" r="1.35"/><circle cx="589.30" cy="294.98" r="1.35"/><circle cx="589.89" cy="294.69" r="1.35"/><circle cx="590.48" cy="295.15" r="1.35"/><circle cx="591.08" cy="295.05" r="1.35"/><circle cx="591.67" cy="294.33" r="1.35"/><circle cx="592.26" cy="294.59" r="1.35"/><circle cx="592.85" cy="294.60" r="1.35"/><circle cx="593.44" cy="294.48" r="1.35"/><circle cx="594.03" cy="294.55" r="1.35"/><circle cx="594.62" cy="293.90" r="1.35"/><circle cx="595.22" cy="294.03" r="1.35"/><circle cx="595.81" cy="294.45" r="1.35"/><circle cx="596.40" cy="293.82" r="1.35"/><circle cx="596.99" cy="293.65" r="1.35"/><circle cx="597.58" cy="293.53" r="1.35"/><circle cx="598.17" cy="293.32" r="1.35"/><circle cx="598.76" cy="293.68" r="1.35"/><circle cx="599.36" cy="293.13" r="1.35"/><circle cx="599.95" cy="292.60" r="1.35"/><circle cx="600.54" cy="293.01" r="1.35"/><circle cx="601.13" cy="292.78" r="1.35"/><circle cx="601.72" cy="292.60" r="1.35"/><circle cx="602.31" cy="292.41" r="1.35"/><circle cx="602.90" cy="291.81" r="1.35"/><circle cx="603.50" cy="292.19" r="1.35"/><circle cx="604.09" cy="292.19" r="1.35"/><circle cx="604.68" cy="291.43" r="1.35"/><circle cx="605.27" cy="291.46" r="1.35"/><circle cx="605.86" cy="291.30" r="1.35"/><circle cx="606.45" cy="291.21" r="1.35"/><circle cx="607.04" cy="291.34" r="1.35"/><circle cx="607.64" cy="290.58" r="1.35"/><circle cx="608.23" cy="290.53" r="1.35"/><circle cx="608.82" cy="290.99" r="1.35"/><circle cx="609.41" cy="290.60" r="1.35"/><circle cx="610.00" cy="290.52" r="1.35"/><circle cx="610.59" cy="290.31" r="1.35"/><circle cx="611.18" cy="290.05" r="1.35"/><circle cx="611.78" cy="290.60" r="1.35"/><circle cx="612.37" cy="290.25" r="1.35"/><circle cx="612.96" cy="289.69" r="1.35"/><circle cx="613.55" cy="290.05" r="1.35"/><circle cx="614.14" cy="290.00" r="1.35"/><circle cx="614.73" cy="290.14" r="1.35"/><circle cx="615.32" cy="290.17" r="1.35"/><circle cx="615.91" cy="289.57" r="1.35"/><circle cx="616.51" cy="290.02" r="1.35"/><circle cx="617.10" cy="290.34" r="1.35"/><circle cx="617.69" cy="289.88" r="1.35"/><circle cx="618.28" cy="289.95" r="1.35"/><circle cx="618.87" cy="289.73" r="1.35"/><circle cx="619.46" cy="289.74" r="1.35"/><circle cx="620.05" cy="290.15" r="1.35"/><circle cx="620.65" cy="289.48" r="1.35"/><circle cx="621.24" cy="289.26" r="1.35"/><circle cx="621.83" cy="289.66" r="1.35"/><circle cx="622.42" cy="289.41" r="1.35"/><circle cx="623.01" cy="289.47" r="1.35"/><circle cx="623.60" cy="289.19" r="1.35"/><circle cx="624.19" cy="288.77" r="1.35"/><circle cx="624.79" cy="289.44" r="1.35"/><circle cx="625.38" cy="289.55" r="1.35"/><circle cx="625.97" cy="289.27" r="1.35"/><circle cx="626.56" cy="289.68" r="1.35"/><circle cx="627.15" cy="289.74" r="1.35"/><circle cx="627.74" cy="290.18" r="1.35"/><circle cx="628.33" cy="290.26" r="1.35"/><circle cx="628.93" cy="289.39" r="1.35"/><circle cx="629.52" cy="289.48" r="1.35"/><circle cx="630.11" cy="289.68" r="1.35"/><circle cx="630.70" cy="289.20" r="1.35"/><circle cx="631.29" cy="289.18" r="1.35"/><circle cx="631.88" cy="288.83" r="1.35"/><circle cx="632.47" cy="288.78" r="1.35"/><circle cx="633.07" cy="289.36" r="1.35"/><circle cx="633.66" cy="288.85" r="1.35"/><circle cx="634.25" cy="288.54" r="1.35"/><circle cx="634.84" cy="288.82" r="1.35"/><circle cx="635.43" cy="288.65" r="1.35"/><circle cx="636.02" cy="288.89" r="1.35"/><circle cx="636.61" cy="288.67" r="1.35"/><circle cx="637.21" cy="288.10" r="1.35"/><circle cx="637.80" cy="288.66" r="1.35"/><circle cx="638.39" cy="288.81" r="1.35"/><circle cx="638.98" cy="288.51" r="1.35"/><circle cx="639.57" cy="288.69" r="1.35"/><circle cx="640.16" cy="288.48" r="1.35"/><circle cx="640.75" cy="288.83" r="1.35"/><circle cx="641.35" cy="289.14" r="1.35"/><circle cx="641.94" cy="288.33" r="1.35"/><circle cx="642.53" cy="288.29" r="1.35"/><circle cx="643.12" cy="288.50" r="1.35"/><circle cx="643.71" cy="288.22" r="1.35"/><circle cx="644.30" cy="288.32" r="1.35"/><circle cx="644.89" cy="287.88" r="1.35"/><circle cx="645.48" cy="287.67" r="1.35"/><circle cx="646.08" cy="288.31" r="1.35"/><circle cx="646.67" cy="287.98" r="1.35"/><circle cx="647.26" cy="287.65" r="1.35"/><circle cx="647.85" cy="287.77" r="1.35"/><circle cx="648.44" cy="287.54" r="1.35"/><circle cx="649.03" cy="287.93" r="1.35"/><circle cx="649.62" cy="287.83" r="1.35"/><circle cx="650.22" cy="287.14" r="1.35"/><circle cx="650.81" cy="287.52" r="1.35"/><circle cx="651.40" cy="287.69" r="1.35"/><circle cx="651.99" cy="287.50" r="1.35"/><circle cx="652.58" cy="287.62" r="1.35"/><circle cx="653.17" cy="287.19" r="1.35"/><circle cx="653.76" cy="287.42" r="1.35"/><circle cx="654.36" cy="287.94" r="1.35"/><circle cx="654.95" cy="287.37" r="1.35"/><circle cx="655.54" cy="287.33" r="1.35"/><circle cx="656.13" cy="287.52" r="1.35"/><circle cx="656.72" cy="287.44" r="1.35"/><circle cx="657.31" cy="287.83" r="1.35"/></g></svg>
</body></html>
